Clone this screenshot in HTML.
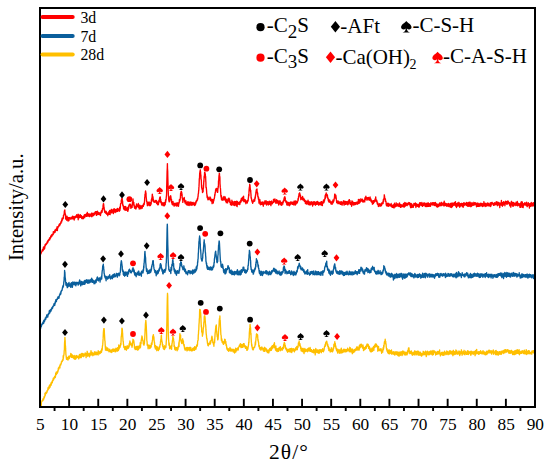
<!DOCTYPE html>
<html><head><meta charset="utf-8"><style>
html,body{margin:0;padding:0;background:#fff;}
body{width:550px;height:466px;overflow:hidden;}
svg{display:block;}
text{font-family:"Liberation Serif",serif;fill:#000;}
</style></head><body>
<svg width="550" height="466" viewBox="0 0 550 466">
<rect width="550" height="466" fill="#fff"/>
<path d="M40.0,406.8L40.1,402.9L40.3,404.9L40.4,404.0L40.6,403.8L40.7,403.7L40.8,402.2L41.0,403.3L41.1,402.7L41.3,405.4L41.4,402.7L41.5,402.0L41.7,401.7L41.8,401.2L42.0,400.7L42.1,400.8L42.2,401.1L42.4,400.3L42.5,400.9L42.7,399.8L42.8,399.7L42.9,400.5L43.1,399.5L43.2,398.4L43.4,398.7L43.5,398.9L43.6,399.7L43.8,397.7L43.9,397.5L44.1,398.1L44.2,396.4L44.3,396.8L44.5,397.3L44.6,396.6L44.8,395.8L44.9,396.0L45.0,393.1L45.2,395.7L45.3,393.8L45.5,392.8L45.6,393.9L45.7,394.0L45.9,392.9L46.0,392.3L46.2,392.8L46.3,392.4L46.4,393.4L46.6,392.7L46.7,392.1L46.9,392.7L47.0,391.3L47.1,390.5L47.3,391.3L47.4,391.0L47.6,390.3L47.7,389.7L47.8,390.3L48.0,387.8L48.1,389.8L48.3,389.4L48.4,387.5L48.5,388.6L48.7,387.6L48.8,388.7L49.0,386.2L49.1,386.8L49.2,387.8L49.4,388.0L49.5,385.3L49.7,386.3L49.8,386.7L49.9,385.7L50.1,387.1L50.2,384.6L50.4,385.6L50.5,384.2L50.6,385.7L50.8,384.5L50.9,383.9L51.1,382.8L51.2,385.2L51.3,384.1L51.5,383.7L51.6,383.7L51.8,382.9L51.9,381.9L52.0,381.6L52.2,381.3L52.3,382.7L52.5,380.2L52.6,380.6L52.7,380.5L52.9,380.7L53.0,380.7L53.2,378.8L53.3,378.1L53.4,379.2L53.6,379.9L53.7,379.4L53.9,378.6L54.0,377.8L54.1,378.0L54.3,377.4L54.4,378.1L54.6,376.4L54.7,376.9L54.8,376.3L55.0,376.5L55.1,375.9L55.3,377.5L55.4,376.5L55.5,376.4L55.7,373.3L55.8,374.1L56.0,373.8L56.1,374.4L56.2,372.1L56.4,374.5L56.5,374.1L56.7,372.1L56.8,372.0L56.9,372.0L57.1,372.4L57.2,372.5L57.4,373.1L57.5,371.1L57.6,371.5L57.8,370.8L57.9,371.8L58.1,370.4L58.2,370.6L58.3,368.3L58.5,368.8L58.6,367.8L58.8,369.2L58.9,368.3L59.0,367.3L59.2,367.0L59.3,367.4L59.5,366.4L59.6,366.0L59.7,366.6L59.9,367.9L60.0,365.6L60.2,365.1L60.3,364.3L60.4,364.1L60.6,365.0L60.7,365.0L60.9,364.1L61.0,364.3L61.1,363.7L61.3,363.4L61.4,361.7L61.6,362.2L61.7,362.2L61.8,361.4L62.0,361.3L62.1,360.6L62.3,360.7L62.4,361.3L62.5,359.9L62.7,359.6L62.8,360.0L63.0,359.6L63.1,360.2L63.2,355.8L63.4,358.1L63.5,356.1L63.7,355.9L63.8,355.3L63.9,354.7L64.1,353.3L64.2,350.6L64.4,349.9L64.5,345.1L64.6,342.3L64.8,340.6L64.9,337.4L65.1,340.0L65.2,340.7L65.3,345.0L65.5,346.1L65.6,348.9L65.8,352.0L65.9,354.6L66.0,354.7L66.2,356.8L66.3,357.2L66.5,359.3L66.6,357.6L66.7,359.4L66.9,357.7L67.0,357.5L67.2,357.8L67.3,357.4L67.4,358.6L67.6,359.5L67.7,358.7L67.9,359.1L68.0,360.0L68.1,358.6L68.3,358.6L68.4,358.0L68.6,356.6L68.7,358.9L68.8,356.1L69.0,358.4L69.1,357.5L69.3,358.5L69.4,357.1L69.5,356.1L69.7,357.2L69.8,356.1L70.0,356.3L70.1,356.5L70.2,356.3L70.4,355.9L70.5,355.3L70.7,355.6L70.8,353.4L70.9,355.5L71.1,354.5L71.2,357.0L71.4,357.3L71.5,354.1L71.6,356.5L71.8,356.2L71.9,355.4L72.1,357.3L72.2,356.3L72.3,355.0L72.5,356.7L72.6,356.9L72.8,357.3L72.9,356.0L73.0,357.7L73.2,357.8L73.3,356.0L73.5,356.6L73.6,356.9L73.7,356.3L73.9,358.6L74.0,356.8L74.2,355.5L74.3,355.8L74.4,356.6L74.6,359.1L74.7,356.6L74.9,357.0L75.0,357.4L75.1,357.0L75.3,359.3L75.4,356.3L75.6,357.6L75.7,357.1L75.8,357.3L76.0,355.6L76.1,358.7L76.3,356.7L76.4,356.8L76.5,355.6L76.7,355.5L76.8,356.8L77.0,357.2L77.1,357.0L77.2,357.3L77.4,357.1L77.5,356.4L77.7,357.1L77.8,356.9L77.9,356.3L78.1,357.2L78.2,357.8L78.4,356.8L78.5,356.2L78.6,357.4L78.8,358.8L78.9,356.7L79.1,356.6L79.2,356.4L79.3,357.6L79.5,354.4L79.6,356.5L79.8,357.4L79.9,355.2L80.0,357.6L80.2,356.4L80.3,355.2L80.5,356.0L80.6,354.1L80.7,355.1L80.9,357.5L81.0,354.6L81.2,357.6L81.3,355.9L81.4,357.0L81.6,355.9L81.7,353.4L81.9,354.8L82.0,355.7L82.1,354.3L82.3,354.2L82.4,356.0L82.6,354.8L82.7,353.5L82.8,354.7L83.0,356.2L83.1,354.9L83.3,356.2L83.4,356.6L83.5,355.0L83.7,353.8L83.8,353.8L84.0,355.2L84.1,356.2L84.2,355.6L84.4,355.5L84.5,354.4L84.7,355.2L84.8,354.6L84.9,354.7L85.1,353.5L85.2,353.0L85.4,354.1L85.5,353.2L85.6,353.6L85.8,355.3L85.9,354.5L86.1,357.6L86.2,355.6L86.3,353.9L86.5,355.7L86.6,355.2L86.8,354.0L86.9,355.6L87.0,353.6L87.2,351.3L87.3,355.4L87.5,354.1L87.6,356.2L87.7,353.9L87.9,353.2L88.0,355.9L88.2,353.3L88.3,354.5L88.4,355.9L88.6,354.7L88.7,354.6L88.9,354.9L89.0,355.7L89.1,354.0L89.3,355.4L89.4,355.2L89.6,356.8L89.7,354.1L89.8,353.2L90.0,355.2L90.1,354.1L90.3,354.5L90.4,354.2L90.5,355.1L90.7,352.7L90.8,353.1L91.0,350.7L91.1,352.4L91.2,355.1L91.4,352.7L91.5,352.7L91.7,352.3L91.8,354.3L91.9,354.1L92.1,352.4L92.2,354.3L92.4,354.0L92.5,354.2L92.6,353.0L92.8,355.7L92.9,354.5L93.1,353.9L93.2,353.4L93.3,353.5L93.5,354.7L93.6,353.5L93.8,354.8L93.9,354.2L94.0,355.0L94.2,354.5L94.3,353.6L94.5,351.8L94.6,354.1L94.7,354.5L94.9,353.9L95.0,353.9L95.2,352.8L95.3,352.9L95.4,352.3L95.6,354.6L95.7,353.3L95.9,352.8L96.0,352.0L96.1,353.1L96.3,354.7L96.4,353.6L96.6,352.4L96.7,354.5L96.8,354.2L97.0,353.8L97.1,353.8L97.3,354.2L97.4,353.6L97.5,353.9L97.7,352.2L97.8,354.5L98.0,353.3L98.1,355.0L98.2,350.7L98.4,353.3L98.5,353.6L98.7,352.3L98.8,353.0L98.9,353.3L99.1,353.0L99.2,351.8L99.4,352.2L99.5,353.5L99.6,353.9L99.8,352.8L99.9,352.8L100.1,352.5L100.2,353.4L100.3,351.4L100.5,351.2L100.6,352.4L100.8,351.1L100.9,351.6L101.0,352.2L101.2,352.5L101.3,350.7L101.5,352.3L101.6,349.3L101.7,351.2L101.9,348.5L102.0,348.5L102.2,349.9L102.3,348.1L102.4,346.4L102.6,345.5L102.7,344.9L102.9,342.3L103.0,340.2L103.1,338.9L103.3,334.5L103.4,332.2L103.6,330.0L103.7,329.7L103.8,328.6L104.0,328.9L104.1,328.6L104.3,330.3L104.4,333.5L104.5,334.9L104.7,338.3L104.8,340.5L105.0,341.0L105.1,343.3L105.2,345.0L105.4,348.1L105.5,350.1L105.7,347.9L105.8,348.7L105.9,346.7L106.1,349.5L106.2,349.3L106.4,348.2L106.5,350.2L106.6,347.8L106.8,349.2L106.9,349.7L107.1,348.2L107.2,350.4L107.3,350.6L107.5,348.0L107.6,348.0L107.8,350.1L107.9,349.6L108.0,348.3L108.2,349.2L108.3,349.5L108.5,349.7L108.6,350.7L108.7,350.2L108.9,351.7L109.0,351.3L109.2,350.9L109.3,351.4L109.4,351.6L109.6,351.1L109.7,349.1L109.9,351.2L110.0,350.4L110.1,351.7L110.3,350.4L110.4,351.0L110.6,350.7L110.7,352.0L110.8,350.5L111.0,350.4L111.1,351.1L111.3,350.0L111.4,350.6L111.5,350.5L111.7,350.7L111.8,352.5L112.0,350.2L112.1,350.3L112.2,350.4L112.4,351.1L112.5,349.2L112.7,349.6L112.8,350.3L112.9,350.7L113.1,349.9L113.2,349.1L113.4,349.0L113.5,350.4L113.6,351.4L113.8,350.3L113.9,350.1L114.1,350.4L114.2,349.4L114.3,350.0L114.5,350.0L114.6,350.5L114.8,350.2L114.9,349.1L115.0,351.5L115.2,351.9L115.3,350.0L115.5,350.2L115.6,350.1L115.7,350.7L115.9,348.3L116.0,351.5L116.2,349.2L116.3,350.7L116.4,349.5L116.6,349.0L116.7,349.1L116.9,350.2L117.0,348.3L117.1,348.8L117.3,348.8L117.4,347.7L117.6,351.1L117.7,350.4L117.8,349.5L118.0,350.4L118.1,347.9L118.3,348.7L118.4,350.4L118.5,349.6L118.7,346.1L118.8,344.9L119.0,347.0L119.1,349.0L119.2,347.3L119.4,347.4L119.5,348.0L119.7,346.2L119.8,347.0L119.9,347.4L120.1,346.9L120.2,346.6L120.4,345.0L120.5,345.5L120.6,343.5L120.8,344.3L120.9,344.6L121.1,339.9L121.2,336.7L121.3,336.6L121.5,335.3L121.6,334.0L121.8,332.3L121.9,328.8L122.0,328.2L122.2,330.3L122.3,328.9L122.5,332.6L122.6,333.1L122.7,336.1L122.9,338.4L123.0,340.3L123.2,341.9L123.3,341.4L123.4,344.1L123.6,344.7L123.7,345.8L123.9,347.4L124.0,346.6L124.1,346.5L124.3,346.9L124.4,347.3L124.6,348.6L124.7,347.1L124.8,349.5L125.0,348.3L125.1,347.7L125.3,346.7L125.4,348.4L125.5,348.8L125.7,346.4L125.8,349.3L126.0,349.7L126.1,348.3L126.2,348.1L126.4,350.2L126.5,349.0L126.7,347.0L126.8,348.1L126.9,347.9L127.1,347.9L127.2,345.6L127.4,348.7L127.5,347.2L127.6,348.0L127.8,347.6L127.9,348.5L128.1,347.2L128.2,346.5L128.3,347.6L128.5,348.1L128.6,346.1L128.8,347.5L128.9,346.0L129.0,344.7L129.2,346.4L129.3,343.5L129.5,344.9L129.6,342.8L129.7,343.1L129.9,341.0L130.0,341.2L130.2,343.0L130.3,342.6L130.4,342.8L130.6,342.9L130.7,344.4L130.9,343.1L131.0,343.6L131.1,345.2L131.3,344.5L131.4,345.0L131.6,345.6L131.7,345.6L131.8,345.4L132.0,347.3L132.1,346.1L132.3,345.9L132.4,344.0L132.5,343.2L132.7,341.5L132.8,341.9L133.0,339.3L133.1,340.4L133.2,341.5L133.4,342.4L133.5,341.6L133.7,340.2L133.8,342.2L133.9,341.4L134.1,344.0L134.2,343.9L134.4,345.6L134.5,348.0L134.6,346.9L134.8,348.8L134.9,347.1L135.1,347.1L135.2,349.0L135.3,349.5L135.5,347.4L135.6,348.2L135.8,346.8L135.9,348.0L136.0,349.3L136.2,348.1L136.3,347.5L136.5,346.5L136.6,348.4L136.7,348.8L136.9,348.8L137.0,348.4L137.2,346.8L137.3,350.1L137.4,348.1L137.6,348.0L137.7,348.9L137.9,346.1L138.0,348.2L138.1,348.2L138.3,348.7L138.4,349.7L138.6,349.0L138.7,346.4L138.8,348.0L139.0,348.5L139.1,348.1L139.3,346.5L139.4,345.8L139.5,347.8L139.7,347.4L139.8,346.7L140.0,344.7L140.1,347.9L140.2,342.8L140.4,345.3L140.5,347.3L140.7,344.4L140.8,344.3L140.9,341.9L141.1,343.6L141.2,340.0L141.4,340.7L141.5,339.7L141.6,337.7L141.8,338.8L141.9,336.0L142.1,336.5L142.2,337.4L142.3,337.5L142.5,338.7L142.6,340.1L142.8,339.9L142.9,340.3L143.0,341.0L143.2,341.9L143.3,343.9L143.5,343.5L143.6,344.4L143.7,344.2L143.9,343.5L144.0,345.2L144.2,342.7L144.3,343.1L144.4,343.7L144.6,339.8L144.7,339.0L144.9,335.1L145.0,333.5L145.1,329.7L145.3,327.6L145.4,324.3L145.6,322.3L145.7,322.3L145.8,320.4L146.0,322.1L146.1,323.7L146.3,326.6L146.4,329.2L146.5,331.3L146.7,336.3L146.8,340.3L147.0,341.3L147.1,341.8L147.2,345.3L147.4,344.2L147.5,344.7L147.7,344.6L147.8,345.2L147.9,346.4L148.1,348.8L148.2,346.7L148.4,345.7L148.5,346.3L148.6,346.9L148.8,345.2L148.9,347.2L149.1,347.7L149.2,347.5L149.3,347.7L149.5,345.9L149.6,345.5L149.8,348.6L149.9,348.3L150.0,345.4L150.2,347.2L150.3,346.9L150.5,347.8L150.6,347.4L150.7,346.6L150.9,347.3L151.0,347.1L151.2,346.7L151.3,344.5L151.4,343.1L151.6,344.8L151.7,343.4L151.9,344.5L152.0,344.0L152.1,342.8L152.3,340.9L152.4,340.2L152.6,340.0L152.7,336.6L152.8,336.9L153.0,335.9L153.1,335.1L153.3,336.4L153.4,334.6L153.5,337.1L153.7,336.4L153.8,337.5L154.0,338.5L154.1,341.3L154.2,340.7L154.4,342.8L154.5,342.4L154.7,345.1L154.8,346.9L154.9,345.7L155.1,347.6L155.2,346.8L155.4,349.0L155.5,347.1L155.6,345.7L155.8,348.8L155.9,347.4L156.1,346.5L156.2,347.1L156.3,346.5L156.5,348.3L156.6,347.8L156.8,350.7L156.9,349.6L157.0,347.3L157.2,347.5L157.3,348.5L157.5,346.9L157.6,348.8L157.7,348.6L157.9,348.0L158.0,348.2L158.2,349.5L158.3,350.4L158.4,350.5L158.6,348.9L158.7,349.7L158.9,348.1L159.0,349.2L159.1,347.6L159.3,349.1L159.4,346.7L159.6,346.4L159.7,347.2L159.8,347.4L160.0,344.8L160.1,345.0L160.3,344.8L160.4,343.9L160.5,341.6L160.7,341.4L160.8,339.5L161.0,340.0L161.1,338.2L161.2,336.1L161.4,335.2L161.5,338.0L161.7,340.1L161.8,340.0L161.9,342.0L162.1,341.8L162.2,341.8L162.4,344.6L162.5,345.1L162.6,346.3L162.8,344.4L162.9,346.6L163.1,346.2L163.2,348.2L163.3,346.8L163.5,346.9L163.6,347.2L163.8,349.2L163.9,348.0L164.0,347.1L164.2,346.8L164.3,346.9L164.5,349.5L164.6,345.8L164.7,346.8L164.9,348.2L165.0,348.5L165.2,347.0L165.3,347.5L165.4,347.5L165.6,347.5L165.7,346.2L165.9,347.3L166.0,345.0L166.1,345.2L166.3,340.8L166.4,340.4L166.6,334.8L166.7,329.4L166.8,325.0L167.0,316.0L167.1,308.7L167.3,299.1L167.4,296.3L167.5,293.3L167.7,295.9L167.8,304.6L168.0,313.9L168.1,320.5L168.2,328.9L168.4,336.0L168.5,338.9L168.7,340.8L168.8,342.5L168.9,345.1L169.1,343.8L169.2,342.9L169.4,345.5L169.5,345.4L169.6,348.7L169.8,347.2L169.9,346.1L170.1,346.2L170.2,347.8L170.3,346.7L170.5,347.1L170.6,347.8L170.8,348.0L170.9,348.0L171.0,347.7L171.2,348.9L171.3,349.0L171.5,345.3L171.6,349.3L171.7,345.9L171.9,346.3L172.0,343.4L172.2,343.3L172.3,341.9L172.4,340.6L172.6,340.1L172.7,338.9L172.9,336.3L173.0,336.8L173.1,337.9L173.3,338.4L173.4,338.3L173.6,339.7L173.7,340.9L173.8,341.2L174.0,342.4L174.1,346.4L174.3,345.3L174.4,346.5L174.5,346.3L174.7,348.8L174.8,349.4L175.0,347.8L175.1,348.7L175.2,347.5L175.4,350.1L175.5,349.2L175.7,347.4L175.8,349.6L175.9,348.8L176.1,348.8L176.2,349.0L176.4,347.8L176.5,348.0L176.6,349.1L176.8,348.4L176.9,347.6L177.1,350.8L177.2,348.3L177.3,348.1L177.5,348.2L177.6,349.7L177.8,349.8L177.9,348.9L178.0,349.3L178.2,346.3L178.3,346.9L178.5,346.4L178.6,346.3L178.7,345.9L178.9,342.6L179.0,346.7L179.2,341.5L179.3,341.4L179.4,340.6L179.6,339.3L179.7,337.6L179.9,333.6L180.0,335.0L180.1,336.7L180.3,335.3L180.4,335.7L180.6,335.1L180.7,339.7L180.8,340.1L181.0,339.7L181.1,341.4L181.3,342.0L181.4,341.7L181.5,342.7L181.7,343.3L181.8,343.4L182.0,343.6L182.1,341.8L182.2,340.6L182.4,340.9L182.5,339.4L182.7,338.8L182.8,341.4L182.9,340.0L183.1,340.8L183.2,342.0L183.4,340.9L183.5,343.6L183.6,344.3L183.8,344.5L183.9,345.8L184.1,345.4L184.2,344.6L184.3,347.3L184.5,346.9L184.6,349.0L184.8,348.4L184.9,347.5L185.0,348.4L185.2,350.2L185.3,350.0L185.5,349.4L185.6,349.5L185.7,348.8L185.9,349.1L186.0,349.6L186.2,348.9L186.3,349.2L186.4,347.8L186.6,347.5L186.7,347.6L186.9,348.9L187.0,350.9L187.1,350.7L187.3,348.1L187.4,347.6L187.6,349.8L187.7,349.3L187.8,347.5L188.0,350.1L188.1,349.1L188.3,350.1L188.4,349.4L188.5,350.0L188.7,349.2L188.8,347.8L189.0,348.4L189.1,348.0L189.2,349.6L189.4,347.9L189.5,347.4L189.7,349.9L189.8,350.4L189.9,350.7L190.1,350.2L190.2,347.7L190.4,348.8L190.5,348.9L190.6,349.3L190.8,347.3L190.9,349.6L191.1,350.1L191.2,348.8L191.3,349.7L191.5,350.8L191.6,349.8L191.8,350.8L191.9,350.8L192.0,350.0L192.2,350.0L192.3,349.2L192.5,350.6L192.6,348.8L192.7,348.4L192.9,349.9L193.0,348.3L193.2,349.5L193.3,350.0L193.4,349.0L193.6,349.2L193.7,349.9L193.9,349.7L194.0,347.4L194.1,347.6L194.3,350.4L194.4,349.4L194.6,346.7L194.7,347.5L194.8,348.9L195.0,347.7L195.1,348.9L195.3,348.4L195.4,348.9L195.5,347.2L195.7,348.3L195.8,349.5L196.0,346.6L196.1,348.4L196.2,347.9L196.4,347.3L196.5,346.3L196.7,345.0L196.8,344.9L196.9,346.3L197.1,346.2L197.2,346.1L197.4,345.1L197.5,344.4L197.6,342.0L197.8,340.6L197.9,340.9L198.1,339.9L198.2,338.1L198.3,334.8L198.5,333.8L198.6,330.6L198.8,330.0L198.9,326.2L199.0,324.3L199.2,322.1L199.3,319.0L199.5,317.6L199.6,312.3L199.7,309.4L199.9,310.9L200.0,310.6L200.2,310.4L200.3,309.8L200.4,311.4L200.6,312.9L200.7,313.8L200.9,317.0L201.0,320.5L201.1,322.2L201.3,326.9L201.4,325.3L201.6,328.5L201.7,332.0L201.8,331.8L202.0,332.1L202.1,332.5L202.3,333.8L202.4,336.2L202.5,335.1L202.7,334.7L202.8,333.0L203.0,333.3L203.1,331.6L203.2,329.0L203.4,328.0L203.5,327.2L203.7,326.6L203.8,323.4L203.9,322.1L204.1,321.9L204.2,317.6L204.4,315.9L204.5,317.4L204.6,316.2L204.8,315.9L204.9,316.8L205.1,317.8L205.2,320.2L205.3,321.3L205.5,324.3L205.6,324.5L205.8,326.5L205.9,329.4L206.0,330.6L206.2,333.6L206.3,334.7L206.5,335.6L206.6,337.9L206.7,338.5L206.9,338.3L207.0,339.8L207.2,340.5L207.3,341.5L207.4,342.6L207.6,343.8L207.7,343.7L207.9,345.5L208.0,345.2L208.1,343.8L208.3,345.8L208.4,345.2L208.6,343.5L208.7,344.2L208.8,344.9L209.0,343.9L209.1,344.5L209.3,343.9L209.4,343.9L209.5,342.9L209.7,343.9L209.8,342.8L210.0,343.8L210.1,341.3L210.2,343.3L210.4,344.0L210.5,343.2L210.7,342.2L210.8,342.4L210.9,340.8L211.1,340.3L211.2,340.4L211.4,339.9L211.5,340.5L211.6,337.5L211.8,338.7L211.9,336.1L212.1,336.9L212.2,338.0L212.3,340.2L212.5,339.4L212.6,339.0L212.8,342.6L212.9,342.9L213.0,342.5L213.2,343.2L213.3,343.6L213.5,344.4L213.6,345.0L213.7,342.8L213.9,346.3L214.0,343.6L214.2,342.6L214.3,342.9L214.4,341.3L214.6,342.8L214.7,340.1L214.9,337.2L215.0,335.6L215.1,333.7L215.3,332.2L215.4,331.6L215.6,328.6L215.7,329.2L215.8,326.4L216.0,325.8L216.1,327.0L216.3,324.9L216.4,327.3L216.5,330.4L216.7,331.2L216.8,332.8L217.0,334.6L217.1,335.1L217.2,336.7L217.4,336.2L217.5,336.3L217.7,339.9L217.8,337.7L217.9,337.3L218.1,339.1L218.2,337.5L218.4,334.4L218.5,332.5L218.6,330.9L218.8,327.6L218.9,327.0L219.1,324.2L219.2,321.4L219.3,320.2L219.5,318.4L219.6,318.6L219.8,318.3L219.9,315.9L220.0,320.4L220.2,320.3L220.3,322.5L220.5,327.3L220.6,328.6L220.7,331.2L220.9,335.0L221.0,334.9L221.2,336.0L221.3,338.5L221.4,340.4L221.6,340.7L221.7,338.7L221.9,339.6L222.0,340.3L222.1,342.2L222.3,341.4L222.4,341.6L222.6,342.3L222.7,341.5L222.8,343.0L223.0,343.4L223.1,342.4L223.3,343.7L223.4,344.4L223.5,342.4L223.7,343.9L223.8,343.7L224.0,343.7L224.1,341.1L224.2,341.5L224.4,342.2L224.5,341.3L224.7,339.2L224.8,339.9L224.9,341.0L225.1,339.4L225.2,340.2L225.4,343.1L225.5,341.2L225.6,341.7L225.8,341.5L225.9,342.8L226.1,345.5L226.2,344.7L226.3,344.4L226.5,345.3L226.6,346.8L226.8,348.4L226.9,347.2L227.0,349.2L227.2,348.5L227.3,349.4L227.5,349.9L227.6,350.1L227.7,349.5L227.9,349.8L228.0,350.4L228.2,348.6L228.3,350.1L228.4,350.5L228.6,351.2L228.7,350.1L228.9,349.7L229.0,350.2L229.1,349.2L229.3,349.7L229.4,350.5L229.6,350.1L229.7,348.7L229.8,349.3L230.0,347.5L230.1,350.7L230.3,349.3L230.4,350.1L230.5,348.9L230.7,349.8L230.8,350.3L231.0,351.2L231.1,348.8L231.2,351.0L231.4,350.0L231.5,349.4L231.7,350.8L231.8,350.2L231.9,350.1L232.1,349.6L232.2,350.6L232.4,350.5L232.5,350.2L232.6,349.3L232.8,350.0L232.9,350.9L233.1,351.6L233.2,350.5L233.3,352.0L233.5,350.6L233.6,349.5L233.8,351.2L233.9,349.3L234.0,350.8L234.2,351.5L234.3,349.9L234.5,350.3L234.6,353.0L234.7,350.9L234.9,350.9L235.0,351.5L235.2,350.6L235.3,350.4L235.4,351.1L235.6,348.2L235.7,352.1L235.9,349.4L236.0,349.5L236.1,351.0L236.3,350.7L236.4,349.4L236.6,350.9L236.7,349.3L236.8,349.5L237.0,348.5L237.1,348.9L237.3,349.8L237.4,349.2L237.5,349.0L237.7,349.6L237.8,348.5L238.0,347.8L238.1,348.3L238.2,350.0L238.4,347.9L238.5,347.9L238.7,347.1L238.8,347.1L238.9,346.9L239.1,346.2L239.2,345.9L239.4,345.1L239.5,345.1L239.6,346.2L239.8,346.1L239.9,346.2L240.1,345.1L240.2,344.0L240.3,345.4L240.5,345.6L240.6,343.6L240.8,346.1L240.9,346.3L241.0,347.6L241.2,345.0L241.3,345.1L241.5,347.3L241.6,344.6L241.7,345.9L241.9,345.5L242.0,345.5L242.2,344.6L242.3,346.1L242.4,347.4L242.6,346.6L242.7,346.6L242.9,345.4L243.0,347.2L243.1,346.1L243.3,346.3L243.4,343.6L243.6,345.2L243.7,343.7L243.8,345.2L244.0,345.1L244.1,343.7L244.3,345.3L244.4,346.4L244.5,346.2L244.7,346.7L244.8,345.4L245.0,346.0L245.1,345.6L245.2,347.1L245.4,348.2L245.5,347.7L245.7,347.7L245.8,346.6L245.9,348.4L246.1,348.0L246.2,346.5L246.4,346.9L246.5,348.5L246.6,347.7L246.8,350.3L246.9,348.5L247.1,347.4L247.2,348.1L247.3,350.2L247.5,347.7L247.6,349.0L247.8,348.5L247.9,349.1L248.0,347.8L248.2,346.2L248.3,346.3L248.5,344.8L248.6,344.6L248.7,342.2L248.9,342.8L249.0,338.9L249.2,337.5L249.3,334.1L249.4,332.3L249.6,330.1L249.7,328.4L249.9,327.4L250.0,324.8L250.1,324.4L250.3,327.0L250.4,326.8L250.6,328.4L250.7,332.5L250.8,334.6L251.0,333.4L251.1,337.8L251.3,340.6L251.4,342.4L251.5,342.7L251.7,345.9L251.8,344.4L252.0,345.9L252.1,347.1L252.2,347.2L252.4,348.4L252.5,349.2L252.7,348.1L252.8,349.6L252.9,347.6L253.1,348.0L253.2,349.9L253.4,348.2L253.5,349.2L253.6,347.6L253.8,347.8L253.9,347.6L254.1,347.7L254.2,346.9L254.3,347.1L254.5,347.3L254.6,347.5L254.8,346.0L254.9,346.2L255.0,345.8L255.2,343.3L255.3,342.0L255.5,344.8L255.6,343.4L255.7,341.1L255.9,340.2L256.0,338.1L256.2,336.5L256.3,337.2L256.4,334.3L256.6,336.1L256.7,333.8L256.9,334.4L257.0,336.0L257.1,336.3L257.3,334.4L257.4,336.6L257.6,335.0L257.7,336.6L257.8,338.7L258.0,340.7L258.1,339.5L258.3,341.5L258.4,342.2L258.5,341.7L258.7,343.6L258.8,346.1L259.0,345.1L259.1,346.3L259.2,347.0L259.4,345.6L259.5,348.1L259.7,348.9L259.8,349.0L259.9,349.0L260.1,347.5L260.2,347.5L260.4,347.7L260.5,347.7L260.6,347.9L260.8,349.7L260.9,350.2L261.1,348.1L261.2,349.6L261.3,347.5L261.5,348.5L261.6,347.6L261.8,347.0L261.9,348.8L262.0,348.8L262.2,348.5L262.3,348.6L262.5,348.2L262.6,348.9L262.7,348.7L262.9,349.8L263.0,348.3L263.2,349.9L263.3,350.2L263.4,351.0L263.6,350.8L263.7,350.1L263.9,349.1L264.0,347.9L264.1,349.7L264.3,351.3L264.4,351.4L264.6,347.3L264.7,348.9L264.8,349.2L265.0,348.7L265.1,349.9L265.3,349.8L265.4,349.2L265.5,349.5L265.7,348.1L265.8,348.8L266.0,349.1L266.1,351.2L266.2,348.6L266.4,349.9L266.5,350.8L266.7,349.7L266.8,350.9L266.9,349.5L267.1,350.6L267.2,351.3L267.4,352.6L267.5,351.1L267.6,352.1L267.8,350.6L267.9,350.6L268.1,352.1L268.2,350.8L268.3,351.5L268.5,350.6L268.6,352.6L268.8,353.0L268.9,349.6L269.0,352.2L269.2,350.6L269.3,350.5L269.5,349.9L269.6,350.5L269.7,348.5L269.9,348.8L270.0,348.8L270.2,349.8L270.3,350.6L270.4,350.5L270.6,350.2L270.7,348.8L270.9,347.5L271.0,349.6L271.1,349.4L271.3,349.3L271.4,350.3L271.6,348.5L271.7,348.7L271.8,346.3L272.0,348.9L272.1,347.9L272.3,347.0L272.4,347.7L272.5,345.7L272.7,345.8L272.8,348.1L273.0,346.5L273.1,346.5L273.2,345.9L273.4,345.8L273.5,345.0L273.7,347.1L273.8,344.3L273.9,345.4L274.1,344.6L274.2,344.8L274.4,342.7L274.5,343.5L274.6,347.7L274.8,348.0L274.9,346.4L275.1,347.2L275.2,348.1L275.3,346.8L275.5,349.9L275.6,347.5L275.8,347.9L275.9,346.0L276.0,350.5L276.2,349.2L276.3,350.8L276.5,348.3L276.6,349.6L276.7,349.3L276.9,349.5L277.0,351.5L277.2,351.6L277.3,350.8L277.4,348.8L277.6,350.0L277.7,350.4L277.9,349.5L278.0,349.8L278.1,349.7L278.3,348.5L278.4,349.7L278.6,351.3L278.7,348.5L278.8,349.6L279.0,350.4L279.1,348.1L279.3,349.1L279.4,347.4L279.5,348.7L279.7,347.8L279.8,348.3L280.0,348.8L280.1,349.0L280.2,349.2L280.4,346.7L280.5,350.7L280.7,348.8L280.8,348.2L280.9,348.9L281.1,349.7L281.2,348.5L281.4,349.0L281.5,349.0L281.6,349.8L281.8,348.5L281.9,349.6L282.1,349.5L282.2,349.0L282.3,350.1L282.5,348.8L282.6,347.5L282.8,348.5L282.9,347.9L283.0,347.2L283.2,347.2L283.3,348.7L283.5,345.9L283.6,345.6L283.7,344.5L283.9,345.7L284.0,344.1L284.2,342.9L284.3,342.5L284.4,344.5L284.6,345.2L284.7,343.2L284.9,344.9L285.0,346.8L285.1,347.7L285.3,345.5L285.4,346.9L285.6,348.8L285.7,347.9L285.8,348.3L286.0,348.4L286.1,348.0L286.3,349.7L286.4,350.0L286.5,348.3L286.7,349.8L286.8,350.9L287.0,350.1L287.1,351.0L287.2,349.6L287.4,351.8L287.5,349.7L287.7,352.3L287.8,349.8L287.9,349.4L288.1,349.3L288.2,349.8L288.4,349.9L288.5,349.8L288.6,350.0L288.8,351.2L288.9,351.4L289.1,350.0L289.2,351.5L289.3,349.2L289.5,349.0L289.6,348.9L289.8,350.9L289.9,348.8L290.0,349.1L290.2,351.7L290.3,352.1L290.5,351.5L290.6,348.6L290.7,350.2L290.9,351.0L291.0,350.2L291.2,348.4L291.3,349.9L291.4,348.5L291.6,349.1L291.7,352.6L291.9,351.0L292.0,348.9L292.1,348.8L292.3,350.8L292.4,349.5L292.6,350.9L292.7,349.8L292.8,350.4L293.0,351.0L293.1,349.5L293.3,348.7L293.4,349.3L293.5,349.8L293.7,350.1L293.8,350.2L294.0,350.3L294.1,350.7L294.2,349.1L294.4,351.4L294.5,351.8L294.7,350.0L294.8,349.6L294.9,350.5L295.1,349.7L295.2,349.5L295.4,349.2L295.5,348.4L295.6,347.9L295.8,349.6L295.9,350.0L296.1,347.4L296.2,348.5L296.3,348.8L296.5,348.0L296.6,348.0L296.8,348.1L296.9,346.4L297.0,348.1L297.2,347.5L297.3,349.7L297.5,348.0L297.6,346.4L297.7,346.3L297.9,347.7L298.0,347.3L298.2,345.6L298.3,344.7L298.4,342.9L298.6,343.5L298.7,343.2L298.9,342.2L299.0,344.6L299.1,340.9L299.3,342.8L299.4,343.6L299.6,344.0L299.7,345.8L299.8,343.3L300.0,344.4L300.1,345.5L300.3,346.2L300.4,346.1L300.5,346.2L300.7,348.6L300.8,346.9L301.0,348.0L301.1,350.4L301.2,350.9L301.4,350.2L301.5,348.7L301.7,348.9L301.8,348.6L301.9,348.5L302.1,349.6L302.2,351.4L302.4,350.3L302.5,349.5L302.6,349.5L302.8,349.4L302.9,351.8L303.1,348.3L303.2,350.6L303.3,349.0L303.5,349.6L303.6,349.0L303.8,351.7L303.9,350.8L304.0,353.6L304.2,349.5L304.3,349.6L304.5,351.6L304.6,351.6L304.7,350.7L304.9,348.4L305.0,351.9L305.2,351.2L305.3,351.1L305.4,350.0L305.6,351.0L305.7,349.8L305.9,350.1L306.0,349.8L306.1,351.2L306.3,349.8L306.4,349.9L306.6,351.1L306.7,350.0L306.8,349.7L307.0,349.7L307.1,351.0L307.3,349.0L307.4,350.2L307.5,351.7L307.7,350.3L307.8,349.1L308.0,348.8L308.1,350.2L308.2,348.9L308.4,348.2L308.5,349.0L308.7,348.6L308.8,350.5L308.9,348.2L309.1,351.3L309.2,348.8L309.4,349.8L309.5,350.2L309.6,349.8L309.8,350.3L309.9,348.7L310.1,347.5L310.2,349.8L310.3,348.4L310.5,349.8L310.6,351.4L310.8,350.4L310.9,350.1L311.0,349.7L311.2,350.6L311.3,350.9L311.5,349.6L311.6,351.7L311.7,350.2L311.9,351.5L312.0,350.8L312.2,352.1L312.3,351.8L312.4,350.8L312.6,350.8L312.7,351.3L312.9,352.3L313.0,352.1L313.1,351.2L313.3,351.5L313.4,352.8L313.6,349.5L313.7,351.5L313.8,350.3L314.0,352.5L314.1,350.7L314.3,351.1L314.4,350.4L314.5,351.4L314.7,352.1L314.8,352.8L315.0,349.8L315.1,350.6L315.2,354.9L315.4,351.7L315.5,350.8L315.7,351.4L315.8,348.4L315.9,352.6L316.1,351.2L316.2,349.6L316.4,352.3L316.5,350.4L316.6,350.0L316.8,351.8L316.9,351.8L317.1,350.9L317.2,351.3L317.3,350.0L317.5,349.9L317.6,352.2L317.8,352.7L317.9,351.7L318.0,351.8L318.2,351.0L318.3,351.2L318.5,350.4L318.6,353.2L318.7,350.6L318.9,351.4L319.0,351.0L319.2,349.7L319.3,353.1L319.4,350.8L319.6,350.5L319.7,351.5L319.9,350.3L320.0,351.3L320.1,350.3L320.3,351.7L320.4,351.2L320.6,349.6L320.7,351.9L320.8,351.2L321.0,350.0L321.1,351.4L321.3,351.4L321.4,352.7L321.5,349.8L321.7,351.5L321.8,350.6L322.0,351.4L322.1,350.5L322.2,350.7L322.4,351.4L322.5,349.5L322.7,348.7L322.8,350.7L322.9,350.4L323.1,350.8L323.2,351.2L323.4,350.2L323.5,351.8L323.6,350.4L323.8,350.3L323.9,350.5L324.1,349.9L324.2,348.7L324.3,348.0L324.5,346.7L324.6,346.4L324.8,346.5L324.9,346.7L325.0,344.7L325.2,345.3L325.3,346.2L325.5,345.8L325.6,342.9L325.7,343.2L325.9,342.4L326.0,342.2L326.2,341.7L326.3,341.4L326.4,342.1L326.6,341.5L326.7,341.1L326.9,342.1L327.0,342.9L327.1,344.1L327.3,343.8L327.4,344.7L327.6,346.0L327.7,344.1L327.8,345.3L328.0,346.6L328.1,346.5L328.3,346.2L328.4,348.5L328.5,347.9L328.7,347.2L328.8,350.6L329.0,347.6L329.1,349.2L329.2,348.7L329.4,349.8L329.5,350.3L329.7,349.2L329.8,350.0L329.9,350.3L330.1,349.6L330.2,352.0L330.4,350.8L330.5,350.4L330.6,349.9L330.8,350.5L330.9,350.8L331.1,350.1L331.2,351.5L331.3,347.7L331.5,348.2L331.6,350.4L331.8,348.7L331.9,350.5L332.0,349.7L332.2,351.0L332.3,350.9L332.5,351.8L332.6,351.3L332.7,351.3L332.9,350.2L333.0,350.8L333.2,349.9L333.3,348.6L333.4,347.6L333.6,347.0L333.7,348.1L333.9,344.3L334.0,346.4L334.1,344.8L334.3,345.6L334.4,344.5L334.6,343.2L334.7,343.8L334.8,341.7L335.0,344.7L335.1,345.3L335.3,343.5L335.4,346.8L335.5,346.2L335.7,347.0L335.8,345.8L336.0,348.5L336.1,348.9L336.2,348.9L336.4,348.1L336.5,350.1L336.7,350.9L336.8,350.2L336.9,350.7L337.1,349.0L337.2,349.9L337.4,350.0L337.5,350.0L337.6,353.1L337.8,350.9L337.9,350.0L338.1,351.4L338.2,349.5L338.3,351.0L338.5,351.7L338.6,350.6L338.8,350.8L338.9,350.3L339.0,351.7L339.2,350.9L339.3,353.1L339.5,352.2L339.6,351.1L339.7,349.8L339.9,353.3L340.0,352.6L340.2,351.7L340.3,351.3L340.4,351.4L340.6,350.4L340.7,352.6L340.9,350.6L341.0,349.0L341.1,349.9L341.3,348.2L341.4,351.5L341.6,351.7L341.7,352.8L341.8,353.1L342.0,350.2L342.1,351.3L342.3,351.9L342.4,351.6L342.5,350.1L342.7,351.7L342.8,351.3L343.0,352.4L343.1,350.7L343.2,350.2L343.4,349.6L343.5,349.7L343.7,349.1L343.8,349.5L343.9,350.5L344.1,350.3L344.2,351.5L344.4,351.4L344.5,351.0L344.6,349.4L344.8,351.1L344.9,351.9L345.1,349.3L345.2,349.6L345.3,350.0L345.5,350.1L345.6,350.9L345.8,350.4L345.9,351.7L346.0,349.9L346.2,350.9L346.3,350.4L346.5,349.6L346.6,351.6L346.7,350.2L346.9,350.7L347.0,349.7L347.2,350.9L347.3,350.6L347.4,349.7L347.6,348.2L347.7,350.8L347.9,350.6L348.0,350.3L348.1,350.4L348.3,350.3L348.4,350.5L348.6,349.4L348.7,350.3L348.8,350.7L349.0,349.4L349.1,349.1L349.3,351.8L349.4,350.7L349.5,349.8L349.7,349.5L349.8,347.3L350.0,348.4L350.1,349.6L350.2,351.2L350.4,347.8L350.5,349.1L350.7,351.9L350.8,350.5L350.9,350.3L351.1,351.4L351.2,350.2L351.4,350.3L351.5,351.2L351.6,351.2L351.8,349.4L351.9,352.1L352.1,348.8L352.2,349.8L352.3,353.7L352.5,350.1L352.6,351.3L352.8,349.5L352.9,350.5L353.0,350.0L353.2,350.6L353.3,351.5L353.5,352.5L353.6,351.8L353.7,352.4L353.9,350.1L354.0,351.9L354.2,350.9L354.3,351.7L354.4,349.7L354.6,349.9L354.7,351.6L354.9,350.7L355.0,350.0L355.1,349.3L355.3,349.5L355.4,350.2L355.6,350.4L355.7,349.0L355.8,349.2L356.0,349.9L356.1,348.1L356.3,350.2L356.4,349.3L356.5,349.4L356.7,347.0L356.8,347.8L357.0,348.2L357.1,348.5L357.2,347.8L357.4,349.3L357.5,349.0L357.7,348.6L357.8,347.0L357.9,350.2L358.1,348.5L358.2,349.8L358.4,348.5L358.5,348.9L358.6,349.2L358.8,348.8L358.9,349.2L359.1,348.1L359.2,350.0L359.3,345.8L359.5,346.8L359.6,348.2L359.8,346.7L359.9,346.1L360.0,344.7L360.2,347.7L360.3,344.3L360.5,346.4L360.6,345.8L360.7,346.3L360.9,346.7L361.0,344.6L361.2,344.6L361.3,345.4L361.4,344.1L361.6,346.8L361.7,345.6L361.9,346.3L362.0,345.1L362.1,346.2L362.3,345.9L362.4,346.5L362.6,345.7L362.7,348.3L362.8,346.9L363.0,345.0L363.1,348.4L363.3,347.4L363.4,346.8L363.5,350.6L363.7,348.3L363.8,347.2L364.0,347.8L364.1,349.1L364.2,348.6L364.4,349.8L364.5,349.6L364.7,347.6L364.8,348.3L364.9,348.9L365.1,348.0L365.2,347.8L365.4,349.1L365.5,348.7L365.6,346.5L365.8,347.1L365.9,347.1L366.1,347.3L366.2,346.2L366.3,348.3L366.5,345.8L366.6,345.4L366.8,346.5L366.9,344.1L367.0,345.0L367.2,346.2L367.3,344.0L367.5,344.3L367.6,346.1L367.7,345.4L367.9,344.9L368.0,345.1L368.2,344.5L368.3,345.8L368.4,345.2L368.6,348.4L368.7,346.9L368.9,346.5L369.0,346.8L369.1,347.3L369.3,346.4L369.4,347.4L369.6,349.9L369.7,347.2L369.8,348.2L370.0,350.2L370.1,350.9L370.3,348.6L370.4,351.4L370.5,349.7L370.7,351.8L370.8,350.6L371.0,349.6L371.1,350.5L371.2,350.2L371.4,348.9L371.5,351.8L371.7,349.5L371.8,351.1L371.9,349.3L372.1,348.0L372.2,348.7L372.4,349.7L372.5,350.3L372.6,351.2L372.8,349.2L372.9,348.9L373.1,348.0L373.2,349.2L373.3,349.4L373.5,346.5L373.6,349.8L373.8,349.4L373.9,350.3L374.0,347.0L374.2,348.0L374.3,347.6L374.5,345.7L374.6,345.8L374.7,345.3L374.9,346.7L375.0,346.4L375.2,347.0L375.3,345.0L375.4,343.9L375.6,345.3L375.7,345.2L375.9,345.4L376.0,346.0L376.1,344.3L376.3,345.7L376.4,344.2L376.6,345.6L376.7,346.4L376.8,346.2L377.0,346.8L377.1,345.4L377.3,346.6L377.4,347.6L377.5,346.6L377.7,347.6L377.8,351.2L378.0,349.2L378.1,348.2L378.2,348.1L378.4,350.6L378.5,346.4L378.7,349.3L378.8,350.3L378.9,349.2L379.1,350.4L379.2,348.9L379.4,350.0L379.5,350.2L379.6,350.1L379.8,349.8L379.9,349.7L380.1,350.9L380.2,349.4L380.3,349.1L380.5,349.7L380.6,349.5L380.8,348.7L380.9,348.6L381.0,348.9L381.2,350.7L381.3,349.7L381.5,350.1L381.6,353.3L381.7,351.7L381.9,350.4L382.0,350.1L382.2,352.2L382.3,350.1L382.4,352.2L382.6,351.3L382.7,352.1L382.9,349.2L383.0,350.6L383.1,347.6L383.3,348.7L383.4,349.5L383.6,348.3L383.7,345.5L383.8,347.3L384.0,346.4L384.1,344.9L384.3,343.2L384.4,342.7L384.5,341.5L384.7,342.3L384.8,341.1L385.0,341.5L385.1,340.8L385.2,339.2L385.4,341.1L385.5,343.7L385.7,341.3L385.8,343.4L385.9,343.4L386.1,344.3L386.2,346.3L386.4,347.8L386.5,348.5L386.6,348.9L386.8,350.2L386.9,348.3L387.1,351.2L387.2,351.2L387.3,350.6L387.5,351.2L387.6,350.7L387.8,352.9L387.9,350.9L388.0,350.1L388.2,351.6L388.3,351.0L388.5,351.7L388.6,353.4L388.7,351.6L388.9,351.6L389.0,353.7L389.2,349.8L389.3,352.0L389.4,352.9L389.6,353.0L389.7,353.8L389.9,351.1L390.0,352.5L390.1,351.7L390.3,351.4L390.4,351.2L390.6,350.6L390.7,352.2L390.8,352.9L391.0,351.4L391.1,353.4L391.3,352.2L391.4,351.6L391.5,350.0L391.7,354.1L391.8,353.9L392.0,352.7L392.1,352.7L392.2,351.8L392.4,353.6L392.5,353.3L392.7,353.8L392.8,353.7L392.9,352.2L393.1,351.9L393.2,353.7L393.4,351.6L393.5,353.7L393.6,354.2L393.8,351.9L393.9,353.9L394.1,353.1L394.2,353.7L394.3,352.7L394.5,353.5L394.6,353.8L394.8,355.1L394.9,353.8L395.0,353.4L395.2,351.7L395.3,353.6L395.5,352.3L395.6,352.8L395.7,353.3L395.9,354.1L396.0,353.4L396.2,353.1L396.3,352.9L396.4,354.2L396.6,351.8L396.7,352.9L396.9,354.2L397.0,352.7L397.1,353.8L397.3,354.1L397.4,355.1L397.6,354.5L397.7,351.9L397.8,353.7L398.0,354.1L398.1,355.1L398.3,354.4L398.4,355.9L398.5,355.1L398.7,352.9L398.8,353.4L399.0,352.1L399.1,356.1L399.2,354.0L399.4,353.7L399.5,352.1L399.7,353.1L399.8,353.8L399.9,353.0L400.1,352.9L400.2,352.4L400.4,355.3L400.5,352.9L400.6,351.9L400.8,352.8L400.9,352.9L401.1,353.1L401.2,352.9L401.3,352.0L401.5,353.0L401.6,353.9L401.8,352.1L401.9,355.5L402.0,355.1L402.2,351.4L402.3,353.2L402.5,354.3L402.6,354.5L402.7,354.9L402.9,350.9L403.0,351.7L403.2,352.5L403.3,353.7L403.4,352.1L403.6,353.4L403.7,353.4L403.9,353.5L404.0,351.5L404.1,353.0L404.3,353.0L404.4,352.4L404.6,354.5L404.7,352.6L404.8,354.6L405.0,352.9L405.1,355.2L405.3,354.9L405.4,352.3L405.5,353.6L405.7,353.8L405.8,352.4L406.0,354.3L406.1,354.2L406.2,352.5L406.4,353.7L406.5,354.4L406.7,353.1L406.8,352.6L406.9,355.0L407.1,352.1L407.2,353.3L407.4,354.2L407.5,353.5L407.6,350.6L407.8,351.5L407.9,351.0L408.1,350.4L408.2,350.2L408.3,349.4L408.5,348.0L408.6,347.9L408.8,349.1L408.9,350.2L409.0,347.9L409.2,353.0L409.3,350.9L409.5,352.7L409.6,350.7L409.7,351.8L409.9,351.2L410.0,353.7L410.2,353.2L410.3,352.5L410.4,352.3L410.6,352.8L410.7,351.7L410.9,352.3L411.0,352.0L411.1,353.4L411.3,352.4L411.4,351.0L411.6,352.9L411.7,353.1L411.8,354.2L412.0,352.1L412.1,353.4L412.3,355.3L412.4,352.8L412.5,353.0L412.7,354.1L412.8,352.9L413.0,353.2L413.1,352.7L413.2,352.7L413.4,354.5L413.5,353.1L413.7,352.3L413.8,353.1L413.9,353.0L414.1,353.4L414.2,354.1L414.4,354.9L414.5,351.6L414.6,352.6L414.8,350.8L414.9,352.9L415.1,353.1L415.2,352.0L415.3,351.6L415.5,351.6L415.6,351.5L415.8,353.8L415.9,354.9L416.0,351.9L416.2,354.6L416.3,352.7L416.5,351.4L416.6,353.5L416.7,353.8L416.9,353.5L417.0,352.7L417.2,354.8L417.3,352.8L417.4,353.7L417.6,353.5L417.7,351.9L417.9,350.9L418.0,351.4L418.1,352.7L418.3,353.6L418.4,351.4L418.6,352.6L418.7,355.2L418.8,351.9L419.0,354.0L419.1,353.9L419.3,354.4L419.4,352.2L419.5,354.2L419.7,352.6L419.8,355.1L420.0,352.6L420.1,353.9L420.2,352.8L420.4,353.8L420.5,352.2L420.7,354.3L420.8,354.5L420.9,353.8L421.1,355.6L421.2,354.6L421.4,355.0L421.5,354.7L421.6,356.1L421.8,353.4L421.9,353.9L422.1,354.1L422.2,354.7L422.3,354.4L422.5,355.0L422.6,354.3L422.8,353.3L422.9,353.9L423.0,354.2L423.2,351.3L423.3,354.8L423.5,352.7L423.6,353.0L423.7,353.5L423.9,353.0L424.0,351.8L424.2,353.0L424.3,354.6L424.4,354.3L424.6,354.5L424.7,352.8L424.9,353.3L425.0,354.4L425.1,354.7L425.3,353.1L425.4,352.2L425.6,351.1L425.7,354.4L425.8,351.3L426.0,353.4L426.1,354.0L426.3,356.6L426.4,353.2L426.5,352.7L426.7,353.4L426.8,353.2L427.0,353.9L427.1,353.5L427.2,352.2L427.4,351.1L427.5,353.5L427.7,352.6L427.8,354.8L427.9,352.0L428.1,353.2L428.2,352.1L428.4,351.9L428.5,354.7L428.6,353.2L428.8,352.6L428.9,353.6L429.1,351.9L429.2,352.3L429.3,352.0L429.5,354.6L429.6,352.8L429.8,353.2L429.9,353.7L430.0,352.4L430.2,352.5L430.3,351.1L430.5,353.3L430.6,352.9L430.7,352.1L430.9,354.1L431.0,350.9L431.2,353.2L431.3,351.4L431.4,351.5L431.6,352.5L431.7,354.1L431.9,351.3L432.0,351.6L432.1,351.3L432.3,355.0L432.4,353.2L432.6,353.1L432.7,354.8L432.8,353.1L433.0,350.4L433.1,352.1L433.3,351.4L433.4,354.5L433.5,351.0L433.7,352.8L433.8,352.1L434.0,352.1L434.1,352.6L434.2,352.4L434.4,351.7L434.5,351.0L434.7,351.9L434.8,351.6L434.9,351.8L435.1,353.0L435.2,352.6L435.4,353.4L435.5,352.7L435.6,355.0L435.8,352.2L435.9,351.9L436.1,354.1L436.2,352.3L436.3,353.3L436.5,354.2L436.6,353.2L436.8,353.0L436.9,354.3L437.0,353.6L437.2,352.6L437.3,352.1L437.5,352.9L437.6,351.4L437.7,352.3L437.9,352.1L438.0,353.5L438.2,354.0L438.3,352.3L438.4,352.5L438.6,351.9L438.7,351.5L438.9,352.3L439.0,353.3L439.1,353.2L439.3,353.4L439.4,352.6L439.6,349.9L439.7,353.8L439.8,354.2L440.0,353.7L440.1,353.8L440.3,354.1L440.4,355.9L440.5,353.5L440.7,354.7L440.8,354.2L441.0,354.3L441.1,353.6L441.2,353.3L441.4,352.5L441.5,354.3L441.7,353.5L441.8,352.7L441.9,352.9L442.1,352.4L442.2,355.3L442.4,353.4L442.5,353.8L442.6,352.3L442.8,352.4L442.9,354.5L443.1,352.9L443.2,353.2L443.3,355.0L443.5,355.2L443.6,353.6L443.8,353.2L443.9,353.0L444.0,352.5L444.2,355.1L444.3,351.8L444.5,352.8L444.6,351.1L444.7,351.9L444.9,353.8L445.0,353.9L445.2,353.6L445.3,352.9L445.4,352.5L445.6,352.6L445.7,353.0L445.9,354.4L446.0,354.7L446.1,353.7L446.3,352.8L446.4,352.3L446.6,353.5L446.7,352.7L446.8,350.9L447.0,354.1L447.1,352.6L447.3,352.6L447.4,352.3L447.5,352.2L447.7,353.8L447.8,351.7L448.0,352.9L448.1,353.6L448.2,354.7L448.4,353.2L448.5,352.5L448.7,352.2L448.8,353.7L448.9,353.8L449.1,352.2L449.2,353.3L449.4,352.4L449.5,350.8L449.6,351.5L449.8,353.3L449.9,354.2L450.1,353.2L450.2,352.2L450.3,351.9L450.5,353.0L450.6,352.8L450.8,350.8L450.9,353.4L451.0,352.0L451.2,353.6L451.3,353.2L451.5,353.6L451.6,353.8L451.7,353.6L451.9,351.8L452.0,351.9L452.2,354.4L452.3,353.9L452.4,351.7L452.6,351.3L452.7,354.3L452.9,355.7L453.0,354.1L453.1,353.1L453.3,353.5L453.4,350.3L453.6,352.0L453.7,354.3L453.8,354.2L454.0,351.3L454.1,354.6L454.3,353.5L454.4,353.8L454.5,352.7L454.7,353.1L454.8,352.0L455.0,353.5L455.1,354.0L455.2,352.0L455.4,353.5L455.5,352.6L455.7,354.2L455.8,353.9L455.9,350.0L456.1,352.8L456.2,353.6L456.4,352.0L456.5,352.3L456.6,352.3L456.8,351.0L456.9,352.3L457.1,353.9L457.2,352.9L457.3,353.8L457.5,353.2L457.6,353.5L457.8,352.2L457.9,352.9L458.0,354.4L458.2,353.7L458.3,352.6L458.5,351.9L458.6,351.7L458.7,353.0L458.9,353.3L459.0,350.9L459.2,353.1L459.3,353.0L459.4,353.4L459.6,352.7L459.7,355.6L459.9,354.2L460.0,351.6L460.1,352.2L460.3,354.0L460.4,353.5L460.6,352.9L460.7,352.8L460.8,352.6L461.0,352.3L461.1,351.6L461.3,353.3L461.4,349.8L461.5,351.6L461.7,353.8L461.8,351.7L462.0,351.4L462.1,355.2L462.2,354.4L462.4,353.0L462.5,352.4L462.7,352.8L462.8,352.6L462.9,352.8L463.1,352.3L463.2,353.8L463.4,352.8L463.5,351.5L463.6,352.0L463.8,353.1L463.9,351.8L464.1,350.3L464.2,354.3L464.3,353.4L464.5,352.6L464.6,352.8L464.8,353.8L464.9,354.8L465.0,352.7L465.2,353.5L465.3,352.3L465.5,353.4L465.6,351.9L465.7,351.2L465.9,353.4L466.0,353.2L466.2,353.7L466.3,352.2L466.4,354.2L466.6,352.7L466.7,354.2L466.9,352.4L467.0,354.2L467.1,352.4L467.3,352.9L467.4,353.9L467.6,350.8L467.7,351.1L467.8,354.4L468.0,350.9L468.1,352.1L468.3,353.4L468.4,354.5L468.5,352.3L468.7,352.9L468.8,351.4L469.0,351.9L469.1,353.5L469.2,352.7L469.4,352.1L469.5,352.5L469.7,352.4L469.8,352.7L469.9,352.4L470.1,351.6L470.2,353.3L470.4,351.3L470.5,353.5L470.6,354.9L470.8,354.3L470.9,355.2L471.1,352.0L471.2,353.4L471.3,352.4L471.5,352.6L471.6,351.2L471.8,351.8L471.9,353.7L472.0,353.2L472.2,353.8L472.3,353.8L472.5,353.4L472.6,351.9L472.7,352.5L472.9,353.3L473.0,353.9L473.2,352.1L473.3,351.9L473.4,352.0L473.6,354.2L473.7,353.3L473.9,352.5L474.0,352.0L474.1,353.5L474.3,351.3L474.4,352.8L474.6,352.6L474.7,352.4L474.8,353.0L475.0,353.0L475.1,355.7L475.3,352.4L475.4,353.1L475.5,351.3L475.7,350.4L475.8,353.3L476.0,354.0L476.1,351.0L476.2,352.1L476.4,353.3L476.5,352.1L476.7,349.4L476.8,353.1L476.9,352.1L477.1,353.1L477.2,351.7L477.4,353.5L477.5,353.6L477.6,352.0L477.8,353.3L477.9,352.3L478.1,352.3L478.2,351.9L478.3,352.3L478.5,352.2L478.6,354.2L478.8,352.8L478.9,351.7L479.0,354.3L479.2,353.5L479.3,353.8L479.5,353.0L479.6,353.7L479.7,352.8L479.9,351.8L480.0,352.8L480.2,352.8L480.3,352.6L480.4,353.4L480.6,350.6L480.7,352.9L480.9,351.8L481.0,352.6L481.1,353.3L481.3,352.9L481.4,352.0L481.6,353.4L481.7,352.7L481.8,353.6L482.0,354.0L482.1,352.4L482.3,351.9L482.4,353.2L482.5,353.8L482.7,352.9L482.8,351.2L483.0,350.7L483.1,351.4L483.2,351.2L483.4,353.1L483.5,352.3L483.7,353.2L483.8,352.1L483.9,354.1L484.1,352.5L484.2,353.1L484.4,352.0L484.5,352.8L484.6,353.7L484.8,353.6L484.9,354.3L485.1,352.4L485.2,353.5L485.3,354.9L485.5,353.2L485.6,352.9L485.8,352.7L485.9,352.3L486.0,353.1L486.2,354.2L486.3,353.2L486.5,352.7L486.6,351.7L486.7,351.3L486.9,354.6L487.0,351.5L487.2,352.0L487.3,351.4L487.4,352.0L487.6,351.4L487.7,352.0L487.9,353.4L488.0,351.2L488.1,352.4L488.3,351.7L488.4,352.4L488.6,351.0L488.7,352.2L488.8,350.6L489.0,350.1L489.1,350.6L489.3,350.7L489.4,350.6L489.5,351.4L489.7,352.9L489.8,350.5L490.0,352.2L490.1,352.0L490.2,351.3L490.4,351.0L490.5,352.8L490.7,352.7L490.8,351.8L490.9,352.2L491.1,352.0L491.2,350.7L491.4,352.2L491.5,352.4L491.6,354.1L491.8,351.1L491.9,351.6L492.1,352.5L492.2,351.6L492.3,351.8L492.5,352.4L492.6,351.9L492.8,352.1L492.9,352.7L493.0,350.5L493.2,352.8L493.3,350.0L493.5,354.2L493.6,353.3L493.7,351.6L493.9,353.3L494.0,352.2L494.2,352.9L494.3,353.1L494.4,352.6L494.6,352.1L494.7,352.9L494.9,352.1L495.0,352.0L495.1,351.5L495.3,350.8L495.4,354.5L495.6,353.5L495.7,351.4L495.8,353.1L496.0,352.9L496.1,350.4L496.3,351.7L496.4,352.7L496.5,354.7L496.7,354.3L496.8,354.3L497.0,353.3L497.1,354.1L497.2,351.8L497.4,353.8L497.5,353.7L497.7,351.7L497.8,353.3L497.9,354.8L498.1,355.3L498.2,354.6L498.4,352.4L498.5,353.1L498.6,352.6L498.8,354.1L498.9,352.1L499.1,352.1L499.2,351.6L499.3,353.3L499.5,353.5L499.6,352.5L499.8,352.5L499.9,353.0L500.0,354.2L500.2,351.4L500.3,352.9L500.5,353.1L500.6,353.1L500.7,354.0L500.9,353.9L501.0,353.2L501.2,354.4L501.3,353.8L501.4,353.0L501.6,352.9L501.7,351.1L501.9,352.3L502.0,351.4L502.1,351.3L502.3,352.3L502.4,350.9L502.6,351.8L502.7,352.2L502.8,352.8L503.0,351.8L503.1,352.6L503.3,353.5L503.4,352.8L503.5,351.1L503.7,350.5L503.8,351.4L504.0,351.4L504.1,350.1L504.2,350.1L504.4,349.9L504.5,350.7L504.7,352.8L504.8,353.0L504.9,350.3L505.1,351.1L505.2,349.9L505.4,349.6L505.5,351.3L505.6,351.2L505.8,350.3L505.9,351.9L506.1,350.6L506.2,352.2L506.3,350.5L506.5,352.0L506.6,350.8L506.8,351.1L506.9,351.6L507.0,349.7L507.2,349.9L507.3,350.7L507.5,350.5L507.6,351.0L507.7,350.0L507.9,349.8L508.0,350.7L508.2,351.4L508.3,350.3L508.4,352.5L508.6,351.8L508.7,352.2L508.9,352.1L509.0,350.5L509.1,353.4L509.3,351.1L509.4,352.1L509.6,352.5L509.7,352.0L509.8,351.7L510.0,350.6L510.1,351.2L510.3,351.9L510.4,353.3L510.5,351.5L510.7,353.0L510.8,352.7L511.0,352.7L511.1,351.9L511.2,352.2L511.4,350.3L511.5,352.4L511.7,352.9L511.8,352.1L511.9,353.1L512.1,352.9L512.2,351.9L512.4,353.1L512.5,351.8L512.6,354.6L512.8,351.1L512.9,351.5L513.1,351.6L513.2,352.8L513.3,353.8L513.5,352.7L513.6,352.2L513.8,354.5L513.9,353.6L514.0,352.4L514.2,352.6L514.3,351.2L514.5,352.9L514.6,354.6L514.7,351.6L514.9,351.4L515.0,352.9L515.2,350.4L515.3,354.1L515.4,351.2L515.6,352.1L515.7,352.7L515.9,354.0L516.0,353.1L516.1,350.7L516.3,350.9L516.4,352.6L516.6,350.2L516.7,352.1L516.8,351.5L517.0,353.0L517.1,353.4L517.3,349.6L517.4,352.5L517.5,352.6L517.7,351.0L517.8,351.3L518.0,350.5L518.1,351.7L518.2,352.5L518.4,353.4L518.5,353.6L518.7,351.9L518.8,351.4L518.9,353.3L519.1,349.6L519.2,350.9L519.4,353.1L519.5,354.7L519.6,352.0L519.8,353.0L519.9,351.8L520.1,353.0L520.2,352.9L520.3,352.0L520.5,353.3L520.6,352.7L520.8,353.2L520.9,352.4L521.0,351.3L521.2,352.7L521.3,353.3L521.5,351.4L521.6,353.4L521.7,352.3L521.9,351.5L522.0,351.9L522.2,351.2L522.3,350.7L522.4,352.6L522.6,352.6L522.7,351.2L522.9,351.6L523.0,351.6L523.1,352.7L523.3,353.3L523.4,351.1L523.6,352.3L523.7,351.9L523.8,352.7L524.0,353.7L524.1,351.4L524.3,350.2L524.4,352.1L524.5,350.6L524.7,353.8L524.8,351.4L525.0,351.6L525.1,352.3L525.2,352.2L525.4,351.9L525.5,352.3L525.7,353.2L525.8,351.9L525.9,354.0L526.1,352.4L526.2,349.6L526.4,352.9L526.5,350.3L526.6,352.5L526.8,354.5L526.9,353.2L527.1,351.2L527.2,351.4L527.3,352.3L527.5,353.3L527.6,351.3L527.8,353.2L527.9,352.3L528.0,352.0L528.2,351.8L528.3,353.7L528.5,350.7L528.6,351.0L528.7,352.8L528.9,353.1L529.0,350.8L529.2,351.3L529.3,351.0L529.4,352.7L529.6,351.7L529.7,353.8L529.9,353.2L530.0,352.8L530.1,352.7L530.3,353.1L530.4,353.5L530.6,352.6L530.7,352.8L530.8,353.7L531.0,352.6L531.1,353.8L531.3,352.7L531.4,352.0L531.5,352.8L531.7,354.1L531.8,354.1L532.0,350.9L532.1,352.8L532.2,352.0L532.4,352.0L532.5,351.8L532.7,351.9L532.8,351.5L532.9,351.7L533.1,352.3L533.2,350.8L533.4,350.6L533.5,350.9L533.6,351.0L533.8,353.0L533.9,351.1" fill="none" stroke="#ffbf00" stroke-width="1.35" stroke-linejoin="round"/>
<path d="M40.0,328.3L40.1,327.6L40.3,327.4L40.4,325.5L40.6,328.5L40.7,327.8L40.8,326.4L41.0,327.1L41.1,326.5L41.3,325.3L41.4,326.4L41.5,325.0L41.7,324.7L41.8,324.2L42.0,324.8L42.1,324.0L42.2,324.3L42.4,323.1L42.5,323.6L42.7,322.7L42.8,323.9L42.9,323.0L43.1,322.7L43.2,322.5L43.4,321.5L43.5,322.6L43.6,323.4L43.8,320.4L43.9,320.2L44.1,320.3L44.2,321.9L44.3,321.0L44.5,321.6L44.6,321.0L44.8,320.2L44.9,319.7L45.0,319.2L45.2,319.8L45.3,318.0L45.5,318.1L45.6,318.3L45.7,319.4L45.9,317.3L46.0,316.8L46.2,316.8L46.3,317.7L46.4,316.7L46.6,317.6L46.7,315.0L46.9,316.9L47.0,316.8L47.1,314.8L47.3,315.9L47.4,316.5L47.6,315.4L47.7,316.1L47.8,317.0L48.0,315.0L48.1,314.4L48.3,313.8L48.4,314.6L48.5,313.6L48.7,313.4L48.8,313.4L49.0,313.9L49.1,312.3L49.2,311.6L49.4,310.5L49.5,313.1L49.7,312.1L49.8,312.9L49.9,311.4L50.1,310.7L50.2,311.4L50.4,310.8L50.5,309.8L50.6,309.9L50.8,311.5L50.9,310.2L51.1,310.1L51.2,309.4L51.3,308.9L51.5,310.0L51.6,309.0L51.8,308.1L51.9,308.2L52.0,307.4L52.2,308.0L52.3,308.5L52.5,306.9L52.6,308.2L52.7,306.6L52.9,307.2L53.0,306.1L53.2,306.2L53.3,306.3L53.4,305.6L53.6,305.2L53.7,304.9L53.9,304.6L54.0,303.8L54.1,304.6L54.3,304.8L54.4,305.0L54.6,304.4L54.7,305.5L54.8,303.4L55.0,302.6L55.1,304.0L55.3,301.6L55.4,302.8L55.5,301.1L55.7,301.8L55.8,299.8L56.0,301.7L56.1,300.7L56.2,299.8L56.4,301.6L56.5,300.5L56.7,299.9L56.8,299.1L56.9,299.5L57.1,299.0L57.2,299.4L57.4,299.3L57.5,298.1L57.6,297.9L57.8,297.8L57.9,297.0L58.1,297.3L58.2,297.6L58.3,297.9L58.5,298.3L58.6,296.6L58.8,297.4L58.9,296.4L59.0,298.1L59.2,296.2L59.3,296.4L59.5,295.0L59.6,294.7L59.7,295.3L59.9,294.3L60.0,294.8L60.2,293.1L60.3,294.4L60.4,292.9L60.6,294.4L60.7,292.6L60.9,293.4L61.0,291.1L61.1,292.2L61.3,290.8L61.4,290.8L61.6,290.8L61.7,290.2L61.8,290.2L62.0,290.4L62.1,289.8L62.3,289.1L62.4,287.7L62.5,287.8L62.7,287.9L62.8,285.9L63.0,287.5L63.1,286.3L63.2,285.9L63.4,286.4L63.5,285.2L63.7,283.8L63.8,281.8L63.9,281.9L64.1,280.2L64.2,277.0L64.4,276.7L64.5,274.3L64.6,270.5L64.8,272.6L64.9,272.3L65.1,276.5L65.2,278.1L65.3,277.8L65.5,279.7L65.6,282.1L65.8,282.9L65.9,285.1L66.0,284.8L66.2,283.8L66.3,285.1L66.5,282.7L66.6,285.0L66.7,285.9L66.9,285.0L67.0,284.5L67.2,286.0L67.3,287.6L67.4,285.8L67.6,284.4L67.7,287.1L67.9,283.7L68.0,285.9L68.1,284.7L68.3,286.3L68.4,284.3L68.6,286.2L68.7,285.1L68.8,283.0L69.0,282.5L69.1,284.4L69.3,286.0L69.4,284.6L69.5,284.8L69.7,284.8L69.8,285.4L70.0,285.0L70.1,285.1L70.2,283.9L70.4,286.1L70.5,286.5L70.7,283.7L70.8,287.4L70.9,285.7L71.1,284.7L71.2,283.0L71.4,285.4L71.5,285.3L71.6,284.1L71.8,282.6L71.9,285.8L72.1,284.0L72.2,283.9L72.3,287.3L72.5,286.5L72.6,285.0L72.8,283.5L72.9,284.7L73.0,281.8L73.2,284.0L73.3,283.2L73.5,282.7L73.6,282.5L73.7,284.5L73.9,284.1L74.0,284.0L74.2,284.5L74.3,283.0L74.4,282.4L74.6,282.1L74.7,283.6L74.9,284.8L75.0,283.6L75.1,284.4L75.3,282.6L75.4,283.2L75.6,283.0L75.7,282.5L75.8,285.8L76.0,284.6L76.1,282.8L76.3,283.2L76.4,283.8L76.5,282.5L76.7,284.2L76.8,282.4L77.0,283.4L77.1,282.7L77.2,283.1L77.4,282.3L77.5,282.3L77.7,282.7L77.8,283.0L77.9,283.1L78.1,283.5L78.2,285.1L78.4,284.1L78.5,282.9L78.6,283.7L78.8,282.4L78.9,284.4L79.1,283.2L79.2,281.2L79.3,283.4L79.5,283.5L79.6,279.9L79.8,281.9L79.9,282.0L80.0,280.7L80.2,281.7L80.3,281.9L80.5,283.6L80.6,283.4L80.7,285.9L80.9,282.8L81.0,284.4L81.2,283.5L81.3,283.7L81.4,282.2L81.6,281.4L81.7,282.5L81.9,283.8L82.0,284.8L82.1,283.8L82.3,283.7L82.4,282.1L82.6,284.5L82.7,284.4L82.8,282.5L83.0,282.9L83.1,282.0L83.3,284.4L83.4,283.4L83.5,282.8L83.7,283.1L83.8,283.1L84.0,282.3L84.1,281.4L84.2,281.3L84.4,280.6L84.5,283.0L84.7,284.4L84.8,280.4L84.9,282.1L85.1,282.4L85.2,280.8L85.4,281.9L85.5,280.8L85.6,283.0L85.8,281.1L85.9,282.0L86.1,282.5L86.2,281.3L86.3,279.7L86.5,281.1L86.6,282.3L86.8,281.6L86.9,281.9L87.0,280.6L87.2,281.6L87.3,282.1L87.5,281.5L87.6,283.2L87.7,281.4L87.9,280.5L88.0,279.7L88.2,282.5L88.3,281.2L88.4,282.5L88.6,282.0L88.7,283.1L88.9,282.5L89.0,280.8L89.1,281.3L89.3,282.4L89.4,280.1L89.6,282.8L89.7,282.4L89.8,282.0L90.0,281.1L90.1,281.5L90.3,279.8L90.4,281.0L90.5,280.1L90.7,281.0L90.8,280.2L91.0,281.4L91.1,282.2L91.2,279.5L91.4,281.4L91.5,278.4L91.7,278.2L91.8,280.4L91.9,280.4L92.1,280.9L92.2,279.1L92.4,280.8L92.5,280.9L92.6,282.4L92.8,280.8L92.9,281.7L93.1,280.1L93.2,280.8L93.3,280.8L93.5,282.1L93.6,280.6L93.8,281.0L93.9,282.4L94.0,283.8L94.2,281.9L94.3,282.0L94.5,281.5L94.6,283.1L94.7,282.4L94.9,283.6L95.0,282.0L95.2,280.6L95.3,281.0L95.4,280.4L95.6,280.2L95.7,282.5L95.9,281.8L96.0,279.6L96.1,282.5L96.3,280.9L96.4,279.4L96.6,280.6L96.7,280.0L96.8,278.9L97.0,277.7L97.1,279.7L97.3,279.7L97.4,277.0L97.5,280.1L97.7,280.0L97.8,279.0L98.0,279.5L98.1,279.2L98.2,278.7L98.4,279.3L98.5,280.9L98.7,278.1L98.8,279.7L98.9,279.8L99.1,278.7L99.2,279.0L99.4,278.0L99.5,278.3L99.6,279.3L99.8,279.5L99.9,278.3L100.1,282.1L100.2,278.1L100.3,278.8L100.5,278.3L100.6,278.2L100.8,279.8L100.9,277.8L101.0,279.4L101.2,279.1L101.3,276.5L101.5,278.2L101.6,276.0L101.7,278.9L101.9,274.9L102.0,273.2L102.2,271.1L102.3,270.6L102.4,269.9L102.6,268.1L102.7,266.4L102.9,265.6L103.0,265.3L103.1,266.8L103.3,264.1L103.4,266.0L103.6,266.7L103.7,267.7L103.8,268.9L104.0,270.7L104.1,273.5L104.3,273.6L104.4,274.0L104.5,276.0L104.7,276.3L104.8,276.3L105.0,277.4L105.1,276.3L105.2,277.9L105.4,277.7L105.5,277.1L105.7,276.1L105.8,278.9L105.9,277.8L106.1,280.8L106.2,277.1L106.4,278.6L106.5,277.2L106.6,277.8L106.8,278.3L106.9,276.8L107.1,277.6L107.2,278.1L107.3,278.1L107.5,278.5L107.6,279.0L107.8,278.8L107.9,278.1L108.0,277.4L108.2,276.3L108.3,276.7L108.5,276.9L108.6,278.2L108.7,277.1L108.9,276.2L109.0,277.8L109.2,276.2L109.3,276.4L109.4,276.8L109.6,277.9L109.7,274.7L109.9,276.1L110.0,277.5L110.1,276.9L110.3,276.7L110.4,277.1L110.6,279.0L110.7,277.0L110.8,278.1L111.0,278.3L111.1,277.1L111.3,278.1L111.4,276.8L111.5,276.6L111.7,275.9L111.8,278.0L112.0,276.7L112.1,276.5L112.2,275.8L112.4,278.7L112.5,277.5L112.7,276.5L112.8,275.7L112.9,274.8L113.1,276.7L113.2,276.6L113.4,274.5L113.5,277.2L113.6,276.7L113.8,275.0L113.9,275.5L114.1,275.7L114.2,276.0L114.3,275.5L114.5,273.8L114.6,276.9L114.8,275.9L114.9,276.9L115.0,276.9L115.2,275.3L115.3,275.9L115.5,276.4L115.6,276.3L115.7,275.3L115.9,275.0L116.0,275.4L116.2,274.5L116.3,274.9L116.4,273.3L116.6,275.5L116.7,274.4L116.9,275.0L117.0,275.3L117.1,275.7L117.3,277.2L117.4,275.2L117.6,273.6L117.7,275.2L117.8,274.4L118.0,275.0L118.1,274.1L118.3,274.1L118.4,274.2L118.5,274.4L118.7,273.2L118.8,274.1L119.0,274.6L119.1,275.9L119.2,274.2L119.4,273.7L119.5,274.6L119.7,274.3L119.8,275.0L119.9,273.3L120.1,272.3L120.2,272.7L120.4,271.9L120.5,268.7L120.6,267.6L120.8,264.0L120.9,264.0L121.1,262.1L121.2,261.7L121.3,260.7L121.5,261.4L121.6,261.9L121.8,263.5L121.9,264.4L122.0,265.2L122.2,265.6L122.3,269.5L122.5,270.7L122.6,269.5L122.7,271.4L122.9,270.1L123.0,270.6L123.2,272.2L123.3,274.5L123.4,272.2L123.6,272.6L123.7,275.3L123.9,271.6L124.0,274.1L124.1,273.9L124.3,273.1L124.4,273.6L124.6,276.2L124.7,272.7L124.8,273.7L125.0,273.7L125.1,273.4L125.3,272.7L125.4,275.4L125.5,274.2L125.7,272.0L125.8,273.2L126.0,274.5L126.1,274.6L126.2,272.7L126.4,274.2L126.5,274.5L126.7,274.5L126.8,274.5L126.9,272.1L127.1,275.8L127.2,273.8L127.4,275.4L127.5,276.4L127.6,273.2L127.8,272.3L127.9,274.1L128.1,272.8L128.2,272.3L128.3,271.4L128.5,273.9L128.6,271.4L128.8,270.2L128.9,270.6L129.0,269.6L129.2,270.8L129.3,270.1L129.5,269.2L129.6,270.9L129.7,269.5L129.9,270.8L130.0,271.7L130.2,270.3L130.3,270.3L130.4,271.6L130.6,272.6L130.7,272.0L130.9,272.1L131.0,272.1L131.1,272.5L131.3,272.9L131.4,271.5L131.6,271.7L131.7,271.9L131.8,270.9L132.0,271.3L132.1,271.1L132.3,270.3L132.4,269.3L132.5,268.6L132.7,271.0L132.8,269.7L133.0,267.7L133.1,268.1L133.2,271.1L133.4,270.9L133.5,269.7L133.7,271.4L133.8,269.2L133.9,271.3L134.1,272.6L134.2,270.3L134.4,271.8L134.5,273.7L134.6,274.3L134.8,272.7L134.9,273.9L135.1,275.3L135.2,273.5L135.3,272.6L135.5,274.1L135.6,273.9L135.8,275.6L135.9,274.3L136.0,273.3L136.2,276.7L136.3,273.8L136.5,274.7L136.6,274.8L136.7,275.0L136.9,274.2L137.0,274.4L137.2,273.5L137.3,272.3L137.4,273.4L137.6,273.4L137.7,273.3L137.9,273.5L138.0,273.0L138.1,274.8L138.3,275.0L138.4,271.2L138.6,273.5L138.7,272.9L138.8,271.1L139.0,274.3L139.1,273.3L139.3,273.6L139.4,273.2L139.5,275.0L139.7,275.2L139.8,274.4L140.0,274.8L140.1,273.8L140.2,274.2L140.4,273.2L140.5,274.0L140.7,273.1L140.8,274.1L140.9,274.4L141.1,273.8L141.2,274.6L141.4,276.2L141.5,271.2L141.6,273.3L141.8,272.6L141.9,272.5L142.1,271.6L142.2,273.0L142.3,272.6L142.5,272.1L142.6,272.6L142.8,272.2L142.9,270.0L143.0,272.9L143.2,271.1L143.3,269.9L143.5,270.4L143.6,268.6L143.7,265.9L143.9,267.7L144.0,263.5L144.2,263.0L144.3,261.2L144.4,259.9L144.6,257.6L144.7,254.1L144.9,251.6L145.0,251.5L145.1,253.8L145.3,256.2L145.4,257.0L145.6,258.0L145.7,262.0L145.8,263.1L146.0,264.8L146.1,266.6L146.3,268.8L146.4,269.5L146.5,271.0L146.7,271.6L146.8,271.3L147.0,268.8L147.1,269.6L147.2,271.7L147.4,271.5L147.5,273.7L147.7,271.7L147.8,271.6L147.9,272.7L148.1,273.0L148.2,272.0L148.4,272.7L148.5,270.9L148.6,271.2L148.8,273.4L148.9,270.5L149.1,272.9L149.2,272.7L149.3,272.7L149.5,273.0L149.6,272.7L149.8,269.9L149.9,271.0L150.0,271.4L150.2,272.6L150.3,270.0L150.5,270.3L150.6,270.7L150.7,272.2L150.9,269.4L151.0,269.3L151.2,270.9L151.3,267.9L151.4,269.7L151.6,268.2L151.7,266.3L151.9,266.7L152.0,265.0L152.1,265.0L152.3,264.4L152.4,264.7L152.6,262.5L152.7,261.7L152.8,260.8L153.0,261.1L153.1,262.9L153.3,260.7L153.4,264.0L153.5,264.2L153.7,265.7L153.8,266.9L154.0,268.4L154.1,268.8L154.2,268.8L154.4,270.2L154.5,270.6L154.7,270.7L154.8,271.7L154.9,272.5L155.1,272.2L155.2,272.4L155.4,270.9L155.5,272.3L155.6,270.5L155.8,273.1L155.9,271.7L156.1,274.1L156.2,275.8L156.3,272.3L156.5,274.0L156.6,273.0L156.8,271.9L156.9,271.6L157.0,273.2L157.2,274.0L157.3,272.6L157.5,270.6L157.6,271.1L157.7,271.9L157.9,273.5L158.0,272.3L158.2,272.3L158.3,272.9L158.4,271.5L158.6,271.4L158.7,270.9L158.9,269.3L159.0,271.2L159.1,270.5L159.3,270.4L159.4,268.1L159.6,268.1L159.7,269.2L159.8,267.5L160.0,267.9L160.1,264.7L160.3,265.1L160.4,263.6L160.5,264.4L160.7,263.8L160.8,265.2L161.0,266.1L161.1,266.5L161.2,264.9L161.4,268.6L161.5,268.7L161.7,267.9L161.8,268.5L161.9,270.0L162.1,271.1L162.2,270.2L162.4,269.3L162.5,271.5L162.6,271.5L162.8,273.8L162.9,270.2L163.1,273.9L163.2,273.1L163.3,271.5L163.5,272.9L163.6,271.3L163.8,272.0L163.9,270.5L164.0,271.4L164.2,270.1L164.3,269.7L164.5,270.8L164.6,270.6L164.7,271.7L164.9,272.3L165.0,270.7L165.2,271.1L165.3,271.0L165.4,268.9L165.6,270.3L165.7,269.4L165.9,268.7L166.0,266.2L166.1,263.6L166.3,262.9L166.4,259.8L166.6,256.0L166.7,249.6L166.8,242.8L167.0,234.5L167.1,228.8L167.3,224.1L167.4,226.0L167.5,231.2L167.7,240.0L167.8,245.0L168.0,250.1L168.1,258.3L168.2,260.2L168.4,264.2L168.5,266.0L168.7,266.7L168.8,270.1L168.9,270.1L169.1,269.2L169.2,270.3L169.4,270.0L169.5,271.3L169.6,270.3L169.8,270.1L169.9,270.4L170.1,270.4L170.2,271.4L170.3,270.2L170.5,271.1L170.6,271.7L170.8,273.5L170.9,271.5L171.0,267.5L171.2,269.7L171.3,269.5L171.5,269.7L171.6,270.2L171.7,268.5L171.9,264.4L172.0,266.0L172.2,264.7L172.3,263.9L172.4,263.7L172.6,260.3L172.7,262.0L172.9,259.3L173.0,261.7L173.1,262.5L173.3,265.7L173.4,263.5L173.6,263.6L173.7,267.1L173.8,266.8L174.0,270.0L174.1,268.1L174.3,268.7L174.4,271.4L174.5,270.6L174.7,272.0L174.8,269.7L175.0,273.1L175.1,270.8L175.2,272.6L175.4,270.7L175.5,270.3L175.7,271.9L175.8,272.4L175.9,274.0L176.1,272.6L176.2,273.1L176.4,272.8L176.5,275.2L176.6,271.3L176.8,273.1L176.9,271.7L177.1,272.3L177.2,271.4L177.3,273.2L177.5,270.6L177.6,270.7L177.8,271.9L177.9,270.9L178.0,272.8L178.2,273.0L178.3,271.2L178.5,272.9L178.6,271.3L178.7,271.7L178.9,271.6L179.0,273.2L179.2,270.7L179.3,269.5L179.4,269.0L179.6,270.7L179.7,267.0L179.9,267.2L180.0,266.5L180.1,263.4L180.3,264.6L180.4,265.5L180.6,263.7L180.7,261.8L180.8,263.0L181.0,262.6L181.1,264.4L181.3,262.2L181.4,262.9L181.5,264.2L181.7,265.0L181.8,266.2L182.0,266.8L182.1,266.7L182.2,266.3L182.4,267.9L182.5,267.2L182.7,267.8L182.8,268.5L182.9,269.6L183.1,269.7L183.2,267.7L183.4,268.9L183.5,269.6L183.6,268.5L183.8,266.7L183.9,265.8L184.1,268.9L184.2,269.5L184.3,269.2L184.5,268.2L184.6,271.2L184.8,271.2L184.9,270.3L185.0,270.6L185.2,269.1L185.3,272.1L185.5,269.7L185.6,272.2L185.7,272.4L185.9,271.8L186.0,273.6L186.2,271.8L186.3,272.7L186.4,273.1L186.6,272.5L186.7,271.9L186.9,273.7L187.0,273.0L187.1,272.2L187.3,272.2L187.4,272.5L187.6,274.8L187.7,272.5L187.8,272.2L188.0,271.3L188.1,271.3L188.3,270.6L188.4,272.8L188.5,272.4L188.7,271.3L188.8,270.7L189.0,271.7L189.1,271.3L189.2,270.6L189.4,272.6L189.5,272.2L189.7,272.1L189.8,273.0L189.9,271.5L190.1,273.8L190.2,271.5L190.4,273.0L190.5,273.1L190.6,272.3L190.8,272.7L190.9,270.9L191.1,270.9L191.2,272.5L191.3,272.0L191.5,273.2L191.6,272.6L191.8,273.0L191.9,272.6L192.0,272.5L192.2,272.2L192.3,271.6L192.5,271.4L192.6,274.1L192.7,269.9L192.9,271.8L193.0,273.2L193.2,272.2L193.3,273.0L193.4,272.1L193.6,270.3L193.7,271.4L193.9,270.4L194.0,272.8L194.1,273.0L194.3,271.0L194.4,272.1L194.6,271.0L194.7,269.8L194.8,270.9L195.0,269.3L195.1,270.4L195.3,271.4L195.4,271.7L195.5,272.0L195.7,270.1L195.8,270.7L196.0,270.7L196.1,270.6L196.2,266.9L196.4,268.7L196.5,269.9L196.7,267.7L196.8,268.7L196.9,268.8L197.1,265.5L197.2,266.2L197.4,265.7L197.5,264.6L197.6,261.7L197.8,262.3L197.9,259.5L198.1,259.0L198.2,256.6L198.3,253.5L198.5,251.9L198.6,248.5L198.8,245.8L198.9,242.5L199.0,241.4L199.2,240.6L199.3,238.5L199.5,237.3L199.6,236.0L199.7,236.6L199.9,238.6L200.0,238.0L200.2,243.6L200.3,243.7L200.4,248.3L200.6,249.6L200.7,250.3L200.9,253.9L201.0,255.2L201.1,257.4L201.3,259.1L201.4,258.8L201.6,259.5L201.7,260.4L201.8,259.8L202.0,261.1L202.1,261.0L202.3,260.3L202.4,259.5L202.5,258.0L202.7,258.1L202.8,253.7L203.0,253.8L203.1,252.3L203.2,251.8L203.4,249.7L203.5,248.1L203.7,245.7L203.8,245.0L203.9,241.9L204.1,242.2L204.2,239.8L204.4,243.8L204.5,244.4L204.6,243.3L204.8,244.6L204.9,244.9L205.1,247.2L205.2,250.6L205.3,252.3L205.5,252.8L205.6,255.5L205.8,257.2L205.9,260.0L206.0,261.8L206.2,261.9L206.3,263.4L206.5,264.5L206.6,263.1L206.7,265.7L206.9,266.1L207.0,267.6L207.2,265.5L207.3,268.7L207.4,267.3L207.6,268.4L207.7,269.4L207.9,266.7L208.0,267.0L208.1,269.4L208.3,267.2L208.4,267.3L208.6,268.7L208.7,267.9L208.8,269.1L209.0,268.4L209.1,268.0L209.3,268.8L209.4,269.8L209.5,267.6L209.7,269.1L209.8,268.9L210.0,267.9L210.1,268.4L210.2,266.9L210.4,267.3L210.5,268.3L210.7,268.5L210.8,269.9L210.9,267.2L211.1,268.4L211.2,268.2L211.4,268.7L211.5,270.0L211.6,267.5L211.8,269.7L211.9,268.3L212.1,268.6L212.2,269.6L212.3,268.6L212.5,269.7L212.6,269.0L212.8,268.4L212.9,268.0L213.0,266.3L213.2,267.0L213.3,267.4L213.5,267.2L213.6,265.1L213.7,267.0L213.9,265.8L214.0,263.0L214.2,262.3L214.3,262.7L214.4,258.7L214.6,258.3L214.7,257.5L214.9,256.0L215.0,254.7L215.1,254.3L215.3,252.5L215.4,252.0L215.6,254.4L215.7,251.1L215.8,252.8L216.0,254.4L216.1,254.5L216.3,257.3L216.4,257.5L216.5,259.5L216.7,257.0L216.8,262.0L217.0,262.3L217.1,260.7L217.2,262.7L217.4,261.3L217.5,261.4L217.7,261.6L217.8,258.2L217.9,255.5L218.1,254.5L218.2,251.1L218.4,249.5L218.5,247.3L218.6,245.1L218.8,245.1L218.9,243.1L219.1,241.0L219.2,243.3L219.3,241.3L219.5,243.8L219.6,246.3L219.8,249.8L219.9,252.0L220.0,254.1L220.2,257.4L220.3,259.1L220.5,261.6L220.6,261.1L220.7,261.5L220.9,263.9L221.0,266.2L221.2,266.0L221.3,267.0L221.4,267.1L221.6,266.9L221.7,267.2L221.9,265.7L222.0,267.4L222.1,265.0L222.3,265.7L222.4,264.2L222.6,266.4L222.7,264.7L222.8,268.3L223.0,266.2L223.1,268.5L223.3,268.7L223.4,268.5L223.5,271.2L223.7,270.0L223.8,272.5L224.0,270.1L224.1,270.6L224.2,269.6L224.4,272.3L224.5,272.9L224.7,272.1L224.8,271.8L224.9,270.8L225.1,274.0L225.2,272.2L225.4,269.7L225.5,271.2L225.6,268.7L225.8,272.9L225.9,273.2L226.1,272.6L226.2,271.0L226.3,270.3L226.5,269.3L226.6,270.8L226.8,269.2L226.9,269.2L227.0,268.6L227.2,268.4L227.3,269.0L227.5,269.4L227.6,267.9L227.7,267.5L227.9,266.0L228.0,265.6L228.2,265.9L228.3,267.9L228.4,267.4L228.6,268.5L228.7,268.4L228.9,268.0L229.0,267.5L229.1,268.8L229.3,268.2L229.4,272.5L229.6,270.8L229.7,270.3L229.8,272.9L230.0,270.9L230.1,272.0L230.3,271.3L230.4,272.0L230.5,271.4L230.7,272.2L230.8,273.5L231.0,271.0L231.1,269.9L231.2,273.5L231.4,272.4L231.5,272.8L231.7,272.1L231.8,274.0L231.9,274.6L232.1,271.3L232.2,273.4L232.4,272.2L232.5,271.2L232.6,272.7L232.8,273.7L232.9,271.7L233.1,271.7L233.2,274.4L233.3,273.2L233.5,273.6L233.6,272.1L233.8,272.5L233.9,273.0L234.0,273.1L234.2,273.3L234.3,275.0L234.5,273.2L234.6,271.5L234.7,272.1L234.9,272.9L235.0,274.2L235.2,272.1L235.3,272.3L235.4,272.7L235.6,271.9L235.7,271.8L235.9,272.3L236.0,273.7L236.1,273.0L236.3,272.2L236.4,272.8L236.6,271.1L236.7,273.9L236.8,273.3L237.0,272.9L237.1,271.0L237.3,274.7L237.4,269.6L237.5,271.7L237.7,272.0L237.8,273.8L238.0,271.6L238.1,273.4L238.2,273.1L238.4,272.9L238.5,274.1L238.7,274.8L238.8,273.6L238.9,273.1L239.1,271.0L239.2,274.7L239.4,272.9L239.5,271.5L239.6,273.4L239.8,274.5L239.9,272.6L240.1,271.5L240.2,275.0L240.3,273.3L240.5,273.0L240.6,273.7L240.8,270.3L240.9,272.3L241.0,272.0L241.2,274.2L241.3,271.1L241.5,270.9L241.6,269.7L241.7,270.2L241.9,270.6L242.0,271.0L242.2,270.2L242.3,272.1L242.4,270.2L242.6,270.1L242.7,270.4L242.9,269.5L243.0,268.1L243.1,267.1L243.3,269.3L243.4,268.0L243.6,270.4L243.7,268.5L243.8,267.1L244.0,269.7L244.1,270.9L244.3,270.0L244.4,270.7L244.5,270.7L244.7,272.3L244.8,271.3L245.0,271.1L245.1,270.7L245.2,269.7L245.4,273.0L245.5,273.0L245.7,271.0L245.8,272.5L245.9,272.3L246.1,271.7L246.2,271.8L246.4,272.7L246.5,270.5L246.6,271.4L246.8,271.6L246.9,271.4L247.1,271.0L247.2,271.0L247.3,271.1L247.5,269.1L247.6,269.5L247.8,268.2L247.9,269.6L248.0,265.7L248.2,265.8L248.3,265.4L248.5,262.9L248.6,261.3L248.7,259.2L248.9,258.2L249.0,254.8L249.2,254.2L249.3,252.9L249.4,250.3L249.6,251.8L249.7,251.4L249.9,253.3L250.0,255.3L250.1,256.5L250.3,256.9L250.4,260.5L250.6,260.5L250.7,263.1L250.8,267.2L251.0,266.8L251.1,269.6L251.3,268.9L251.4,269.8L251.5,269.3L251.7,271.9L251.8,271.2L252.0,272.0L252.1,272.1L252.2,272.4L252.4,272.3L252.5,272.2L252.7,272.2L252.8,271.4L252.9,270.0L253.1,272.6L253.2,274.1L253.4,272.8L253.5,273.9L253.6,272.0L253.8,270.4L253.9,270.2L254.1,271.8L254.2,271.2L254.3,270.3L254.5,270.9L254.6,269.0L254.8,269.9L254.9,268.5L255.0,268.4L255.2,269.1L255.3,267.1L255.5,268.1L255.6,267.4L255.7,264.3L255.9,266.5L256.0,262.0L256.2,262.4L256.3,262.7L256.4,258.7L256.6,261.6L256.7,261.2L256.9,259.9L257.0,260.4L257.1,260.7L257.3,260.7L257.4,262.8L257.6,262.0L257.7,263.2L257.8,264.5L258.0,265.8L258.1,267.0L258.3,265.1L258.4,265.0L258.5,267.9L258.7,268.7L258.8,268.2L259.0,270.3L259.1,271.3L259.2,271.6L259.4,273.2L259.5,270.5L259.7,271.7L259.8,273.7L259.9,272.7L260.1,271.2L260.2,272.6L260.4,273.9L260.5,275.3L260.6,273.7L260.8,274.4L260.9,272.1L261.1,272.9L261.2,274.2L261.3,271.8L261.5,273.0L261.6,271.3L261.8,275.1L261.9,273.4L262.0,274.3L262.2,272.1L262.3,272.4L262.5,275.5L262.6,273.0L262.7,272.9L262.9,273.9L263.0,274.0L263.2,271.5L263.3,272.6L263.4,273.6L263.6,273.4L263.7,273.6L263.9,272.6L264.0,272.7L264.1,272.8L264.3,272.0L264.4,271.9L264.6,272.3L264.7,272.7L264.8,272.5L265.0,272.1L265.1,272.4L265.3,272.4L265.4,272.8L265.5,272.7L265.7,270.9L265.8,273.5L266.0,271.0L266.1,273.5L266.2,272.4L266.4,273.8L266.5,274.0L266.7,270.8L266.8,273.4L266.9,272.9L267.1,272.1L267.2,273.0L267.4,272.4L267.5,273.1L267.6,272.0L267.8,273.9L267.9,273.7L268.1,273.7L268.2,272.1L268.3,274.9L268.5,274.7L268.6,272.6L268.8,272.7L268.9,272.7L269.0,274.3L269.2,274.5L269.3,272.6L269.5,271.3L269.6,273.7L269.7,273.2L269.9,273.4L270.0,273.8L270.2,272.4L270.3,273.6L270.4,272.9L270.6,273.8L270.7,274.6L270.9,273.1L271.0,272.0L271.1,274.0L271.3,273.6L271.4,272.7L271.6,270.8L271.7,271.7L271.8,272.4L272.0,272.7L272.1,271.1L272.3,271.6L272.4,270.6L272.5,270.6L272.7,271.3L272.8,270.3L273.0,270.4L273.1,271.2L273.2,271.1L273.4,269.2L273.5,269.4L273.7,268.4L273.8,268.2L273.9,270.2L274.1,269.5L274.2,268.5L274.4,271.2L274.5,269.7L274.6,270.4L274.8,271.4L274.9,271.5L275.1,271.1L275.2,269.3L275.3,272.2L275.5,271.1L275.6,270.3L275.8,269.4L275.9,273.2L276.0,272.0L276.2,272.0L276.3,272.3L276.5,271.7L276.6,270.4L276.7,272.8L276.9,273.1L277.0,272.6L277.2,273.8L277.3,273.9L277.4,271.4L277.6,271.8L277.7,273.3L277.9,272.7L278.0,272.8L278.1,273.6L278.3,273.2L278.4,272.2L278.6,272.7L278.7,271.9L278.8,272.4L279.0,271.6L279.1,271.0L279.3,272.6L279.4,272.8L279.5,274.2L279.7,274.8L279.8,273.4L280.0,274.0L280.1,272.9L280.2,272.6L280.4,273.4L280.5,273.5L280.7,274.1L280.8,274.0L280.9,275.4L281.1,273.5L281.2,271.8L281.4,273.4L281.5,272.5L281.6,273.2L281.8,274.4L281.9,272.6L282.1,272.7L282.2,273.2L282.3,271.6L282.5,272.7L282.6,272.8L282.8,272.5L282.9,272.6L283.0,271.6L283.2,271.1L283.3,269.0L283.5,267.2L283.6,268.7L283.7,270.7L283.9,269.0L284.0,266.0L284.2,267.7L284.3,268.6L284.4,266.5L284.6,269.4L284.7,267.9L284.9,270.7L285.0,269.9L285.1,273.5L285.3,269.3L285.4,271.3L285.6,269.8L285.7,272.6L285.8,272.0L286.0,272.6L286.1,272.1L286.3,271.1L286.4,271.6L286.5,271.2L286.7,271.3L286.8,272.8L287.0,273.8L287.1,273.6L287.2,273.3L287.4,272.2L287.5,273.4L287.7,271.9L287.8,272.8L287.9,273.3L288.1,272.3L288.2,272.1L288.4,272.0L288.5,273.1L288.6,272.0L288.8,270.9L288.9,271.6L289.1,270.8L289.2,273.4L289.3,272.2L289.5,270.6L289.6,272.3L289.8,272.9L289.9,272.6L290.0,272.1L290.2,272.5L290.3,272.4L290.5,273.2L290.6,272.6L290.7,274.7L290.9,272.2L291.0,274.0L291.2,272.8L291.3,271.2L291.4,271.7L291.6,271.0L291.7,271.2L291.9,274.1L292.0,272.4L292.1,273.7L292.3,272.4L292.4,273.5L292.6,272.2L292.7,274.1L292.8,272.8L293.0,272.6L293.1,273.1L293.3,275.5L293.4,273.6L293.5,273.9L293.7,271.8L293.8,272.3L294.0,273.5L294.1,271.3L294.2,274.5L294.4,273.3L294.5,273.1L294.7,273.2L294.8,273.3L294.9,273.0L295.1,274.9L295.2,274.2L295.4,274.6L295.5,273.1L295.6,272.4L295.8,274.9L295.9,272.1L296.1,272.6L296.2,273.7L296.3,273.8L296.5,271.0L296.6,271.8L296.8,271.9L296.9,271.4L297.0,270.7L297.2,271.9L297.3,270.1L297.5,270.0L297.6,267.3L297.7,269.0L297.9,266.5L298.0,268.5L298.2,267.8L298.3,266.4L298.4,266.6L298.6,266.2L298.7,265.5L298.9,265.4L299.0,264.5L299.1,263.8L299.3,263.3L299.4,266.0L299.6,264.7L299.7,265.0L299.8,266.2L300.0,265.7L300.1,266.4L300.3,267.6L300.4,268.4L300.5,268.5L300.7,266.4L300.8,268.4L301.0,268.7L301.1,269.7L301.2,268.4L301.4,268.4L301.5,269.4L301.7,268.6L301.8,268.2L301.9,269.1L302.1,269.8L302.2,269.0L302.4,270.2L302.5,268.0L302.6,269.9L302.8,269.4L302.9,268.8L303.1,269.5L303.2,269.2L303.3,270.1L303.5,269.8L303.6,271.9L303.8,270.5L303.9,269.6L304.0,271.1L304.2,271.9L304.3,271.3L304.5,272.8L304.6,271.2L304.7,271.3L304.9,274.0L305.0,272.0L305.2,272.6L305.3,272.8L305.4,272.9L305.6,272.4L305.7,272.3L305.9,273.6L306.0,272.3L306.1,272.9L306.3,273.7L306.4,272.6L306.6,271.0L306.7,272.7L306.8,273.4L307.0,272.4L307.1,270.9L307.3,273.1L307.4,274.4L307.5,270.7L307.7,269.7L307.8,272.2L308.0,272.8L308.1,273.4L308.2,273.5L308.4,272.7L308.5,273.3L308.7,273.4L308.8,273.5L308.9,273.3L309.1,273.5L309.2,274.4L309.4,274.2L309.5,273.4L309.6,275.1L309.8,273.2L309.9,273.7L310.1,273.8L310.2,271.7L310.3,273.2L310.5,274.4L310.6,274.2L310.8,272.2L310.9,272.5L311.0,272.2L311.2,273.0L311.3,273.1L311.5,271.4L311.6,273.3L311.7,273.1L311.9,272.9L312.0,272.1L312.2,272.7L312.3,271.5L312.4,273.5L312.6,273.6L312.7,273.3L312.9,272.1L313.0,274.7L313.1,274.5L313.3,271.4L313.4,273.8L313.6,273.6L313.7,270.9L313.8,274.1L314.0,274.3L314.1,274.4L314.3,274.0L314.4,273.2L314.5,273.4L314.7,274.1L314.8,274.8L315.0,273.3L315.1,273.2L315.2,274.0L315.4,271.2L315.5,273.6L315.7,273.2L315.8,271.1L315.9,274.1L316.1,272.5L316.2,274.3L316.4,274.7L316.5,271.9L316.6,272.0L316.8,273.5L316.9,271.9L317.1,274.4L317.2,273.9L317.3,274.7L317.5,271.9L317.6,273.9L317.8,274.0L317.9,271.7L318.0,274.0L318.2,271.7L318.3,273.1L318.5,271.6L318.6,273.8L318.7,274.6L318.9,272.9L319.0,272.8L319.2,274.1L319.3,272.4L319.4,272.9L319.6,273.9L319.7,273.5L319.9,274.5L320.0,274.3L320.1,275.0L320.3,273.0L320.4,274.3L320.6,272.3L320.7,273.9L320.8,274.6L321.0,275.2L321.1,271.7L321.3,272.5L321.4,273.6L321.5,272.2L321.7,273.5L321.8,273.4L322.0,272.3L322.1,272.1L322.2,271.7L322.4,273.0L322.5,273.8L322.7,272.9L322.8,275.2L322.9,270.8L323.1,271.6L323.2,272.7L323.4,271.0L323.5,272.3L323.6,272.4L323.8,271.4L323.9,270.6L324.1,271.5L324.2,270.6L324.3,270.6L324.5,270.0L324.6,268.3L324.8,267.0L324.9,267.1L325.0,267.2L325.2,266.2L325.3,266.5L325.5,265.2L325.6,265.3L325.7,264.1L325.9,262.9L326.0,264.3L326.2,264.0L326.3,262.8L326.4,263.4L326.6,266.8L326.7,261.1L326.9,266.2L327.0,265.6L327.1,266.1L327.3,266.3L327.4,266.7L327.6,270.1L327.7,267.8L327.8,268.2L328.0,270.1L328.1,270.0L328.3,269.8L328.4,270.0L328.5,269.3L328.7,272.1L328.8,270.3L329.0,269.4L329.1,273.4L329.2,273.1L329.4,272.8L329.5,272.2L329.7,274.0L329.8,271.7L329.9,270.8L330.1,273.1L330.2,273.9L330.4,273.6L330.5,275.3L330.6,273.9L330.8,272.9L330.9,272.7L331.1,273.7L331.2,272.6L331.3,272.6L331.5,271.1L331.6,272.7L331.8,271.6L331.9,273.0L332.0,272.8L332.2,273.2L332.3,274.3L332.5,272.3L332.6,273.7L332.7,270.9L332.9,271.9L333.0,272.5L333.2,273.2L333.3,269.6L333.4,270.0L333.6,269.7L333.7,268.8L333.9,267.1L334.0,266.1L334.1,265.8L334.3,266.5L334.4,264.8L334.6,267.6L334.7,267.0L334.8,263.8L335.0,265.7L335.1,268.1L335.3,268.8L335.4,269.1L335.5,267.1L335.7,268.9L335.8,271.0L336.0,270.5L336.1,270.1L336.2,271.5L336.4,272.4L336.5,271.8L336.7,272.2L336.8,273.2L336.9,271.9L337.1,271.5L337.2,273.2L337.4,271.2L337.5,273.2L337.6,272.2L337.8,273.6L337.9,271.6L338.1,273.9L338.2,273.1L338.3,272.5L338.5,272.0L338.6,272.8L338.8,272.0L338.9,271.7L339.0,273.9L339.2,273.5L339.3,274.3L339.5,271.6L339.6,270.8L339.7,270.9L339.9,273.4L340.0,273.5L340.2,271.0L340.3,274.0L340.4,272.5L340.6,271.7L340.7,272.6L340.9,273.2L341.0,272.2L341.1,272.2L341.3,271.6L341.4,271.0L341.6,272.2L341.7,271.1L341.8,273.5L342.0,271.9L342.1,274.2L342.3,271.3L342.4,274.2L342.5,272.0L342.7,272.0L342.8,273.3L343.0,274.1L343.1,273.2L343.2,273.0L343.4,275.5L343.5,274.0L343.7,272.3L343.8,273.1L343.9,275.0L344.1,273.8L344.2,274.2L344.4,275.4L344.5,272.6L344.6,273.7L344.8,272.6L344.9,273.1L345.1,273.7L345.2,272.2L345.3,273.7L345.5,273.5L345.6,274.5L345.8,272.9L345.9,272.3L346.0,274.1L346.2,272.4L346.3,274.0L346.5,274.5L346.6,273.3L346.7,274.0L346.9,273.1L347.0,271.2L347.2,272.7L347.3,272.0L347.4,274.0L347.6,273.1L347.7,273.7L347.9,273.4L348.0,274.5L348.1,273.1L348.3,273.2L348.4,273.8L348.6,274.8L348.7,273.1L348.8,273.2L349.0,272.8L349.1,272.3L349.3,271.2L349.4,272.5L349.5,272.5L349.7,272.1L349.8,274.5L350.0,272.2L350.1,272.9L350.2,272.1L350.4,273.6L350.5,272.2L350.7,274.6L350.8,272.3L350.9,273.5L351.1,273.6L351.2,272.4L351.4,273.5L351.5,272.9L351.6,272.0L351.8,272.0L351.9,273.3L352.1,275.0L352.2,272.8L352.3,273.9L352.5,272.6L352.6,273.8L352.8,272.0L352.9,272.5L353.0,273.4L353.2,272.7L353.3,273.1L353.5,274.5L353.6,273.2L353.7,272.4L353.9,272.1L354.0,272.6L354.2,274.1L354.3,272.7L354.4,272.6L354.6,273.5L354.7,273.4L354.9,273.6L355.0,272.0L355.1,271.4L355.3,270.7L355.4,271.6L355.6,271.8L355.7,273.1L355.8,272.8L356.0,271.9L356.1,273.6L356.3,271.6L356.4,272.1L356.5,271.9L356.7,271.8L356.8,272.7L357.0,272.2L357.1,272.4L357.2,274.6L357.4,271.7L357.5,271.9L357.7,272.8L357.8,273.3L357.9,273.3L358.1,272.5L358.2,272.0L358.4,272.1L358.5,272.9L358.6,271.1L358.8,269.6L358.9,272.2L359.1,270.8L359.2,271.9L359.3,273.1L359.5,271.6L359.6,273.4L359.8,269.6L359.9,271.4L360.0,271.2L360.2,271.4L360.3,269.6L360.5,270.0L360.6,269.6L360.7,269.3L360.9,267.7L361.0,267.1L361.2,269.2L361.3,268.9L361.4,268.5L361.6,269.7L361.7,270.2L361.9,268.0L362.0,270.2L362.1,271.1L362.3,271.0L362.4,270.8L362.6,271.2L362.7,269.2L362.8,270.5L363.0,272.2L363.1,272.8L363.3,271.9L363.4,271.3L363.5,271.7L363.7,272.4L363.8,273.7L364.0,272.5L364.1,271.1L364.2,272.4L364.4,272.0L364.5,274.1L364.7,272.0L364.8,271.4L364.9,271.0L365.1,269.6L365.2,269.5L365.4,270.2L365.5,269.7L365.6,270.7L365.8,270.2L365.9,270.9L366.1,271.3L366.2,269.7L366.3,269.4L366.5,267.6L366.6,269.8L366.8,270.2L366.9,268.7L367.0,269.2L367.2,268.8L367.3,270.7L367.5,270.1L367.6,270.8L367.7,268.4L367.9,272.6L368.0,269.2L368.2,269.0L368.3,270.4L368.4,269.8L368.6,272.2L368.7,269.8L368.9,269.7L369.0,271.5L369.1,272.0L369.3,270.2L369.4,270.6L369.6,270.9L369.7,271.1L369.8,273.0L370.0,272.6L370.1,272.2L370.3,272.5L370.4,271.2L370.5,271.7L370.7,270.7L370.8,270.1L371.0,272.4L371.1,268.7L371.2,270.1L371.4,269.3L371.5,268.0L371.7,269.1L371.8,269.5L371.9,269.7L372.1,268.2L372.2,269.7L372.4,269.0L372.5,269.2L372.6,266.3L372.8,267.6L372.9,267.4L373.1,268.7L373.2,267.4L373.3,267.8L373.5,267.7L373.6,267.7L373.8,268.2L373.9,270.3L374.0,268.5L374.2,267.5L374.3,270.5L374.5,269.9L374.6,271.5L374.7,271.8L374.9,271.3L375.0,271.1L375.2,271.3L375.3,272.2L375.4,271.6L375.6,272.3L375.7,273.7L375.9,271.7L376.0,271.7L376.1,271.8L376.3,273.0L376.4,273.1L376.6,274.0L376.7,273.2L376.8,272.4L377.0,272.7L377.1,271.1L377.3,272.8L377.4,272.2L377.5,273.8L377.7,273.5L377.8,271.3L378.0,271.7L378.1,273.4L378.2,270.3L378.4,271.6L378.5,273.1L378.7,273.4L378.8,272.9L378.9,273.9L379.1,272.7L379.2,273.1L379.4,272.9L379.5,272.0L379.6,273.4L379.8,272.7L379.9,273.2L380.1,270.6L380.2,273.1L380.3,272.5L380.5,272.4L380.6,273.0L380.8,272.6L380.9,274.1L381.0,274.6L381.2,274.2L381.3,274.5L381.5,273.9L381.6,273.5L381.7,272.1L381.9,272.9L382.0,274.4L382.2,273.8L382.3,272.4L382.4,272.6L382.6,273.3L382.7,271.7L382.9,273.1L383.0,270.2L383.1,271.2L383.3,270.7L383.4,269.5L383.6,269.2L383.7,268.9L383.8,265.7L384.0,268.2L384.1,268.7L384.3,268.0L384.4,268.7L384.5,266.7L384.7,268.0L384.8,268.8L385.0,268.6L385.1,270.6L385.2,270.6L385.4,270.0L385.5,272.2L385.7,272.5L385.8,271.7L385.9,273.1L386.1,273.3L386.2,273.7L386.4,271.9L386.5,274.8L386.6,274.5L386.8,274.1L386.9,274.9L387.1,274.8L387.2,274.0L387.3,273.5L387.5,274.3L387.6,273.7L387.8,273.8L387.9,273.2L388.0,274.2L388.2,275.6L388.3,274.9L388.5,275.0L388.6,274.6L388.7,274.3L388.9,273.2L389.0,276.2L389.2,274.2L389.3,273.6L389.4,275.6L389.6,275.4L389.7,274.6L389.9,273.7L390.0,274.0L390.1,277.0L390.3,274.9L390.4,274.4L390.6,277.1L390.7,274.9L390.8,274.6L391.0,276.0L391.1,275.6L391.3,276.7L391.4,273.6L391.5,275.5L391.7,273.3L391.8,275.4L392.0,274.5L392.1,274.4L392.2,274.0L392.4,276.0L392.5,276.9L392.7,275.3L392.8,275.1L392.9,275.0L393.1,276.2L393.2,275.1L393.4,280.0L393.5,276.1L393.6,278.2L393.8,276.8L393.9,275.1L394.1,274.9L394.2,276.3L394.3,276.1L394.5,276.3L394.6,275.4L394.8,278.7L394.9,278.3L395.0,274.1L395.2,276.4L395.3,276.9L395.5,275.4L395.6,275.5L395.7,277.0L395.9,276.3L396.0,274.5L396.2,277.2L396.3,275.3L396.4,277.7L396.6,275.0L396.7,273.5L396.9,276.3L397.0,277.5L397.1,277.0L397.3,276.8L397.4,275.8L397.6,277.7L397.7,274.6L397.8,277.0L398.0,274.8L398.1,275.4L398.3,274.4L398.4,274.9L398.5,277.2L398.7,274.5L398.8,276.0L399.0,274.8L399.1,276.5L399.2,273.9L399.4,275.2L399.5,276.1L399.7,277.3L399.8,274.0L399.9,274.3L400.1,275.1L400.2,276.8L400.4,274.2L400.5,276.0L400.6,274.5L400.8,274.1L400.9,273.5L401.1,275.4L401.2,276.5L401.3,275.4L401.5,273.4L401.6,275.1L401.8,276.9L401.9,276.7L402.0,276.3L402.2,278.0L402.3,275.2L402.5,275.2L402.6,279.2L402.7,277.5L402.9,276.6L403.0,276.2L403.2,273.8L403.3,277.2L403.4,274.3L403.6,274.3L403.7,276.1L403.9,277.7L404.0,275.8L404.1,276.6L404.3,275.6L404.4,276.5L404.6,274.4L404.7,278.3L404.8,275.0L405.0,276.4L405.1,273.8L405.3,277.8L405.4,276.2L405.5,277.8L405.7,274.9L405.8,276.6L406.0,275.0L406.1,275.2L406.2,276.5L406.4,274.5L406.5,276.2L406.7,277.2L406.8,276.9L406.9,276.0L407.1,275.3L407.2,273.9L407.4,276.3L407.5,274.2L407.6,275.7L407.8,274.1L407.9,274.4L408.1,274.2L408.2,274.7L408.3,273.4L408.5,273.9L408.6,272.9L408.8,274.1L408.9,274.0L409.0,274.4L409.2,273.0L409.3,274.3L409.5,274.2L409.6,274.9L409.7,274.6L409.9,273.6L410.0,275.3L410.2,274.0L410.3,275.1L410.4,272.9L410.6,275.5L410.7,276.0L410.9,274.2L411.0,275.6L411.1,274.9L411.3,276.6L411.4,275.8L411.6,273.9L411.7,275.1L411.8,273.5L412.0,275.2L412.1,276.0L412.3,276.5L412.4,275.3L412.5,274.9L412.7,275.3L412.8,274.4L413.0,275.8L413.1,276.8L413.2,275.6L413.4,276.7L413.5,275.0L413.7,275.2L413.8,276.0L413.9,277.9L414.1,276.6L414.2,277.3L414.4,275.4L414.5,276.6L414.6,273.9L414.8,276.0L414.9,273.4L415.1,276.5L415.2,275.8L415.3,276.7L415.5,275.8L415.6,274.9L415.8,274.8L415.9,275.6L416.0,277.1L416.2,276.3L416.3,275.4L416.5,275.5L416.6,275.6L416.7,275.9L416.9,276.2L417.0,275.6L417.2,276.4L417.3,274.5L417.4,277.6L417.6,276.3L417.7,277.5L417.9,276.3L418.0,275.8L418.1,276.0L418.3,275.7L418.4,274.8L418.6,275.1L418.7,277.4L418.8,276.4L419.0,274.8L419.1,275.7L419.3,273.9L419.4,276.4L419.5,273.9L419.7,276.1L419.8,275.1L420.0,275.1L420.1,274.4L420.2,275.1L420.4,274.9L420.5,274.8L420.7,276.0L420.8,278.2L420.9,275.4L421.1,276.7L421.2,275.8L421.4,275.2L421.5,277.4L421.6,276.7L421.8,277.1L421.9,276.0L422.1,275.9L422.2,274.7L422.3,275.1L422.5,277.2L422.6,273.2L422.8,276.1L422.9,277.1L423.0,276.4L423.2,276.7L423.3,275.7L423.5,277.2L423.6,277.2L423.7,275.8L423.9,277.5L424.0,275.4L424.2,273.4L424.3,276.1L424.4,275.9L424.6,275.0L424.7,275.5L424.9,275.1L425.0,273.7L425.1,276.6L425.3,275.1L425.4,277.8L425.6,274.8L425.7,275.1L425.8,273.1L426.0,275.7L426.1,273.4L426.3,275.2L426.4,275.6L426.5,275.5L426.7,273.9L426.8,274.1L427.0,275.7L427.1,276.1L427.2,276.5L427.4,275.2L427.5,275.1L427.7,277.2L427.8,274.7L427.9,276.1L428.1,275.1L428.2,274.1L428.4,274.3L428.5,275.9L428.6,275.6L428.8,275.7L428.9,274.6L429.1,274.6L429.2,275.6L429.3,275.3L429.5,273.8L429.6,275.1L429.8,277.3L429.9,275.0L430.0,276.2L430.2,275.6L430.3,276.4L430.5,274.8L430.6,274.3L430.7,276.1L430.9,275.1L431.0,275.8L431.2,275.6L431.3,276.9L431.4,276.2L431.6,275.9L431.7,274.8L431.9,274.1L432.0,274.9L432.1,276.7L432.3,276.6L432.4,276.5L432.6,275.3L432.7,274.6L432.8,277.0L433.0,276.1L433.1,276.4L433.3,275.0L433.4,275.1L433.5,276.4L433.7,276.8L433.8,275.0L434.0,276.3L434.1,274.7L434.2,277.1L434.4,276.6L434.5,278.2L434.7,277.5L434.8,275.3L434.9,276.2L435.1,275.4L435.2,275.8L435.4,276.3L435.5,275.3L435.6,275.3L435.8,273.7L435.9,275.5L436.1,274.9L436.2,275.4L436.3,275.6L436.5,274.4L436.6,275.0L436.8,273.8L436.9,275.4L437.0,274.5L437.2,273.8L437.3,274.4L437.5,273.3L437.6,274.3L437.7,274.6L437.9,275.2L438.0,275.3L438.2,274.9L438.3,275.6L438.4,273.6L438.6,276.1L438.7,276.8L438.9,276.9L439.0,277.4L439.1,276.0L439.3,276.1L439.4,275.8L439.6,275.6L439.7,276.0L439.8,277.1L440.0,273.7L440.1,274.9L440.3,275.5L440.4,274.3L440.5,275.8L440.7,273.9L440.8,274.8L441.0,273.5L441.1,275.4L441.2,274.3L441.4,275.6L441.5,274.6L441.7,274.2L441.8,274.9L441.9,275.4L442.1,275.4L442.2,275.1L442.4,275.3L442.5,275.5L442.6,276.2L442.8,274.9L442.9,275.6L443.1,273.8L443.2,275.9L443.3,275.5L443.5,274.9L443.6,274.8L443.8,273.6L443.9,275.4L444.0,275.2L444.2,274.0L444.3,274.8L444.5,275.4L444.6,275.1L444.7,275.2L444.9,274.4L445.0,276.2L445.2,275.4L445.3,276.3L445.4,277.5L445.6,273.2L445.7,274.8L445.9,275.0L446.0,273.9L446.1,275.7L446.3,274.3L446.4,276.7L446.6,275.9L446.7,275.4L446.8,275.0L447.0,275.8L447.1,275.5L447.3,276.3L447.4,275.3L447.5,275.9L447.7,275.3L447.8,275.2L448.0,273.4L448.1,275.3L448.2,275.7L448.4,274.3L448.5,274.0L448.7,275.0L448.8,275.7L448.9,273.8L449.1,275.8L449.2,276.3L449.4,275.2L449.5,275.6L449.6,275.8L449.8,274.8L449.9,276.1L450.1,275.7L450.2,273.9L450.3,275.6L450.5,275.9L450.6,273.9L450.8,275.8L450.9,274.8L451.0,273.8L451.2,274.0L451.3,274.2L451.5,275.6L451.6,274.7L451.7,274.8L451.9,273.8L452.0,275.4L452.2,274.3L452.3,275.0L452.4,276.3L452.6,276.5L452.7,275.1L452.9,275.7L453.0,276.2L453.1,275.4L453.3,276.9L453.4,276.9L453.6,275.4L453.7,274.2L453.8,275.1L454.0,276.8L454.1,276.2L454.3,276.2L454.4,276.1L454.5,274.5L454.7,275.3L454.8,276.0L455.0,275.3L455.1,276.0L455.2,274.2L455.4,273.8L455.5,277.0L455.7,275.7L455.8,275.5L455.9,276.4L456.1,277.0L456.2,277.8L456.4,272.5L456.5,275.4L456.6,275.9L456.8,273.0L456.9,273.1L457.1,274.6L457.2,276.7L457.3,275.6L457.5,276.8L457.6,275.2L457.8,276.1L457.9,276.6L458.0,275.6L458.2,275.3L458.3,275.6L458.5,271.6L458.6,275.6L458.7,273.4L458.9,274.3L459.0,275.7L459.2,275.4L459.3,272.9L459.4,275.4L459.6,275.9L459.7,275.3L459.9,275.9L460.0,275.8L460.1,273.6L460.3,274.9L460.4,274.6L460.6,273.8L460.7,275.0L460.8,274.3L461.0,275.0L461.1,274.3L461.3,276.3L461.4,277.6L461.5,274.7L461.7,275.2L461.8,275.2L462.0,275.6L462.1,275.0L462.2,272.6L462.4,275.4L462.5,274.8L462.7,273.8L462.8,274.8L462.9,274.5L463.1,275.3L463.2,274.8L463.4,274.8L463.5,275.1L463.6,275.5L463.8,275.2L463.9,276.4L464.1,275.3L464.2,274.4L464.3,276.9L464.5,275.4L464.6,276.9L464.8,273.9L464.9,275.6L465.0,276.7L465.2,276.1L465.3,274.7L465.5,274.2L465.6,274.2L465.7,274.4L465.9,273.8L466.0,274.0L466.2,273.7L466.3,273.4L466.4,274.8L466.6,272.6L466.7,274.7L466.9,275.5L467.0,273.8L467.1,273.9L467.3,274.7L467.4,274.8L467.6,276.0L467.7,273.1L467.8,275.1L468.0,276.5L468.1,275.4L468.3,277.1L468.4,277.8L468.5,275.1L468.7,277.1L468.8,276.2L469.0,275.5L469.1,275.5L469.2,275.5L469.4,275.0L469.5,276.0L469.7,277.1L469.8,277.5L469.9,275.9L470.1,276.8L470.2,276.4L470.4,273.5L470.5,276.7L470.6,274.6L470.8,274.9L470.9,277.0L471.1,277.9L471.2,274.9L471.3,275.2L471.5,275.3L471.6,275.5L471.8,275.2L471.9,274.7L472.0,274.1L472.2,277.4L472.3,275.4L472.5,275.1L472.6,276.7L472.7,275.6L472.9,277.1L473.0,276.5L473.2,276.7L473.3,275.2L473.4,276.2L473.6,273.8L473.7,273.9L473.9,275.4L474.0,275.0L474.1,276.4L474.3,274.8L474.4,273.2L474.6,275.3L474.7,274.9L474.8,275.2L475.0,273.8L475.1,274.2L475.3,275.3L475.4,275.8L475.5,275.4L475.7,275.8L475.8,273.8L476.0,275.4L476.1,275.7L476.2,276.4L476.4,275.6L476.5,275.0L476.7,275.1L476.8,275.2L476.9,273.8L477.1,275.2L477.2,276.0L477.4,275.5L477.5,273.1L477.6,275.1L477.8,273.7L477.9,276.3L478.1,275.6L478.2,275.9L478.3,274.8L478.5,273.8L478.6,275.0L478.8,275.4L478.9,274.2L479.0,274.7L479.2,277.5L479.3,274.4L479.5,276.5L479.6,274.1L479.7,276.1L479.9,276.5L480.0,275.9L480.2,276.7L480.3,277.4L480.4,273.8L480.6,275.3L480.7,275.5L480.9,275.4L481.0,276.5L481.1,275.3L481.3,276.3L481.4,276.1L481.6,274.9L481.7,275.1L481.8,273.7L482.0,274.9L482.1,275.0L482.3,274.7L482.4,274.2L482.5,275.7L482.7,274.7L482.8,277.3L483.0,276.3L483.1,275.7L483.2,274.3L483.4,275.9L483.5,275.2L483.7,275.3L483.8,274.4L483.9,276.1L484.1,275.9L484.2,275.2L484.4,274.9L484.5,275.1L484.6,274.2L484.8,274.9L484.9,276.7L485.1,274.6L485.2,277.5L485.3,273.8L485.5,276.2L485.6,276.1L485.8,276.2L485.9,275.4L486.0,273.4L486.2,276.0L486.3,276.1L486.5,275.0L486.6,272.7L486.7,276.0L486.9,274.1L487.0,274.7L487.2,276.2L487.3,276.5L487.4,275.5L487.6,274.6L487.7,276.9L487.9,276.5L488.0,275.2L488.1,274.4L488.3,275.9L488.4,274.2L488.6,277.5L488.7,276.3L488.8,275.6L489.0,276.4L489.1,274.4L489.3,276.1L489.4,275.5L489.5,274.5L489.7,275.5L489.8,276.7L490.0,274.9L490.1,276.1L490.2,274.7L490.4,276.2L490.5,274.3L490.7,276.8L490.8,276.7L490.9,276.8L491.1,277.9L491.2,276.2L491.4,276.1L491.5,276.7L491.6,275.7L491.8,274.2L491.9,274.7L492.1,274.8L492.2,276.2L492.3,275.3L492.5,275.4L492.6,276.4L492.8,276.1L492.9,278.2L493.0,276.1L493.2,275.0L493.3,277.2L493.5,275.4L493.6,275.8L493.7,276.8L493.9,275.7L494.0,276.3L494.2,274.8L494.3,275.1L494.4,276.1L494.6,274.7L494.7,274.9L494.9,275.3L495.0,276.8L495.1,276.6L495.3,275.3L495.4,275.5L495.6,275.0L495.7,277.1L495.8,276.2L496.0,276.8L496.1,274.5L496.3,276.9L496.4,276.3L496.5,276.9L496.7,277.4L496.8,276.2L497.0,275.6L497.1,276.6L497.2,274.5L497.4,277.2L497.5,275.7L497.7,273.9L497.8,276.1L497.9,275.8L498.1,276.6L498.2,275.9L498.4,275.2L498.5,274.6L498.6,273.6L498.8,275.4L498.9,275.1L499.1,274.1L499.2,275.0L499.3,273.5L499.5,275.4L499.6,274.4L499.8,274.6L499.9,273.6L500.0,275.4L500.2,274.6L500.3,273.9L500.5,275.0L500.6,274.4L500.7,275.5L500.9,272.8L501.0,273.2L501.2,276.5L501.3,273.9L501.4,275.2L501.6,274.3L501.7,275.2L501.9,277.6L502.0,273.2L502.1,275.7L502.3,275.1L502.4,275.2L502.6,274.2L502.7,274.1L502.8,276.7L503.0,275.9L503.1,274.3L503.3,275.6L503.4,274.4L503.5,278.6L503.7,275.9L503.8,273.4L504.0,276.1L504.1,275.7L504.2,275.3L504.4,275.2L504.5,274.3L504.7,274.4L504.8,272.4L504.9,275.7L505.1,276.5L505.2,275.0L505.4,275.1L505.5,273.2L505.6,274.1L505.8,273.3L505.9,273.6L506.1,275.4L506.2,276.2L506.3,274.6L506.5,277.3L506.6,275.7L506.8,272.5L506.9,274.5L507.0,276.4L507.2,275.0L507.3,275.7L507.5,272.9L507.6,275.8L507.7,273.4L507.9,274.7L508.0,276.4L508.2,274.4L508.3,274.2L508.4,275.1L508.6,273.2L508.7,273.2L508.9,275.5L509.0,273.1L509.1,273.1L509.3,276.5L509.4,273.4L509.6,275.2L509.7,275.8L509.8,274.4L510.0,273.5L510.1,275.5L510.3,273.8L510.4,277.0L510.5,277.1L510.7,274.1L510.8,275.8L511.0,274.3L511.1,275.3L511.2,274.6L511.4,273.8L511.5,275.3L511.7,273.2L511.8,275.3L511.9,275.0L512.1,274.5L512.2,276.3L512.4,275.4L512.5,274.8L512.6,275.1L512.8,274.9L512.9,276.1L513.1,274.9L513.2,272.5L513.3,272.4L513.5,274.6L513.6,274.3L513.8,275.0L513.9,273.8L514.0,274.1L514.2,276.2L514.3,273.2L514.5,275.6L514.6,274.6L514.7,276.1L514.9,275.8L515.0,275.0L515.2,275.9L515.3,274.9L515.4,273.5L515.6,275.1L515.7,275.3L515.9,274.7L516.0,275.1L516.1,274.7L516.3,275.5L516.4,275.0L516.6,273.7L516.7,275.1L516.8,277.0L517.0,276.3L517.1,276.9L517.3,275.3L517.4,274.9L517.5,274.1L517.7,275.3L517.8,276.2L518.0,276.0L518.1,276.1L518.2,274.7L518.4,275.4L518.5,274.6L518.7,275.9L518.8,275.8L518.9,274.5L519.1,275.2L519.2,272.7L519.4,276.0L519.5,274.4L519.6,275.0L519.8,276.3L519.9,276.5L520.1,275.2L520.2,277.5L520.3,278.1L520.5,277.2L520.6,277.2L520.8,276.2L520.9,277.5L521.0,275.0L521.2,274.9L521.3,276.2L521.5,276.2L521.6,275.0L521.7,277.7L521.9,274.1L522.0,273.6L522.2,275.2L522.3,277.3L522.4,276.5L522.6,276.3L522.7,275.9L522.9,276.6L523.0,276.5L523.1,276.3L523.3,276.1L523.4,274.4L523.6,276.8L523.7,275.4L523.8,276.2L524.0,276.4L524.1,276.9L524.3,275.0L524.4,276.7L524.5,276.6L524.7,275.6L524.8,275.9L525.0,275.9L525.1,274.6L525.2,275.2L525.4,274.6L525.5,277.1L525.7,275.1L525.8,274.9L525.9,276.3L526.1,276.5L526.2,275.7L526.4,275.1L526.5,276.6L526.6,277.1L526.8,274.4L526.9,277.0L527.1,274.0L527.2,276.4L527.3,275.5L527.5,275.7L527.6,276.8L527.8,277.5L527.9,278.1L528.0,277.1L528.2,276.5L528.3,274.6L528.5,275.5L528.6,275.8L528.7,275.0L528.9,276.3L529.0,275.1L529.2,277.2L529.3,275.3L529.4,274.1L529.6,275.0L529.7,274.7L529.9,276.3L530.0,277.0L530.1,276.7L530.3,276.9L530.4,274.8L530.6,274.6L530.7,275.2L530.8,276.0L531.0,275.7L531.1,276.5L531.3,277.3L531.4,276.2L531.5,277.8L531.7,275.2L531.8,276.5L532.0,275.9L532.1,277.1L532.2,275.9L532.4,275.3L532.5,275.8L532.7,275.1L532.8,274.8L532.9,276.8L533.1,275.3L533.2,277.2L533.4,278.5L533.5,275.7L533.6,276.9L533.8,276.0L533.9,274.3" fill="none" stroke="#0a5f9c" stroke-width="1.35" stroke-linejoin="round"/>
<path d="M40.0,255.0L40.1,255.2L40.3,254.7L40.4,253.2L40.6,254.5L40.7,253.9L40.8,252.9L41.0,253.5L41.1,253.0L41.3,252.8L41.4,252.3L41.5,252.3L41.7,251.3L41.8,251.3L42.0,250.9L42.1,251.3L42.2,250.6L42.4,250.1L42.5,249.5L42.7,249.9L42.8,250.0L42.9,249.5L43.1,250.7L43.2,250.1L43.4,247.2L43.5,247.5L43.6,248.7L43.8,248.2L43.9,248.5L44.1,248.0L44.2,249.2L44.3,246.5L44.5,247.0L44.6,248.6L44.8,247.2L44.9,246.8L45.0,245.7L45.2,244.4L45.3,245.6L45.5,245.3L45.6,244.2L45.7,244.5L45.9,244.7L46.0,243.8L46.2,244.3L46.3,244.4L46.4,244.0L46.6,243.3L46.7,243.7L46.9,243.6L47.0,243.0L47.1,241.9L47.3,242.9L47.4,241.8L47.6,242.6L47.7,241.0L47.8,242.3L48.0,241.4L48.1,240.2L48.3,240.8L48.4,240.9L48.5,240.9L48.7,239.7L48.8,239.4L49.0,240.3L49.1,239.6L49.2,240.1L49.4,240.0L49.5,238.0L49.7,239.1L49.8,239.7L49.9,238.3L50.1,237.6L50.2,238.7L50.4,237.9L50.5,238.2L50.6,236.9L50.8,236.0L50.9,236.9L51.1,236.4L51.2,237.0L51.3,236.3L51.5,234.8L51.6,234.8L51.8,236.3L51.9,235.7L52.0,234.5L52.2,234.9L52.3,235.1L52.5,235.0L52.6,235.1L52.7,234.6L52.9,234.0L53.0,233.5L53.2,234.5L53.3,231.8L53.4,233.2L53.6,233.2L53.7,231.8L53.9,232.8L54.0,231.9L54.1,232.9L54.3,231.9L54.4,232.3L54.6,232.5L54.7,231.8L54.8,230.6L55.0,229.9L55.1,232.3L55.3,230.5L55.4,229.8L55.5,230.3L55.7,229.9L55.8,230.9L56.0,230.2L56.1,229.9L56.2,229.1L56.4,229.8L56.5,228.4L56.7,229.7L56.8,230.2L56.9,227.8L57.1,226.8L57.2,229.0L57.4,230.5L57.5,227.5L57.6,227.1L57.8,228.2L57.9,226.6L58.1,226.8L58.2,226.7L58.3,227.1L58.5,226.2L58.6,226.7L58.8,226.0L58.9,225.1L59.0,225.2L59.2,224.5L59.3,225.0L59.5,224.0L59.6,224.1L59.7,225.6L59.9,224.2L60.0,224.2L60.2,224.4L60.3,223.4L60.4,223.4L60.6,223.7L60.7,223.2L60.9,221.9L61.0,223.3L61.1,222.0L61.3,221.2L61.4,221.0L61.6,220.7L61.7,221.9L61.8,219.7L62.0,220.5L62.1,218.3L62.3,219.4L62.4,219.9L62.5,218.7L62.7,218.0L62.8,218.3L63.0,218.2L63.1,217.9L63.2,218.6L63.4,216.5L63.5,215.1L63.7,215.7L63.8,215.3L63.9,214.9L64.1,214.1L64.2,213.6L64.4,210.9L64.5,212.6L64.6,210.6L64.8,210.0L64.9,212.0L65.1,213.4L65.2,213.5L65.3,214.3L65.5,214.3L65.6,219.0L65.8,217.5L65.9,216.0L66.0,216.8L66.2,218.1L66.3,216.6L66.5,218.7L66.6,218.5L66.7,220.2L66.9,219.7L67.0,216.2L67.2,219.1L67.3,217.5L67.4,220.0L67.6,218.8L67.7,219.2L67.9,217.5L68.0,220.6L68.1,221.0L68.3,217.8L68.4,219.5L68.6,218.3L68.7,218.8L68.8,217.6L69.0,220.6L69.1,217.7L69.3,218.3L69.4,218.9L69.5,218.0L69.7,218.4L69.8,218.2L70.0,218.7L70.1,217.5L70.2,218.1L70.4,218.4L70.5,218.1L70.7,218.6L70.8,218.2L70.9,219.2L71.1,218.4L71.2,218.6L71.4,218.1L71.5,218.1L71.6,217.3L71.8,218.9L71.9,217.3L72.1,217.6L72.2,218.8L72.3,218.6L72.5,217.6L72.6,216.1L72.8,218.6L72.9,218.4L73.0,216.8L73.2,218.9L73.3,217.3L73.5,217.0L73.6,218.3L73.7,218.1L73.9,218.5L74.0,216.5L74.2,220.0L74.3,217.6L74.4,216.6L74.6,218.7L74.7,217.6L74.9,218.3L75.0,217.5L75.1,217.5L75.3,217.5L75.4,216.4L75.6,217.4L75.7,216.3L75.8,216.0L76.0,216.9L76.1,217.3L76.3,216.6L76.4,215.6L76.5,217.1L76.7,214.7L76.8,215.5L77.0,216.5L77.1,214.9L77.2,216.5L77.4,216.6L77.5,217.5L77.7,215.7L77.8,216.0L77.9,217.0L78.1,214.2L78.2,219.8L78.4,215.8L78.5,215.8L78.6,217.6L78.8,216.7L78.9,215.0L79.1,217.3L79.2,217.8L79.3,216.5L79.5,216.7L79.6,217.3L79.8,215.8L79.9,216.8L80.0,216.3L80.2,215.4L80.3,214.6L80.5,216.1L80.6,215.5L80.7,217.4L80.9,216.6L81.0,217.4L81.2,216.7L81.3,216.8L81.4,215.6L81.6,217.2L81.7,218.5L81.9,216.4L82.0,216.5L82.1,217.0L82.3,216.7L82.4,216.7L82.6,217.4L82.7,217.1L82.8,218.8L83.0,217.3L83.1,217.3L83.3,218.1L83.4,216.8L83.5,218.5L83.7,216.2L83.8,216.1L84.0,216.5L84.1,216.6L84.2,215.2L84.4,216.6L84.5,214.6L84.7,217.6L84.8,216.1L84.9,215.2L85.1,214.8L85.2,215.5L85.4,215.3L85.5,214.4L85.6,214.4L85.8,215.2L85.9,214.7L86.1,216.2L86.2,216.4L86.3,215.2L86.5,215.4L86.6,213.6L86.8,215.5L86.9,214.5L87.0,215.2L87.2,216.3L87.3,212.3L87.5,215.3L87.6,214.1L87.7,215.7L87.9,213.5L88.0,214.6L88.2,215.2L88.3,215.6L88.4,215.2L88.6,214.3L88.7,214.8L88.9,216.3L89.0,215.6L89.1,213.9L89.3,216.5L89.4,216.1L89.6,216.6L89.7,215.1L89.8,216.3L90.0,214.3L90.1,215.5L90.3,214.4L90.4,215.6L90.5,215.9L90.7,214.2L90.8,214.9L91.0,215.1L91.1,216.2L91.2,215.6L91.4,213.4L91.5,215.1L91.7,215.2L91.8,216.8L91.9,212.9L92.1,214.2L92.2,216.3L92.4,213.5L92.5,213.6L92.6,215.3L92.8,215.7L92.9,213.6L93.1,214.9L93.2,214.3L93.3,215.7L93.5,214.2L93.6,214.9L93.8,213.1L93.9,213.7L94.0,213.9L94.2,215.0L94.3,214.4L94.5,212.9L94.6,214.1L94.7,214.2L94.9,213.2L95.0,213.3L95.2,213.3L95.3,211.7L95.4,213.4L95.6,213.3L95.7,212.2L95.9,213.7L96.0,211.7L96.1,212.5L96.3,212.8L96.4,215.4L96.6,211.8L96.7,214.2L96.8,214.4L97.0,214.0L97.1,214.6L97.3,212.2L97.4,211.2L97.5,214.4L97.7,212.6L97.8,213.3L98.0,212.4L98.1,214.5L98.2,214.2L98.4,212.3L98.5,214.0L98.7,213.4L98.8,213.0L98.9,213.4L99.1,213.3L99.2,214.2L99.4,213.8L99.5,213.0L99.6,214.4L99.8,212.9L99.9,213.7L100.1,214.1L100.2,215.2L100.3,213.2L100.5,215.5L100.6,213.7L100.8,212.9L100.9,212.3L101.0,213.2L101.2,212.5L101.3,211.1L101.5,210.8L101.6,211.3L101.7,210.9L101.9,212.3L102.0,212.5L102.2,211.3L102.3,210.2L102.4,208.7L102.6,208.3L102.7,208.3L102.9,209.0L103.0,207.2L103.1,205.1L103.3,204.5L103.4,203.7L103.6,203.7L103.7,204.6L103.8,205.9L104.0,208.5L104.1,207.4L104.3,209.5L104.4,210.7L104.5,209.9L104.7,212.3L104.8,211.6L105.0,210.9L105.1,211.9L105.2,212.4L105.4,212.6L105.5,213.0L105.7,213.1L105.8,213.4L105.9,211.9L106.1,212.9L106.2,211.3L106.4,213.4L106.5,214.0L106.6,213.4L106.8,213.7L106.9,214.2L107.1,212.9L107.2,213.3L107.3,213.6L107.5,214.1L107.6,213.4L107.8,215.7L107.9,213.1L108.0,214.1L108.2,214.4L108.3,213.3L108.5,212.5L108.6,212.0L108.7,213.3L108.9,214.4L109.0,213.6L109.2,213.2L109.3,212.6L109.4,213.6L109.6,210.5L109.7,212.8L109.9,212.5L110.0,211.1L110.1,214.6L110.3,210.7L110.4,210.6L110.6,210.4L110.7,212.7L110.8,210.6L111.0,211.9L111.1,211.4L111.3,211.2L111.4,209.3L111.5,210.3L111.7,212.9L111.8,209.8L112.0,210.3L112.1,210.8L112.2,211.8L112.4,211.3L112.5,211.9L112.7,210.0L112.8,211.9L112.9,211.6L113.1,209.5L113.2,212.8L113.4,213.6L113.5,210.6L113.6,211.2L113.8,212.3L113.9,209.3L114.1,208.7L114.2,209.3L114.3,210.1L114.5,210.0L114.6,211.1L114.8,211.0L114.9,209.5L115.0,211.2L115.2,212.5L115.3,211.8L115.5,211.4L115.6,210.5L115.7,211.4L115.9,209.5L116.0,211.2L116.2,210.5L116.3,211.7L116.4,211.1L116.6,209.6L116.7,210.6L116.9,211.5L117.0,209.0L117.1,209.8L117.3,209.2L117.4,208.4L117.6,211.0L117.7,211.3L117.8,210.6L118.0,210.0L118.1,209.8L118.3,210.2L118.4,209.0L118.5,210.6L118.7,210.6L118.8,210.4L119.0,209.0L119.1,209.5L119.2,209.3L119.4,211.2L119.5,209.3L119.7,207.1L119.8,209.0L119.9,210.5L120.1,209.0L120.2,208.7L120.4,207.1L120.5,204.5L120.6,203.8L120.8,203.6L120.9,203.8L121.1,203.2L121.2,202.4L121.3,200.2L121.5,201.0L121.6,199.3L121.8,198.8L121.9,200.8L122.0,199.8L122.2,198.5L122.3,201.0L122.5,203.2L122.6,200.9L122.7,204.5L122.9,205.5L123.0,204.8L123.2,205.2L123.3,206.5L123.4,206.8L123.6,208.9L123.7,208.1L123.9,206.4L124.0,207.0L124.1,208.4L124.3,209.7L124.4,208.2L124.6,208.1L124.7,209.8L124.8,207.7L125.0,207.3L125.1,206.5L125.3,207.4L125.4,210.3L125.5,206.6L125.7,208.1L125.8,206.7L126.0,208.4L126.1,209.3L126.2,208.2L126.4,209.4L126.5,209.4L126.7,209.1L126.8,210.4L126.9,209.6L127.1,208.4L127.2,207.9L127.4,207.7L127.5,209.0L127.6,208.3L127.8,211.4L127.9,210.5L128.1,208.2L128.2,207.9L128.3,210.0L128.5,206.1L128.6,207.1L128.8,208.2L128.9,205.6L129.0,205.3L129.2,204.7L129.3,205.2L129.5,204.2L129.6,204.4L129.7,204.5L129.9,204.3L130.0,205.8L130.2,204.2L130.3,204.1L130.4,204.1L130.6,204.8L130.7,206.6L130.9,208.4L131.0,207.8L131.1,207.0L131.3,206.7L131.4,207.1L131.6,207.2L131.7,206.7L131.8,205.7L132.0,206.2L132.1,207.4L132.3,203.7L132.4,204.9L132.5,202.1L132.7,203.1L132.8,201.0L133.0,198.9L133.1,200.9L133.2,203.0L133.4,201.9L133.5,204.0L133.7,203.6L133.8,202.3L133.9,205.7L134.1,205.6L134.2,204.9L134.4,207.5L134.5,207.3L134.6,206.6L134.8,208.3L134.9,206.5L135.1,208.3L135.2,206.5L135.3,207.8L135.5,206.3L135.6,208.7L135.8,207.6L135.9,209.0L136.0,206.7L136.2,206.8L136.3,208.0L136.5,204.0L136.6,205.5L136.7,207.3L136.9,206.6L137.0,207.0L137.2,205.5L137.3,206.6L137.4,205.5L137.6,205.0L137.7,205.1L137.9,206.3L138.0,206.4L138.1,206.4L138.3,203.5L138.4,205.4L138.6,206.8L138.7,207.6L138.8,206.9L139.0,206.5L139.1,204.8L139.3,209.1L139.4,206.0L139.5,208.6L139.7,208.4L139.8,207.1L140.0,206.1L140.1,207.0L140.2,205.5L140.4,207.1L140.5,207.0L140.7,207.6L140.8,208.1L140.9,208.8L141.1,206.6L141.2,208.2L141.4,206.3L141.5,206.0L141.6,206.3L141.8,205.9L141.9,207.8L142.1,208.0L142.2,208.2L142.3,206.9L142.5,207.0L142.6,205.7L142.8,205.1L142.9,206.7L143.0,206.3L143.2,204.9L143.3,206.4L143.5,203.9L143.6,205.3L143.7,204.7L143.9,204.4L144.0,203.3L144.2,204.4L144.3,203.2L144.4,202.8L144.6,200.6L144.7,197.5L144.9,197.0L145.0,194.4L145.1,194.4L145.3,193.7L145.4,192.0L145.6,191.0L145.7,191.7L145.8,193.3L146.0,193.1L146.1,196.3L146.3,198.0L146.4,198.8L146.5,200.1L146.7,201.6L146.8,201.7L147.0,202.2L147.1,204.2L147.2,204.0L147.4,205.7L147.5,202.9L147.7,202.2L147.8,205.2L147.9,205.2L148.1,203.6L148.2,203.0L148.4,204.5L148.5,202.7L148.6,204.1L148.8,202.2L148.9,204.1L149.1,202.0L149.2,204.0L149.3,205.7L149.5,203.9L149.6,205.1L149.8,203.5L149.9,203.4L150.0,203.0L150.2,205.4L150.3,204.0L150.5,205.5L150.6,202.4L150.7,203.1L150.9,203.0L151.0,203.9L151.2,204.1L151.3,200.9L151.4,199.8L151.6,198.8L151.7,201.1L151.9,199.1L152.0,197.4L152.1,197.1L152.3,194.1L152.4,194.5L152.6,197.3L152.7,197.1L152.8,197.3L153.0,196.9L153.1,199.2L153.3,201.3L153.4,199.1L153.5,200.9L153.7,200.8L153.8,202.0L154.0,201.8L154.1,201.7L154.2,201.3L154.4,202.1L154.5,201.5L154.7,201.8L154.8,201.7L154.9,202.3L155.1,200.6L155.2,200.6L155.4,201.8L155.5,200.4L155.6,200.5L155.8,201.7L155.9,201.5L156.1,201.4L156.2,202.0L156.3,200.4L156.5,202.4L156.6,203.6L156.8,203.0L156.9,201.1L157.0,203.3L157.2,202.3L157.3,203.1L157.5,203.2L157.6,202.1L157.7,204.8L157.9,203.4L158.0,204.2L158.2,204.2L158.3,204.7L158.4,204.6L158.6,201.7L158.7,202.9L158.9,200.2L159.0,201.1L159.1,201.7L159.3,201.2L159.4,200.8L159.6,198.3L159.7,198.2L159.8,197.3L160.0,198.2L160.1,198.6L160.3,197.0L160.4,202.0L160.5,199.0L160.7,199.2L160.8,201.0L161.0,202.1L161.1,202.5L161.2,201.5L161.4,204.0L161.5,203.0L161.7,204.9L161.8,205.0L161.9,202.5L162.1,202.9L162.2,203.0L162.4,204.4L162.5,204.1L162.6,204.5L162.8,203.5L162.9,204.7L163.1,205.5L163.2,202.7L163.3,204.0L163.5,204.5L163.6,204.0L163.8,204.1L163.9,205.8L164.0,205.2L164.2,204.8L164.3,203.0L164.5,205.7L164.6,203.6L164.7,202.4L164.9,202.6L165.0,202.3L165.2,204.7L165.3,202.6L165.4,202.3L165.6,199.7L165.7,202.3L165.9,199.7L166.0,199.2L166.1,199.9L166.3,196.8L166.4,196.5L166.6,193.8L166.7,186.6L166.8,183.0L167.0,175.6L167.1,171.3L167.3,167.7L167.4,163.6L167.5,168.6L167.7,171.1L167.8,176.2L168.0,183.3L168.1,189.3L168.2,191.1L168.4,195.5L168.5,196.0L168.7,200.2L168.8,200.1L168.9,200.1L169.1,201.7L169.2,199.2L169.4,199.9L169.5,201.7L169.6,199.1L169.8,199.9L169.9,198.0L170.1,196.5L170.2,196.4L170.3,196.3L170.5,196.0L170.6,195.7L170.8,196.3L170.9,196.4L171.0,198.7L171.2,199.6L171.3,200.9L171.5,199.2L171.6,202.7L171.7,202.4L171.9,201.5L172.0,203.4L172.2,204.5L172.3,204.2L172.4,204.6L172.6,204.8L172.7,204.6L172.9,203.8L173.0,201.5L173.1,203.0L173.3,204.3L173.4,203.4L173.6,204.6L173.7,204.9L173.8,204.4L174.0,206.0L174.1,203.1L174.3,205.0L174.4,203.8L174.5,203.6L174.7,205.2L174.8,204.3L175.0,205.8L175.1,203.7L175.2,204.8L175.4,203.9L175.5,204.6L175.7,204.4L175.8,203.3L175.9,205.1L176.1,203.3L176.2,203.5L176.4,205.3L176.5,205.2L176.6,204.9L176.8,204.4L176.9,206.3L177.1,202.6L177.2,203.2L177.3,203.0L177.5,205.2L177.6,204.5L177.8,205.2L177.9,204.8L178.0,203.6L178.2,203.1L178.3,202.9L178.5,206.3L178.6,205.0L178.7,204.4L178.9,203.2L179.0,203.2L179.2,202.7L179.3,202.3L179.4,199.6L179.6,201.4L179.7,200.5L179.9,200.6L180.0,200.0L180.1,199.9L180.3,197.9L180.4,197.9L180.6,193.3L180.7,193.7L180.8,195.5L181.0,191.6L181.1,192.1L181.3,192.8L181.4,191.3L181.5,193.8L181.7,192.4L181.8,192.9L182.0,194.7L182.1,195.4L182.2,197.9L182.4,198.2L182.5,199.4L182.7,198.3L182.8,202.4L182.9,199.7L183.1,199.7L183.2,199.9L183.4,199.0L183.5,198.4L183.6,198.5L183.8,199.1L183.9,198.5L184.1,198.7L184.2,197.4L184.3,197.8L184.5,201.4L184.6,199.6L184.8,200.9L184.9,201.6L185.0,203.0L185.2,200.7L185.3,202.1L185.5,202.5L185.6,202.9L185.7,200.9L185.9,203.4L186.0,200.9L186.2,204.3L186.3,204.6L186.4,204.6L186.6,202.7L186.7,204.8L186.9,203.1L187.0,202.8L187.1,203.1L187.3,203.4L187.4,204.3L187.6,204.9L187.7,201.8L187.8,203.8L188.0,205.2L188.1,204.2L188.3,204.4L188.4,202.1L188.5,204.6L188.7,201.9L188.8,203.7L189.0,204.9L189.1,205.5L189.2,204.1L189.4,204.2L189.5,202.6L189.7,202.9L189.8,204.8L189.9,203.4L190.1,203.4L190.2,201.9L190.4,203.8L190.5,204.4L190.6,202.6L190.8,203.0L190.9,205.1L191.1,203.6L191.2,203.3L191.3,202.2L191.5,202.8L191.6,203.3L191.8,204.9L191.9,202.7L192.0,205.3L192.2,202.6L192.3,203.5L192.5,204.6L192.6,203.5L192.7,203.1L192.9,203.8L193.0,204.4L193.2,202.3L193.3,203.5L193.4,203.8L193.6,203.5L193.7,204.7L193.9,203.3L194.0,203.7L194.1,204.0L194.3,204.8L194.4,203.9L194.6,205.5L194.7,202.9L194.8,204.9L195.0,202.6L195.1,203.1L195.3,203.5L195.4,204.9L195.5,203.4L195.7,202.0L195.8,203.6L196.0,202.1L196.1,201.0L196.2,202.1L196.4,201.2L196.5,201.8L196.7,200.1L196.8,200.8L196.9,200.8L197.1,200.5L197.2,199.9L197.4,198.5L197.5,200.0L197.6,198.7L197.8,198.4L197.9,196.8L198.1,196.4L198.2,194.3L198.3,193.8L198.5,193.3L198.6,191.0L198.8,190.0L198.9,187.4L199.0,186.4L199.2,182.4L199.3,178.6L199.5,178.7L199.6,175.8L199.7,172.8L199.9,172.8L200.0,171.1L200.2,170.5L200.3,169.8L200.4,171.1L200.6,172.2L200.7,175.4L200.9,174.8L201.0,177.6L201.1,180.0L201.3,179.8L201.4,182.0L201.6,187.5L201.7,185.0L201.8,188.8L202.0,188.5L202.1,189.7L202.3,189.0L202.4,190.5L202.5,192.5L202.7,190.0L202.8,191.6L203.0,191.0L203.1,191.8L203.2,188.0L203.4,188.5L203.5,186.6L203.7,183.7L203.8,180.4L203.9,181.9L204.1,177.0L204.2,176.1L204.4,176.0L204.5,175.0L204.6,172.2L204.8,172.9L204.9,172.5L205.1,174.3L205.2,176.8L205.3,173.9L205.5,178.3L205.6,176.3L205.8,181.2L205.9,182.2L206.0,187.4L206.2,187.2L206.3,187.9L206.5,189.9L206.6,191.1L206.7,193.3L206.9,194.1L207.0,196.0L207.2,197.8L207.3,197.8L207.4,196.4L207.6,196.3L207.7,197.6L207.9,199.8L208.0,198.7L208.1,198.2L208.3,199.3L208.4,197.8L208.6,197.9L208.7,199.5L208.8,198.5L209.0,198.3L209.1,199.0L209.3,198.2L209.4,197.9L209.5,198.0L209.7,199.1L209.8,198.4L210.0,196.9L210.1,197.9L210.2,199.3L210.4,200.5L210.5,197.7L210.7,199.3L210.8,198.8L210.9,199.8L211.1,199.6L211.2,201.0L211.4,200.1L211.5,199.3L211.6,199.6L211.8,200.9L211.9,201.3L212.1,203.6L212.2,202.9L212.3,199.9L212.5,201.5L212.6,199.7L212.8,199.4L212.9,201.9L213.0,201.9L213.2,200.3L213.3,203.0L213.5,200.0L213.6,199.4L213.7,201.0L213.9,200.2L214.0,199.2L214.2,198.8L214.3,198.6L214.4,197.8L214.6,197.1L214.7,194.7L214.9,194.3L215.0,195.2L215.1,192.7L215.3,192.9L215.4,192.3L215.6,189.7L215.7,189.4L215.8,190.8L216.0,188.7L216.1,189.6L216.3,189.7L216.4,189.0L216.5,188.5L216.7,188.4L216.8,188.8L217.0,190.9L217.1,191.5L217.2,191.1L217.4,192.4L217.5,190.8L217.7,192.1L217.8,190.4L217.9,189.2L218.1,188.0L218.2,186.4L218.4,187.1L218.5,180.9L218.6,180.5L218.8,179.6L218.9,177.1L219.1,174.9L219.2,176.2L219.3,173.3L219.5,173.6L219.6,176.8L219.8,176.6L219.9,177.9L220.0,183.6L220.2,185.8L220.3,187.9L220.5,188.6L220.6,191.3L220.7,192.0L220.9,196.2L221.0,196.3L221.2,197.4L221.3,195.4L221.4,198.8L221.6,199.9L221.7,199.8L221.9,199.8L222.0,199.1L222.1,198.8L222.3,199.8L222.4,199.6L222.6,199.5L222.7,198.7L222.8,200.3L223.0,197.1L223.1,198.3L223.3,197.5L223.4,198.9L223.5,199.2L223.7,199.0L223.8,198.5L224.0,196.4L224.1,199.9L224.2,198.4L224.4,197.8L224.5,198.0L224.7,197.7L224.8,198.8L224.9,199.3L225.1,199.0L225.2,197.0L225.4,199.8L225.5,200.6L225.6,201.0L225.8,200.5L225.9,201.2L226.1,201.8L226.2,200.5L226.3,202.7L226.5,199.3L226.6,200.1L226.8,200.7L226.9,199.2L227.0,200.6L227.2,202.6L227.3,202.6L227.5,201.4L227.6,202.9L227.7,201.2L227.9,200.2L228.0,200.9L228.2,200.4L228.3,201.3L228.4,198.4L228.6,200.8L228.7,199.2L228.9,200.4L229.0,198.1L229.1,199.3L229.3,200.0L229.4,200.7L229.6,198.9L229.7,202.2L229.8,201.5L230.0,200.6L230.1,202.8L230.3,202.0L230.4,203.1L230.5,204.7L230.7,203.5L230.8,202.4L231.0,202.5L231.1,203.5L231.2,203.2L231.4,202.2L231.5,202.4L231.7,203.7L231.8,205.4L231.9,200.2L232.1,203.8L232.2,202.5L232.4,203.4L232.5,203.7L232.6,203.3L232.8,202.1L232.9,201.7L233.1,201.6L233.2,204.8L233.3,203.7L233.5,203.4L233.6,203.9L233.8,202.8L233.9,204.4L234.0,205.3L234.2,205.1L234.3,202.6L234.5,205.5L234.6,203.0L234.7,201.4L234.9,202.3L235.0,202.8L235.2,203.5L235.3,202.5L235.4,201.7L235.6,203.1L235.7,205.0L235.9,202.5L236.0,203.8L236.1,203.1L236.3,205.8L236.4,201.2L236.6,204.5L236.7,202.2L236.8,202.9L237.0,203.4L237.1,206.6L237.3,202.7L237.4,201.5L237.5,204.8L237.7,202.4L237.8,203.2L238.0,203.3L238.1,203.3L238.2,203.2L238.4,203.6L238.5,203.7L238.7,204.2L238.8,202.9L238.9,202.4L239.1,202.1L239.2,203.6L239.4,202.8L239.5,203.4L239.6,203.5L239.8,204.5L239.9,202.9L240.1,203.2L240.2,201.3L240.3,201.3L240.5,202.0L240.6,200.6L240.8,202.3L240.9,200.2L241.0,201.7L241.2,198.7L241.3,199.9L241.5,200.5L241.6,200.2L241.7,198.2L241.9,200.0L242.0,200.8L242.2,200.1L242.3,198.2L242.4,198.2L242.6,197.4L242.7,199.3L242.9,200.0L243.0,198.0L243.1,196.7L243.3,199.0L243.4,199.6L243.6,196.2L243.7,199.4L243.8,201.6L244.0,200.3L244.1,200.2L244.3,200.4L244.4,201.4L244.5,199.5L244.7,199.9L244.8,201.4L245.0,200.7L245.1,201.8L245.2,199.6L245.4,202.4L245.5,202.7L245.7,201.9L245.8,202.1L245.9,203.7L246.1,201.2L246.2,201.5L246.4,201.4L246.5,202.2L246.6,201.5L246.8,202.4L246.9,201.8L247.1,200.8L247.2,200.4L247.3,203.0L247.5,201.7L247.6,201.4L247.8,201.4L247.9,201.0L248.0,201.1L248.2,200.3L248.3,198.3L248.5,197.0L248.6,195.6L248.7,194.4L248.9,195.8L249.0,191.5L249.2,188.8L249.3,188.5L249.4,187.0L249.6,186.6L249.7,184.1L249.9,185.1L250.0,185.1L250.1,187.0L250.3,189.1L250.4,191.2L250.6,191.3L250.7,190.2L250.8,192.6L251.0,194.8L251.1,197.9L251.3,197.6L251.4,199.0L251.5,198.5L251.7,200.1L251.8,200.8L252.0,200.0L252.1,201.6L252.2,202.1L252.4,201.0L252.5,202.4L252.7,203.3L252.8,202.0L252.9,201.9L253.1,201.3L253.2,201.1L253.4,201.8L253.5,201.2L253.6,201.2L253.8,200.5L253.9,199.5L254.1,199.8L254.2,200.8L254.3,199.1L254.5,199.4L254.6,201.2L254.8,200.2L254.9,197.7L255.0,198.4L255.2,196.6L255.3,198.2L255.5,195.1L255.6,194.7L255.7,195.1L255.9,192.0L256.0,193.3L256.2,190.4L256.3,190.9L256.4,189.7L256.6,189.4L256.7,189.5L256.9,189.7L257.0,188.9L257.1,191.6L257.3,192.1L257.4,193.4L257.6,194.6L257.7,193.0L257.8,196.5L258.0,197.1L258.1,196.1L258.3,198.2L258.4,199.3L258.5,197.9L258.7,197.8L258.8,199.5L259.0,203.1L259.1,201.1L259.2,199.7L259.4,201.1L259.5,200.8L259.7,201.5L259.8,202.2L259.9,199.6L260.1,203.1L260.2,204.4L260.4,203.1L260.5,203.3L260.6,204.8L260.8,202.3L260.9,202.3L261.1,202.1L261.2,203.4L261.3,203.9L261.5,203.4L261.6,204.0L261.8,204.4L261.9,203.8L262.0,202.6L262.2,203.1L262.3,204.5L262.5,202.0L262.6,202.6L262.7,202.7L262.9,203.0L263.0,202.3L263.2,202.1L263.3,206.2L263.4,204.7L263.6,203.1L263.7,203.6L263.9,204.3L264.0,203.2L264.1,204.1L264.3,202.7L264.4,203.1L264.6,203.5L264.7,203.2L264.8,201.0L265.0,203.5L265.1,203.5L265.3,203.7L265.4,202.0L265.5,203.2L265.7,203.1L265.8,201.2L266.0,200.6L266.1,203.3L266.2,202.0L266.4,204.0L266.5,205.0L266.7,202.1L266.8,201.9L266.9,202.5L267.1,203.2L267.2,201.6L267.4,204.0L267.5,204.0L267.6,203.7L267.8,202.5L267.9,203.7L268.1,203.7L268.2,201.8L268.3,205.0L268.5,202.5L268.6,203.2L268.8,202.4L268.9,203.3L269.0,204.3L269.2,202.2L269.3,201.2L269.5,202.5L269.6,201.4L269.7,202.0L269.9,202.7L270.0,203.0L270.2,204.3L270.3,201.7L270.4,203.2L270.6,202.3L270.7,204.3L270.9,205.6L271.0,203.2L271.1,204.5L271.3,202.4L271.4,201.1L271.6,201.5L271.7,201.1L271.8,201.7L272.0,202.4L272.1,203.9L272.3,203.7L272.4,203.2L272.5,202.3L272.7,202.2L272.8,202.9L273.0,202.6L273.1,202.4L273.2,202.4L273.4,201.4L273.5,199.3L273.7,199.9L273.8,200.1L273.9,202.2L274.1,199.8L274.2,200.6L274.4,201.1L274.5,200.2L274.6,199.3L274.8,199.5L274.9,198.9L275.1,200.5L275.2,201.8L275.3,201.1L275.5,201.4L275.6,201.7L275.8,203.2L275.9,200.7L276.0,201.7L276.2,202.4L276.3,203.1L276.5,199.6L276.6,201.6L276.7,201.9L276.9,201.0L277.0,203.0L277.2,202.3L277.3,201.5L277.4,200.3L277.6,201.1L277.7,201.3L277.9,203.0L278.0,201.4L278.1,200.7L278.3,201.3L278.4,202.0L278.6,204.3L278.7,205.0L278.8,202.0L279.0,203.5L279.1,204.1L279.3,204.0L279.4,202.6L279.5,201.4L279.7,202.1L279.8,200.8L280.0,203.0L280.1,203.8L280.2,201.0L280.4,203.2L280.5,203.5L280.7,204.4L280.8,204.9L280.9,204.3L281.1,202.7L281.2,203.0L281.4,204.5L281.5,203.0L281.6,203.7L281.8,205.3L281.9,203.9L282.1,202.2L282.2,203.1L282.3,204.0L282.5,202.9L282.6,204.1L282.8,204.1L282.9,201.9L283.0,202.0L283.2,202.4L283.3,200.7L283.5,202.0L283.6,200.9L283.7,201.3L283.9,199.5L284.0,198.6L284.2,200.8L284.3,197.4L284.4,197.6L284.6,196.9L284.7,197.3L284.9,196.9L285.0,198.0L285.1,197.7L285.3,198.5L285.4,199.9L285.6,200.9L285.7,201.3L285.8,200.8L286.0,202.3L286.1,202.0L286.3,202.3L286.4,201.1L286.5,203.3L286.7,202.9L286.8,204.9L287.0,203.8L287.1,202.1L287.2,202.0L287.4,204.3L287.5,202.4L287.7,204.0L287.8,202.8L287.9,205.2L288.1,203.2L288.2,204.9L288.4,204.6L288.5,202.5L288.6,202.9L288.8,204.9L288.9,203.5L289.1,202.5L289.2,204.6L289.3,205.8L289.5,203.2L289.6,204.6L289.8,203.1L289.9,204.8L290.0,203.0L290.2,204.9L290.3,204.0L290.5,203.2L290.6,203.6L290.7,202.8L290.9,201.8L291.0,201.9L291.2,202.9L291.3,202.0L291.4,203.5L291.6,203.7L291.7,203.7L291.9,202.5L292.0,203.0L292.1,203.1L292.3,204.3L292.4,202.2L292.6,202.9L292.7,203.0L292.8,203.1L293.0,202.5L293.1,202.6L293.3,204.2L293.4,202.3L293.5,203.8L293.7,204.9L293.8,204.1L294.0,201.1L294.1,203.8L294.2,203.5L294.4,203.6L294.5,201.2L294.7,203.4L294.8,201.6L294.9,203.9L295.1,203.6L295.2,205.1L295.4,202.2L295.5,201.0L295.6,203.6L295.8,203.6L295.9,202.2L296.1,204.0L296.2,203.2L296.3,201.1L296.5,202.2L296.6,202.3L296.8,202.7L296.9,203.0L297.0,201.8L297.2,202.2L297.3,202.9L297.5,201.8L297.6,201.5L297.7,201.1L297.9,201.0L298.0,198.6L298.2,200.1L298.3,198.3L298.4,198.8L298.6,196.1L298.7,197.7L298.9,196.1L299.0,193.8L299.1,195.0L299.3,193.5L299.4,195.5L299.6,194.2L299.7,192.8L299.8,194.0L300.0,194.0L300.1,196.0L300.3,195.6L300.4,196.4L300.5,195.2L300.7,197.9L300.8,199.7L301.0,198.6L301.1,198.1L301.2,198.6L301.4,197.6L301.5,199.1L301.7,197.8L301.8,199.1L301.9,198.6L302.1,198.0L302.2,199.2L302.4,196.9L302.5,198.0L302.6,196.5L302.8,199.5L302.9,199.9L303.1,198.8L303.2,200.1L303.3,199.0L303.5,199.3L303.6,198.4L303.8,198.3L303.9,199.6L304.0,199.4L304.2,199.8L304.3,201.3L304.5,200.5L304.6,199.7L304.7,201.3L304.9,200.9L305.0,201.4L305.2,200.6L305.3,202.7L305.4,203.5L305.6,200.8L305.7,202.7L305.9,202.7L306.0,201.1L306.1,202.4L306.3,203.7L306.4,203.1L306.6,204.1L306.7,201.2L306.8,201.5L307.0,202.6L307.1,202.8L307.3,202.7L307.4,202.8L307.5,202.8L307.7,202.5L307.8,203.5L308.0,200.2L308.1,204.6L308.2,202.4L308.4,201.3L308.5,203.4L308.7,201.5L308.8,203.3L308.9,202.7L309.1,204.1L309.2,204.2L309.4,204.9L309.5,202.9L309.6,203.1L309.8,203.5L309.9,202.0L310.1,204.1L310.2,203.7L310.3,202.1L310.5,204.7L310.6,204.8L310.8,202.1L310.9,204.1L311.0,204.5L311.2,204.0L311.3,202.3L311.5,201.8L311.6,202.9L311.7,202.5L311.9,202.8L312.0,202.9L312.2,203.6L312.3,202.3L312.4,202.8L312.6,206.1L312.7,203.0L312.9,203.7L313.0,203.1L313.1,203.1L313.3,201.8L313.4,203.2L313.6,202.5L313.7,203.6L313.8,204.6L314.0,202.9L314.1,203.3L314.3,201.6L314.4,202.9L314.5,204.2L314.7,202.6L314.8,202.1L315.0,203.3L315.1,203.0L315.2,202.9L315.4,202.9L315.5,205.2L315.7,202.1L315.8,202.6L315.9,202.6L316.1,204.4L316.2,202.9L316.4,204.3L316.5,203.1L316.6,203.1L316.8,201.7L316.9,204.3L317.1,203.4L317.2,203.2L317.3,202.6L317.5,202.2L317.6,201.5L317.8,204.1L317.9,203.4L318.0,202.9L318.2,202.6L318.3,203.6L318.5,203.3L318.6,205.1L318.7,204.1L318.9,202.6L319.0,202.3L319.2,203.4L319.3,202.7L319.4,203.9L319.6,204.3L319.7,204.6L319.9,204.3L320.0,203.7L320.1,204.5L320.3,202.8L320.4,203.4L320.6,204.5L320.7,203.6L320.8,202.1L321.0,202.3L321.1,201.7L321.3,205.1L321.4,201.7L321.5,202.7L321.7,204.4L321.8,203.5L322.0,203.8L322.1,201.9L322.2,203.2L322.4,205.6L322.5,202.2L322.7,202.6L322.8,202.0L322.9,201.9L323.1,202.3L323.2,203.1L323.4,200.9L323.5,200.0L323.6,201.5L323.8,201.6L323.9,202.6L324.1,201.5L324.2,199.9L324.3,200.7L324.5,200.9L324.6,199.8L324.8,198.7L324.9,199.3L325.0,197.9L325.2,195.5L325.3,198.4L325.5,194.8L325.6,195.5L325.7,195.0L325.9,194.6L326.0,194.3L326.2,192.9L326.3,194.8L326.4,194.1L326.6,193.9L326.7,195.3L326.9,195.6L327.0,196.3L327.1,197.3L327.3,196.6L327.4,194.9L327.6,197.2L327.7,197.7L327.8,198.4L328.0,198.1L328.1,198.4L328.3,200.5L328.4,200.9L328.5,199.0L328.7,201.5L328.8,201.0L329.0,201.0L329.1,202.2L329.2,201.5L329.4,201.1L329.5,202.0L329.7,200.0L329.8,201.4L329.9,201.6L330.1,200.9L330.2,202.5L330.4,202.5L330.5,201.6L330.6,202.4L330.8,203.2L330.9,203.7L331.1,202.1L331.2,203.3L331.3,204.1L331.5,203.0L331.6,202.0L331.8,202.0L331.9,202.4L332.0,201.5L332.2,204.2L332.3,201.7L332.5,202.5L332.6,202.2L332.7,202.4L332.9,201.1L333.0,200.0L333.2,202.8L333.3,200.8L333.4,200.9L333.6,200.5L333.7,201.4L333.9,200.4L334.0,200.4L334.1,199.4L334.3,198.2L334.4,197.7L334.6,196.1L334.7,194.2L334.8,195.4L335.0,194.2L335.1,197.6L335.3,196.3L335.4,196.1L335.5,194.8L335.7,198.3L335.8,195.2L336.0,196.6L336.1,197.6L336.2,198.2L336.4,199.9L336.5,200.4L336.7,202.6L336.8,202.1L336.9,202.7L337.1,202.3L337.2,201.9L337.4,201.8L337.5,201.1L337.6,201.7L337.8,202.4L337.9,203.6L338.1,201.0L338.2,201.4L338.3,203.2L338.5,202.1L338.6,203.5L338.8,202.8L338.9,202.6L339.0,202.2L339.2,203.4L339.3,202.8L339.5,203.0L339.6,203.0L339.7,203.7L339.9,203.6L340.0,201.7L340.2,203.4L340.3,203.8L340.4,204.3L340.6,204.0L340.7,203.4L340.9,202.1L341.0,202.5L341.1,204.1L341.3,202.4L341.4,204.3L341.6,204.2L341.7,201.7L341.8,203.5L342.0,203.0L342.1,205.1L342.3,203.9L342.4,202.7L342.5,203.7L342.7,202.5L342.8,203.2L343.0,203.5L343.1,203.1L343.2,203.1L343.4,202.0L343.5,200.8L343.7,202.7L343.8,201.9L343.9,202.2L344.1,205.1L344.2,204.2L344.4,202.7L344.5,201.2L344.6,201.3L344.8,202.9L344.9,203.6L345.1,202.3L345.2,203.1L345.3,203.4L345.5,204.4L345.6,201.4L345.8,203.3L345.9,203.8L346.0,204.2L346.2,203.6L346.3,202.1L346.5,202.5L346.6,201.7L346.7,203.6L346.9,203.6L347.0,203.7L347.2,202.1L347.3,201.9L347.4,204.6L347.6,203.2L347.7,204.8L347.9,203.3L348.0,201.3L348.1,203.8L348.3,204.1L348.4,202.2L348.6,200.7L348.7,203.0L348.8,202.2L349.0,202.7L349.1,199.7L349.3,202.8L349.4,199.7L349.5,201.3L349.7,203.2L349.8,200.6L350.0,200.8L350.1,202.4L350.2,204.4L350.4,204.5L350.5,202.5L350.7,204.2L350.8,203.9L350.9,203.3L351.1,203.4L351.2,202.6L351.4,204.2L351.5,204.3L351.6,206.3L351.8,204.4L351.9,200.9L352.1,202.2L352.2,203.6L352.3,203.2L352.5,201.3L352.6,202.9L352.8,202.9L352.9,203.3L353.0,203.6L353.2,204.6L353.3,205.1L353.5,204.2L353.6,202.4L353.7,202.5L353.9,202.7L354.0,203.3L354.2,202.8L354.3,203.1L354.4,202.7L354.6,204.7L354.7,204.7L354.9,204.7L355.0,203.8L355.1,204.1L355.3,202.7L355.4,202.6L355.6,203.1L355.7,204.3L355.8,203.7L356.0,202.5L356.1,203.4L356.3,203.8L356.4,203.4L356.5,202.5L356.7,202.9L356.8,202.1L357.0,202.2L357.1,202.2L357.2,203.0L357.4,204.2L357.5,203.9L357.7,203.1L357.8,201.8L357.9,201.9L358.1,202.0L358.2,203.6L358.4,199.5L358.5,202.4L358.6,200.0L358.8,202.0L358.9,203.2L359.1,200.9L359.2,199.4L359.3,203.1L359.5,203.1L359.6,201.9L359.8,202.5L359.9,200.1L360.0,201.9L360.2,202.1L360.3,200.9L360.5,200.3L360.6,201.2L360.7,200.8L360.9,198.8L361.0,201.0L361.2,200.3L361.3,199.7L361.4,201.1L361.6,200.7L361.7,200.6L361.9,199.5L362.0,201.0L362.1,199.5L362.3,200.5L362.4,199.1L362.6,199.4L362.7,201.7L362.8,201.2L363.0,201.4L363.1,202.2L363.3,201.8L363.4,200.8L363.5,201.7L363.7,201.5L363.8,201.1L364.0,201.4L364.1,201.1L364.2,200.2L364.4,200.3L364.5,200.7L364.7,201.9L364.8,198.6L364.9,199.7L365.1,197.5L365.2,200.0L365.4,197.9L365.5,198.3L365.6,199.2L365.8,198.9L365.9,196.2L366.1,198.1L366.2,197.3L366.3,198.3L366.5,198.1L366.6,198.9L366.8,198.9L366.9,198.7L367.0,200.3L367.2,197.6L367.3,198.9L367.5,198.4L367.6,199.3L367.7,199.1L367.9,199.1L368.0,198.7L368.2,198.8L368.3,197.5L368.4,199.0L368.6,199.2L368.7,198.1L368.9,197.9L369.0,197.9L369.1,200.2L369.3,198.6L369.4,198.9L369.6,198.2L369.7,197.7L369.8,197.4L370.0,200.2L370.1,197.0L370.3,199.2L370.4,199.2L370.5,199.5L370.7,198.6L370.8,199.0L371.0,201.5L371.1,200.0L371.2,201.8L371.4,201.8L371.5,201.9L371.7,202.3L371.8,200.5L371.9,201.3L372.1,202.7L372.2,201.0L372.4,204.2L372.5,201.8L372.6,202.2L372.8,201.2L372.9,202.9L373.1,201.8L373.2,202.3L373.3,201.3L373.5,203.6L373.6,200.7L373.8,202.7L373.9,202.3L374.0,202.3L374.2,200.5L374.3,202.2L374.5,201.8L374.6,201.0L374.7,201.0L374.9,200.2L375.0,200.7L375.2,198.9L375.3,200.0L375.4,199.9L375.6,198.2L375.7,196.9L375.9,199.6L376.0,199.8L376.1,201.5L376.3,200.6L376.4,200.4L376.6,200.0L376.7,201.5L376.8,201.4L377.0,200.9L377.1,202.4L377.3,203.9L377.4,203.4L377.5,202.6L377.7,204.3L377.8,203.2L378.0,203.1L378.1,205.3L378.2,204.5L378.4,206.4L378.5,205.6L378.7,204.4L378.8,205.5L378.9,206.5L379.1,205.2L379.2,204.2L379.4,204.5L379.5,204.4L379.6,203.8L379.8,203.7L379.9,205.3L380.1,205.8L380.2,204.3L380.3,205.5L380.5,205.5L380.6,206.1L380.8,204.3L380.9,203.9L381.0,204.5L381.2,204.2L381.3,204.4L381.5,205.6L381.6,203.7L381.7,204.2L381.9,202.8L382.0,203.7L382.2,202.8L382.3,202.7L382.4,203.0L382.6,202.7L382.7,203.5L382.9,203.8L383.0,201.4L383.1,203.4L383.3,199.6L383.4,201.6L383.6,201.2L383.7,199.1L383.8,199.1L384.0,198.0L384.1,199.1L384.3,194.8L384.4,196.8L384.5,195.7L384.7,197.8L384.8,199.1L385.0,199.1L385.1,199.1L385.2,199.4L385.4,198.9L385.5,201.5L385.7,201.6L385.8,201.0L385.9,201.2L386.1,202.5L386.2,204.5L386.4,205.0L386.5,205.6L386.6,203.3L386.8,203.9L386.9,205.9L387.1,204.9L387.2,205.4L387.3,203.4L387.5,204.4L387.6,204.8L387.8,204.6L387.9,204.5L388.0,203.1L388.2,206.4L388.3,205.1L388.5,203.4L388.6,206.0L388.7,205.1L388.9,205.5L389.0,204.6L389.2,204.0L389.3,204.0L389.4,205.1L389.6,205.6L389.7,205.3L389.9,205.5L390.0,205.9L390.1,205.0L390.3,205.7L390.4,205.8L390.6,204.9L390.7,204.5L390.8,204.2L391.0,203.7L391.1,203.4L391.3,206.4L391.4,205.2L391.5,204.6L391.7,206.9L391.8,206.4L392.0,205.5L392.1,206.4L392.2,205.2L392.4,205.8L392.5,207.4L392.7,206.7L392.8,205.3L392.9,206.4L393.1,206.9L393.2,205.8L393.4,205.4L393.5,207.6L393.6,205.5L393.8,204.4L393.9,205.6L394.1,207.9L394.2,206.1L394.3,206.5L394.5,203.2L394.6,204.9L394.8,206.7L394.9,205.0L395.0,206.7L395.2,205.7L395.3,205.2L395.5,206.7L395.6,204.4L395.7,204.5L395.9,204.8L396.0,205.0L396.2,202.8L396.3,206.1L396.4,204.9L396.6,204.8L396.7,205.4L396.9,204.4L397.0,206.0L397.1,204.8L397.3,205.6L397.4,204.1L397.6,204.4L397.7,205.1L397.8,203.6L398.0,204.1L398.1,204.8L398.3,206.1L398.4,205.6L398.5,205.8L398.7,205.2L398.8,206.0L399.0,206.5L399.1,205.1L399.2,205.4L399.4,205.5L399.5,202.9L399.7,205.2L399.8,205.7L399.9,206.1L400.1,205.3L400.2,206.6L400.4,205.1L400.5,205.6L400.6,207.4L400.8,204.4L400.9,205.5L401.1,205.5L401.2,205.7L401.3,205.3L401.5,206.7L401.6,205.2L401.8,205.0L401.9,206.9L402.0,205.1L402.2,206.6L402.3,206.2L402.5,205.3L402.6,205.7L402.7,206.0L402.9,206.2L403.0,205.1L403.2,205.3L403.3,204.0L403.4,205.2L403.6,203.5L403.7,205.1L403.9,204.6L404.0,207.3L404.1,206.6L404.3,205.2L404.4,206.1L404.6,205.6L404.7,204.0L404.8,202.5L405.0,206.3L405.1,205.7L405.3,203.2L405.4,205.8L405.5,205.8L405.7,204.0L405.8,205.4L406.0,202.9L406.1,204.3L406.2,204.5L406.4,205.0L406.5,204.7L406.7,204.3L406.8,204.8L406.9,203.7L407.1,205.6L407.2,203.6L407.4,204.6L407.5,203.6L407.6,203.5L407.8,204.4L407.9,204.2L408.1,204.7L408.2,204.4L408.3,202.9L408.5,203.8L408.6,203.5L408.8,202.7L408.9,202.5L409.0,203.9L409.2,203.4L409.3,202.6L409.5,204.3L409.6,204.7L409.7,204.6L409.9,203.3L410.0,204.0L410.2,206.2L410.3,204.1L410.4,204.5L410.6,207.6L410.7,205.5L410.9,204.7L411.0,203.3L411.1,205.5L411.3,203.8L411.4,205.3L411.6,204.4L411.7,203.9L411.8,207.5L412.0,205.6L412.1,206.7L412.3,206.6L412.4,205.0L412.5,205.7L412.7,205.2L412.8,206.7L413.0,206.1L413.1,205.4L413.2,207.4L413.4,206.4L413.5,206.2L413.7,204.9L413.8,205.5L413.9,203.4L414.1,205.3L414.2,203.8L414.4,204.9L414.5,204.5L414.6,205.1L414.8,205.1L414.9,204.5L415.1,204.7L415.2,203.2L415.3,202.9L415.5,205.9L415.6,205.5L415.8,203.5L415.9,207.6L416.0,204.7L416.2,205.9L416.3,205.9L416.5,205.5L416.6,206.0L416.7,203.9L416.9,205.3L417.0,205.3L417.2,205.7L417.3,205.2L417.4,204.8L417.6,204.9L417.7,206.4L417.9,204.4L418.0,205.4L418.1,205.5L418.3,205.3L418.4,205.8L418.6,205.9L418.7,204.8L418.8,205.6L419.0,207.3L419.1,203.9L419.3,204.4L419.4,203.8L419.5,206.4L419.7,202.7L419.8,204.1L420.0,205.3L420.1,203.4L420.2,204.1L420.4,203.2L420.5,202.6L420.7,203.9L420.8,204.5L420.9,203.6L421.1,204.0L421.2,204.9L421.4,205.5L421.5,203.1L421.6,205.1L421.8,203.7L421.9,202.5L422.1,203.5L422.2,204.9L422.3,204.9L422.5,203.7L422.6,206.4L422.8,205.0L422.9,204.4L423.0,203.9L423.2,204.8L423.3,203.9L423.5,205.4L423.6,204.5L423.7,204.8L423.9,204.0L424.0,202.7L424.2,204.9L424.3,203.5L424.4,204.4L424.6,204.6L424.7,203.6L424.9,205.6L425.0,203.2L425.1,206.2L425.3,204.4L425.4,206.0L425.6,206.5L425.7,204.4L425.8,204.5L426.0,206.2L426.1,205.6L426.3,205.5L426.4,203.3L426.5,203.5L426.7,205.7L426.8,206.6L427.0,204.4L427.1,204.3L427.2,205.3L427.4,205.7L427.5,205.6L427.7,204.4L427.8,202.9L427.9,206.3L428.1,204.7L428.2,206.3L428.4,202.9L428.5,205.5L428.6,204.4L428.8,203.9L428.9,206.0L429.1,206.4L429.2,204.5L429.3,205.7L429.5,203.7L429.6,204.3L429.8,204.8L429.9,204.8L430.0,205.8L430.2,203.9L430.3,206.3L430.5,206.3L430.6,205.0L430.7,204.1L430.9,202.6L431.0,204.9L431.2,203.9L431.3,204.6L431.4,203.3L431.6,204.4L431.7,204.2L431.9,204.3L432.0,204.6L432.1,204.5L432.3,204.8L432.4,202.8L432.6,204.4L432.7,203.8L432.8,203.0L433.0,202.6L433.1,205.1L433.3,203.9L433.4,203.3L433.5,204.0L433.7,203.9L433.8,203.4L434.0,202.7L434.1,204.3L434.2,203.9L434.4,203.9L434.5,205.5L434.7,203.0L434.8,203.6L434.9,204.8L435.1,205.4L435.2,205.3L435.4,205.4L435.5,202.4L435.6,205.3L435.8,205.2L435.9,205.7L436.1,204.2L436.2,205.5L436.3,206.1L436.5,206.6L436.6,205.2L436.8,203.8L436.9,205.2L437.0,205.7L437.2,205.6L437.3,207.1L437.5,205.2L437.6,204.5L437.7,204.8L437.9,206.1L438.0,204.5L438.2,204.2L438.3,204.2L438.4,206.5L438.6,205.5L438.7,204.7L438.9,205.9L439.0,205.8L439.1,204.1L439.3,205.9L439.4,205.3L439.6,202.9L439.7,204.0L439.8,205.5L440.0,205.7L440.1,205.0L440.3,204.3L440.4,205.6L440.5,203.1L440.7,205.6L440.8,204.9L441.0,204.9L441.1,204.2L441.2,205.6L441.4,202.3L441.5,203.7L441.7,205.0L441.8,203.4L441.9,205.5L442.1,204.4L442.2,203.1L442.4,205.0L442.5,203.9L442.6,204.8L442.8,203.4L442.9,203.5L443.1,204.6L443.2,204.1L443.3,203.0L443.5,203.1L443.6,204.7L443.8,205.9L443.9,203.2L444.0,204.8L444.2,201.1L444.3,202.8L444.5,204.8L444.6,205.7L444.7,204.2L444.9,204.7L445.0,204.6L445.2,205.5L445.3,203.2L445.4,205.3L445.6,204.2L445.7,204.2L445.9,204.6L446.0,204.4L446.1,203.9L446.3,204.3L446.4,203.6L446.6,206.1L446.7,205.4L446.8,204.0L447.0,206.2L447.1,205.8L447.3,204.9L447.4,203.9L447.5,204.5L447.7,204.5L447.8,205.5L448.0,204.0L448.1,203.8L448.2,206.6L448.4,205.9L448.5,204.8L448.7,203.5L448.8,205.0L448.9,205.8L449.1,205.4L449.2,205.5L449.4,204.9L449.5,206.2L449.6,204.8L449.8,205.0L449.9,204.9L450.1,204.6L450.2,207.1L450.3,203.5L450.5,205.5L450.6,204.3L450.8,204.1L450.9,205.2L451.0,203.4L451.2,205.2L451.3,207.5L451.5,204.7L451.6,205.2L451.7,203.5L451.9,204.9L452.0,203.0L452.2,204.7L452.3,204.5L452.4,206.7L452.6,204.5L452.7,204.2L452.9,203.7L453.0,203.1L453.1,205.1L453.3,205.5L453.4,203.8L453.6,204.9L453.7,203.9L453.8,204.8L454.0,205.1L454.1,203.0L454.3,203.7L454.4,205.2L454.5,202.4L454.7,204.2L454.8,203.8L455.0,203.4L455.1,204.4L455.2,204.6L455.4,205.1L455.5,201.7L455.7,206.1L455.8,203.9L455.9,205.5L456.1,204.1L456.2,203.7L456.4,204.2L456.5,207.5L456.6,205.7L456.8,203.9L456.9,204.6L457.1,205.7L457.2,204.9L457.3,204.3L457.5,204.0L457.6,203.0L457.8,204.9L457.9,205.3L458.0,206.3L458.2,203.2L458.3,204.7L458.5,204.0L458.6,205.4L458.7,204.2L458.9,203.4L459.0,202.3L459.2,204.6L459.3,204.3L459.4,205.6L459.6,203.9L459.7,207.3L459.9,204.0L460.0,205.4L460.1,205.2L460.3,206.3L460.4,204.6L460.6,203.8L460.7,203.6L460.8,205.4L461.0,204.7L461.1,204.8L461.3,203.7L461.4,204.8L461.5,205.1L461.7,205.5L461.8,203.3L462.0,204.1L462.1,206.5L462.2,204.4L462.4,204.6L462.5,204.5L462.7,203.6L462.8,204.0L462.9,205.4L463.1,204.5L463.2,207.3L463.4,203.5L463.5,203.0L463.6,204.1L463.8,203.2L463.9,205.7L464.1,203.6L464.2,204.7L464.3,202.8L464.5,204.7L464.6,204.6L464.8,205.1L464.9,204.1L465.0,204.4L465.2,204.0L465.3,204.7L465.5,203.6L465.6,204.1L465.7,203.2L465.9,204.6L466.0,203.4L466.2,203.3L466.3,203.4L466.4,205.4L466.6,202.5L466.7,202.5L466.9,204.6L467.0,202.9L467.1,203.4L467.3,203.5L467.4,206.2L467.6,203.1L467.7,203.4L467.8,203.9L468.0,204.4L468.1,204.9L468.3,202.8L468.4,204.5L468.5,206.3L468.7,202.5L468.8,204.9L469.0,205.1L469.1,204.7L469.2,204.5L469.4,202.3L469.5,206.2L469.7,204.5L469.8,204.6L469.9,205.9L470.1,202.2L470.2,204.6L470.4,205.5L470.5,205.7L470.6,205.5L470.8,206.7L470.9,205.2L471.1,205.9L471.2,205.4L471.3,203.0L471.5,203.6L471.6,206.2L471.8,203.8L471.9,204.0L472.0,203.0L472.2,204.0L472.3,202.9L472.5,203.6L472.6,204.6L472.7,203.1L472.9,203.4L473.0,205.4L473.2,204.7L473.3,204.8L473.4,205.2L473.6,203.9L473.7,204.1L473.9,202.3L474.0,205.0L474.1,204.0L474.3,204.2L474.4,203.2L474.6,204.8L474.7,204.9L474.8,204.3L475.0,202.7L475.1,203.3L475.3,204.1L475.4,203.0L475.5,204.3L475.7,204.7L475.8,203.0L476.0,203.8L476.1,203.4L476.2,205.0L476.4,204.9L476.5,206.8L476.7,204.2L476.8,203.4L476.9,205.0L477.1,204.3L477.2,204.8L477.4,206.2L477.5,204.6L477.6,205.8L477.8,203.0L477.9,206.2L478.1,205.2L478.2,204.7L478.3,204.6L478.5,206.4L478.6,204.1L478.8,205.7L478.9,203.8L479.0,204.2L479.2,204.5L479.3,206.3L479.5,204.1L479.6,204.2L479.7,204.1L479.9,203.9L480.0,203.4L480.2,206.0L480.3,205.7L480.4,203.4L480.6,204.4L480.7,203.3L480.9,205.6L481.0,205.6L481.1,205.1L481.3,204.2L481.4,205.8L481.6,205.6L481.7,204.6L481.8,205.6L482.0,203.3L482.1,204.1L482.3,203.7L482.4,204.9L482.5,206.5L482.7,205.0L482.8,205.9L483.0,204.7L483.1,204.0L483.2,205.6L483.4,205.1L483.5,206.0L483.7,205.5L483.8,203.9L483.9,201.7L484.1,204.4L484.2,203.3L484.4,203.1L484.5,203.1L484.6,204.0L484.8,204.1L484.9,204.5L485.1,206.5L485.2,203.4L485.3,204.5L485.5,203.4L485.6,203.7L485.8,204.9L485.9,205.3L486.0,203.7L486.2,206.2L486.3,204.0L486.5,205.7L486.6,204.4L486.7,205.4L486.9,205.1L487.0,204.1L487.2,205.0L487.3,203.0L487.4,202.9L487.6,203.8L487.7,205.5L487.9,203.5L488.0,203.6L488.1,206.0L488.3,204.5L488.4,204.4L488.6,203.3L488.7,204.5L488.8,205.0L489.0,204.6L489.1,205.4L489.3,204.9L489.4,205.7L489.5,205.5L489.7,204.2L489.8,205.3L490.0,206.1L490.1,204.4L490.2,202.9L490.4,204.2L490.5,203.6L490.7,206.5L490.8,204.7L490.9,202.8L491.1,203.6L491.2,205.3L491.4,202.6L491.5,203.3L491.6,203.9L491.8,203.7L491.9,203.4L492.1,203.9L492.2,202.3L492.3,203.2L492.5,203.2L492.6,203.9L492.8,204.1L492.9,204.4L493.0,204.1L493.2,204.1L493.3,204.7L493.5,205.3L493.6,205.4L493.7,203.3L493.9,204.7L494.0,205.1L494.2,204.3L494.3,205.1L494.4,204.3L494.6,204.9L494.7,202.6L494.9,204.5L495.0,203.4L495.1,203.3L495.3,203.5L495.4,204.7L495.6,204.6L495.7,203.8L495.8,204.5L496.0,203.1L496.1,202.2L496.3,201.6L496.4,203.7L496.5,203.5L496.7,203.6L496.8,203.7L497.0,205.0L497.1,202.7L497.2,202.6L497.4,205.7L497.5,204.8L497.7,203.7L497.8,202.0L497.9,203.1L498.1,203.8L498.2,203.9L498.4,204.2L498.5,203.7L498.6,205.0L498.8,202.7L498.9,203.5L499.1,203.3L499.2,204.8L499.3,204.2L499.5,204.6L499.6,203.8L499.8,207.6L499.9,204.5L500.0,202.9L500.2,203.5L500.3,203.3L500.5,204.3L500.6,204.7L500.7,204.1L500.9,203.5L501.0,203.1L501.2,205.1L501.3,204.6L501.4,200.5L501.6,203.7L501.7,202.9L501.9,203.3L502.0,205.5L502.1,202.6L502.3,202.7L502.4,206.3L502.6,203.5L502.7,203.5L502.8,204.9L503.0,203.2L503.1,203.6L503.3,203.9L503.4,205.0L503.5,201.7L503.7,202.4L503.8,202.9L504.0,204.0L504.1,202.3L504.2,203.5L504.4,202.4L504.5,202.6L504.7,204.0L504.8,202.5L504.9,205.8L505.1,203.0L505.2,203.9L505.4,203.5L505.5,201.2L505.6,201.5L505.8,203.6L505.9,201.8L506.1,202.4L506.2,202.6L506.3,202.0L506.5,204.1L506.6,203.5L506.8,202.9L506.9,203.3L507.0,201.5L507.2,203.4L507.3,201.4L507.5,204.0L507.6,201.4L507.7,201.2L507.9,203.1L508.0,202.7L508.2,201.1L508.3,202.4L508.4,201.9L508.6,202.1L508.7,202.8L508.9,203.1L509.0,203.7L509.1,203.3L509.3,203.3L509.4,203.1L509.6,204.8L509.7,202.6L509.8,205.7L510.0,205.6L510.1,205.7L510.3,203.4L510.4,205.7L510.5,204.7L510.7,204.8L510.8,207.2L511.0,204.1L511.1,204.3L511.2,202.3L511.4,201.3L511.5,203.8L511.7,203.9L511.8,204.5L511.9,204.2L512.1,202.1L512.2,204.6L512.4,205.3L512.5,206.0L512.6,203.4L512.8,203.2L512.9,203.3L513.1,203.3L513.2,202.5L513.3,203.6L513.5,206.1L513.6,203.5L513.8,202.6L513.9,204.2L514.0,203.9L514.2,205.1L514.3,203.5L514.5,204.3L514.6,203.6L514.7,203.5L514.9,205.0L515.0,204.8L515.2,204.5L515.3,205.0L515.4,203.5L515.6,204.2L515.7,204.5L515.9,205.5L516.0,202.2L516.1,203.8L516.3,204.8L516.4,204.0L516.6,204.4L516.7,205.2L516.8,204.7L517.0,202.3L517.1,202.9L517.3,201.5L517.4,205.0L517.5,204.6L517.7,205.8L517.8,204.4L518.0,203.4L518.1,205.6L518.2,203.1L518.4,204.3L518.5,204.0L518.7,205.2L518.8,205.1L518.9,203.9L519.1,203.8L519.2,204.7L519.4,204.1L519.5,205.5L519.6,205.0L519.8,206.1L519.9,207.3L520.1,203.7L520.2,204.0L520.3,205.2L520.5,205.2L520.6,204.4L520.8,202.8L520.9,207.3L521.0,204.7L521.2,203.3L521.3,201.7L521.5,205.6L521.6,204.6L521.7,204.5L521.9,203.5L522.0,204.6L522.2,204.1L522.3,201.9L522.4,207.3L522.6,204.9L522.7,204.2L522.9,203.7L523.0,204.2L523.1,207.6L523.3,205.4L523.4,203.8L523.6,205.7L523.7,205.5L523.8,205.3L524.0,204.5L524.1,204.3L524.3,204.8L524.4,204.4L524.5,203.0L524.7,203.4L524.8,204.4L525.0,202.6L525.1,204.0L525.2,203.8L525.4,204.9L525.5,204.2L525.7,204.0L525.8,204.0L525.9,204.9L526.1,205.5L526.2,203.5L526.4,203.0L526.5,203.7L526.6,202.2L526.8,203.8L526.9,205.4L527.1,205.6L527.2,206.6L527.3,204.9L527.5,205.0L527.6,204.3L527.8,204.4L527.9,205.1L528.0,205.7L528.2,205.1L528.3,202.6L528.5,205.3L528.6,204.7L528.7,204.1L528.9,204.7L529.0,205.6L529.2,204.8L529.3,203.7L529.4,208.1L529.6,204.0L529.7,205.1L529.9,206.1L530.0,203.9L530.1,205.2L530.3,203.8L530.4,204.4L530.6,203.6L530.7,206.4L530.8,203.1L531.0,205.1L531.1,204.6L531.3,202.4L531.4,205.9L531.5,203.5L531.7,203.9L531.8,204.4L532.0,203.1L532.1,203.4L532.2,204.3L532.4,203.6L532.5,204.5L532.7,206.0L532.8,203.6L532.9,203.1L533.1,204.7L533.2,205.2L533.4,205.6L533.5,204.0L533.6,202.6L533.8,205.8L533.9,205.7" fill="none" stroke="#ff0000" stroke-width="1.35" stroke-linejoin="round"/>
<polygon points="65.3,200.9 68.2,204.5 65.3,208.1 62.4,204.5" fill="#000"/>
<polygon points="103.5,195.3 106.4,198.9 103.5,202.5 100.6,198.9" fill="#000"/>
<polygon points="122.0,191.3 124.9,194.9 122.0,198.5 119.1,194.9" fill="#000"/>
<circle cx="129.4" cy="199.2" r="2.9" fill="#ff0000"/>
<polygon points="147.1,178.9 150.0,182.5 147.1,186.1 144.2,182.5" fill="#000"/>
<path d="M159.70,186.90 C160.67,188.21 162.95,189.06 162.95,190.83 C162.95,192.27 161.00,192.53 160.02,191.61 Q160.22,193.71 162.04,194.10 L157.36,194.10 Q159.18,193.71 159.38,191.61 C158.40,192.53 156.45,192.27 156.45,190.83 C156.45,189.06 158.72,188.21 159.70,186.90 Z" fill="#ff0000"/>
<polygon points="167.4,150.8 170.3,154.4 167.4,158.0 164.5,154.4" fill="#ff0000"/>
<path d="M171.00,183.90 C171.97,185.21 174.25,186.06 174.25,187.83 C174.25,189.27 172.30,189.53 171.32,188.61 Q171.52,190.71 173.34,191.10 L168.66,191.10 Q170.48,190.71 170.68,188.61 C169.70,189.53 167.75,189.27 167.75,187.83 C167.75,186.06 170.03,185.21 171.00,183.90 Z" fill="#ff0000"/>
<path d="M181.00,182.90 C181.97,184.21 184.25,185.06 184.25,186.83 C184.25,188.27 182.30,188.53 181.32,187.61 Q181.52,189.71 183.34,190.10 L178.66,190.10 Q180.48,189.71 180.68,187.61 C179.70,188.53 177.75,188.27 177.75,186.83 C177.75,185.06 180.03,184.21 181.00,182.90 Z" fill="#000"/>
<circle cx="200.2" cy="165.4" r="2.9" fill="#000"/>
<circle cx="206.4" cy="168.7" r="2.9" fill="#ff0000"/>
<circle cx="219.2" cy="169.3" r="2.9" fill="#000"/>
<circle cx="250.0" cy="180.0" r="2.9" fill="#000"/>
<polygon points="256.7,180.2 259.6,183.8 256.7,187.4 253.8,183.8" fill="#ff0000"/>
<path d="M284.70,187.40 C285.68,188.71 287.95,189.56 287.95,191.33 C287.95,192.77 286.00,193.03 285.02,192.11 Q285.22,194.21 287.04,194.60 L282.36,194.60 Q284.18,194.21 284.38,192.11 C283.40,193.03 281.45,192.77 281.45,191.33 C281.45,189.56 283.72,188.71 284.70,187.40 Z" fill="#ff0000"/>
<path d="M300.40,183.40 C301.38,184.71 303.65,185.56 303.65,187.33 C303.65,188.77 301.70,189.03 300.72,188.11 Q300.92,190.21 302.74,190.60 L298.06,190.60 Q299.88,190.21 300.07,188.11 C299.10,189.03 297.15,188.77 297.15,187.33 C297.15,185.56 299.42,184.71 300.40,183.40 Z" fill="#000"/>
<path d="M326.40,183.40 C327.38,184.71 329.65,185.56 329.65,187.33 C329.65,188.77 327.70,189.03 326.72,188.11 Q326.92,190.21 328.74,190.60 L324.06,190.60 Q325.88,190.21 326.07,188.11 C325.10,189.03 323.15,188.77 323.15,187.33 C323.15,185.56 325.42,184.71 326.40,183.40 Z" fill="#000"/>
<polygon points="335.5,181.4 338.4,185.0 335.5,188.6 332.6,185.0" fill="#ff0000"/>
<polygon points="65.0,260.7 67.9,264.3 65.0,267.9 62.1,264.3" fill="#000"/>
<polygon points="103.1,255.2 106.0,258.8 103.1,262.4 100.2,258.8" fill="#000"/>
<polygon points="121.0,250.3 123.9,253.9 121.0,257.5 118.1,253.9" fill="#000"/>
<circle cx="133.0" cy="263.3" r="2.9" fill="#ff0000"/>
<polygon points="146.7,242.2 149.6,245.8 146.7,249.4 143.8,245.8" fill="#000"/>
<path d="M160.60,252.90 C161.57,254.21 163.85,255.06 163.85,256.83 C163.85,258.27 161.90,258.53 160.92,257.61 Q161.12,259.71 162.94,260.10 L158.26,260.10 Q160.08,259.71 160.28,257.61 C159.30,258.53 157.35,258.27 157.35,256.83 C157.35,255.06 159.62,254.21 160.60,252.90 Z" fill="#ff0000"/>
<polygon points="167.3,212.3 170.2,215.9 167.3,219.5 164.4,215.9" fill="#ff0000"/>
<path d="M173.10,251.90 C174.07,253.21 176.35,254.06 176.35,255.83 C176.35,257.27 174.40,257.53 173.42,256.61 Q173.62,258.71 175.44,259.10 L170.76,259.10 Q172.58,258.71 172.78,256.61 C171.80,257.53 169.85,257.27 169.85,255.83 C169.85,254.06 172.12,253.21 173.10,251.90 Z" fill="#ff0000"/>
<path d="M181.00,253.90 C181.97,255.21 184.25,256.06 184.25,257.83 C184.25,259.27 182.30,259.53 181.32,258.61 Q181.52,260.71 183.34,261.10 L178.66,261.10 Q180.48,260.71 180.68,258.61 C179.70,259.53 177.75,259.27 177.75,257.83 C177.75,256.06 180.03,255.21 181.00,253.90 Z" fill="#000"/>
<circle cx="200.1" cy="228.1" r="2.9" fill="#000"/>
<circle cx="205.2" cy="233.8" r="2.9" fill="#ff0000"/>
<circle cx="220.4" cy="233.3" r="2.9" fill="#000"/>
<circle cx="249.7" cy="243.6" r="2.9" fill="#000"/>
<polygon points="257.4,248.4 260.3,252.0 257.4,255.6 254.5,252.0" fill="#ff0000"/>
<path d="M284.20,257.40 C285.18,258.71 287.45,259.56 287.45,261.33 C287.45,262.77 285.50,263.03 284.52,262.11 Q284.72,264.21 286.54,264.60 L281.86,264.60 Q283.68,264.21 283.88,262.11 C282.90,263.03 280.95,262.77 280.95,261.33 C280.95,259.56 283.22,258.71 284.20,257.40 Z" fill="#ff0000"/>
<path d="M297.70,253.90 C298.68,255.21 300.95,256.06 300.95,257.83 C300.95,259.27 299.00,259.53 298.02,258.61 Q298.22,260.71 300.04,261.10 L295.36,261.10 Q297.18,260.71 297.38,258.61 C296.40,259.53 294.45,259.27 294.45,257.83 C294.45,256.06 296.72,255.21 297.70,253.90 Z" fill="#000"/>
<path d="M324.70,249.90 C325.68,251.21 327.95,252.06 327.95,253.83 C327.95,255.27 326.00,255.53 325.02,254.61 Q325.22,256.71 327.04,257.10 L322.36,257.10 Q324.18,256.71 324.38,254.61 C323.40,255.53 321.45,255.27 321.45,253.83 C321.45,252.06 323.72,251.21 324.70,249.90 Z" fill="#000"/>
<polygon points="336.5,254.2 339.4,257.8 336.5,261.4 333.6,257.8" fill="#ff0000"/>
<polygon points="65.0,328.9 67.9,332.5 65.0,336.1 62.1,332.5" fill="#000"/>
<polygon points="103.9,316.5 106.8,320.1 103.9,323.7 101.0,320.1" fill="#000"/>
<polygon points="121.9,317.4 124.8,321.0 121.9,324.6 119.0,321.0" fill="#000"/>
<circle cx="133.0" cy="334.0" r="2.9" fill="#ff0000"/>
<polygon points="146.0,311.6 148.9,315.2 146.0,318.8 143.1,315.2" fill="#000"/>
<path d="M161.30,326.90 C162.28,328.21 164.55,329.06 164.55,330.83 C164.55,332.27 162.60,332.53 161.62,331.61 Q161.82,333.71 163.64,334.10 L158.96,334.10 Q160.78,333.71 160.98,331.61 C160.00,332.53 158.05,332.27 158.05,330.83 C158.05,329.06 160.33,328.21 161.30,326.90 Z" fill="#ff0000"/>
<polygon points="169.1,281.9 172.0,285.5 169.1,289.1 166.2,285.5" fill="#ff0000"/>
<path d="M173.00,328.40 C173.97,329.71 176.25,330.56 176.25,332.33 C176.25,333.77 174.30,334.03 173.32,333.11 Q173.52,335.21 175.34,335.60 L170.66,335.60 Q172.48,335.21 172.68,333.11 C171.70,334.03 169.75,333.77 169.75,332.33 C169.75,330.56 172.03,329.71 173.00,328.40 Z" fill="#ff0000"/>
<path d="M182.80,324.90 C183.78,326.21 186.05,327.06 186.05,328.83 C186.05,330.27 184.10,330.53 183.12,329.61 Q183.32,331.71 185.14,332.10 L180.46,332.10 Q182.28,331.71 182.48,329.61 C181.50,330.53 179.55,330.27 179.55,328.83 C179.55,327.06 181.83,326.21 182.80,324.90 Z" fill="#000"/>
<circle cx="200.7" cy="302.8" r="2.9" fill="#000"/>
<circle cx="206.0" cy="311.9" r="2.9" fill="#ff0000"/>
<circle cx="219.8" cy="308.6" r="2.9" fill="#000"/>
<circle cx="250.1" cy="319.7" r="2.9" fill="#000"/>
<polygon points="257.4,324.2 260.3,327.8 257.4,331.4 254.5,327.8" fill="#ff0000"/>
<path d="M285.00,333.90 C285.98,335.21 288.25,336.06 288.25,337.83 C288.25,339.27 286.30,339.53 285.32,338.61 Q285.52,340.71 287.34,341.10 L282.66,341.10 Q284.48,340.71 284.68,338.61 C283.70,339.53 281.75,339.27 281.75,337.83 C281.75,336.06 284.02,335.21 285.00,333.90 Z" fill="#ff0000"/>
<path d="M300.60,332.90 C301.58,334.21 303.85,335.06 303.85,336.83 C303.85,338.27 301.90,338.53 300.93,337.61 Q301.12,339.71 302.94,340.10 L298.26,340.10 Q300.08,339.71 300.28,337.61 C299.30,338.53 297.35,338.27 297.35,336.83 C297.35,335.06 299.62,334.21 300.60,332.90 Z" fill="#000"/>
<path d="M326.50,329.90 C327.48,331.21 329.75,332.06 329.75,333.83 C329.75,335.27 327.80,335.53 326.82,334.61 Q327.02,336.71 328.84,337.10 L324.16,337.10 Q325.98,336.71 326.18,334.61 C325.20,335.53 323.25,335.27 323.25,333.83 C323.25,332.06 325.52,331.21 326.50,329.90 Z" fill="#000"/>
<polygon points="337.1,332.9 340.0,336.5 337.1,340.1 334.2,336.5" fill="#ff0000"/>
<rect x="40" y="8" width="495" height="399" fill="none" stroke="#000" stroke-width="2"/>
<line x1="69.12" y1="407" x2="69.12" y2="398.8" stroke="#000" stroke-width="1.9"/>
<line x1="98.24" y1="407" x2="98.24" y2="398.8" stroke="#000" stroke-width="1.9"/>
<line x1="127.35" y1="407" x2="127.35" y2="398.8" stroke="#000" stroke-width="1.9"/>
<line x1="156.47" y1="407" x2="156.47" y2="398.8" stroke="#000" stroke-width="1.9"/>
<line x1="185.59" y1="407" x2="185.59" y2="398.8" stroke="#000" stroke-width="1.9"/>
<line x1="214.71" y1="407" x2="214.71" y2="398.8" stroke="#000" stroke-width="1.9"/>
<line x1="243.82" y1="407" x2="243.82" y2="398.8" stroke="#000" stroke-width="1.9"/>
<line x1="272.94" y1="407" x2="272.94" y2="398.8" stroke="#000" stroke-width="1.9"/>
<line x1="302.06" y1="407" x2="302.06" y2="398.8" stroke="#000" stroke-width="1.9"/>
<line x1="331.18" y1="407" x2="331.18" y2="398.8" stroke="#000" stroke-width="1.9"/>
<line x1="360.29" y1="407" x2="360.29" y2="398.8" stroke="#000" stroke-width="1.9"/>
<line x1="389.41" y1="407" x2="389.41" y2="398.8" stroke="#000" stroke-width="1.9"/>
<line x1="418.53" y1="407" x2="418.53" y2="398.8" stroke="#000" stroke-width="1.9"/>
<line x1="447.65" y1="407" x2="447.65" y2="398.8" stroke="#000" stroke-width="1.9"/>
<line x1="476.76" y1="407" x2="476.76" y2="398.8" stroke="#000" stroke-width="1.9"/>
<line x1="505.88" y1="407" x2="505.88" y2="398.8" stroke="#000" stroke-width="1.9"/>
<line x1="54.56" y1="407" x2="54.56" y2="411" stroke="#000" stroke-width="1.9"/>
<line x1="83.68" y1="407" x2="83.68" y2="411" stroke="#000" stroke-width="1.9"/>
<line x1="112.79" y1="407" x2="112.79" y2="411" stroke="#000" stroke-width="1.9"/>
<line x1="141.91" y1="407" x2="141.91" y2="411" stroke="#000" stroke-width="1.9"/>
<line x1="171.03" y1="407" x2="171.03" y2="411" stroke="#000" stroke-width="1.9"/>
<line x1="200.15" y1="407" x2="200.15" y2="411" stroke="#000" stroke-width="1.9"/>
<line x1="229.26" y1="407" x2="229.26" y2="411" stroke="#000" stroke-width="1.9"/>
<line x1="258.38" y1="407" x2="258.38" y2="411" stroke="#000" stroke-width="1.9"/>
<line x1="287.50" y1="407" x2="287.50" y2="411" stroke="#000" stroke-width="1.9"/>
<line x1="316.62" y1="407" x2="316.62" y2="411" stroke="#000" stroke-width="1.9"/>
<line x1="345.74" y1="407" x2="345.74" y2="411" stroke="#000" stroke-width="1.9"/>
<line x1="374.85" y1="407" x2="374.85" y2="411" stroke="#000" stroke-width="1.9"/>
<line x1="403.97" y1="407" x2="403.97" y2="411" stroke="#000" stroke-width="1.9"/>
<line x1="433.09" y1="407" x2="433.09" y2="411" stroke="#000" stroke-width="1.9"/>
<line x1="462.21" y1="407" x2="462.21" y2="411" stroke="#000" stroke-width="1.9"/>
<line x1="491.32" y1="407" x2="491.32" y2="411" stroke="#000" stroke-width="1.9"/>
<line x1="520.44" y1="407" x2="520.44" y2="411" stroke="#000" stroke-width="1.9"/>
<g font-size="17.3"><text x="40.30" y="430.4" text-anchor="middle">5</text><text x="69.42" y="430.4" text-anchor="middle">10</text><text x="98.54" y="430.4" text-anchor="middle">15</text><text x="127.65" y="430.4" text-anchor="middle">20</text><text x="156.77" y="430.4" text-anchor="middle">25</text><text x="185.89" y="430.4" text-anchor="middle">30</text><text x="215.01" y="430.4" text-anchor="middle">35</text><text x="244.12" y="430.4" text-anchor="middle">40</text><text x="273.24" y="430.4" text-anchor="middle">45</text><text x="302.36" y="430.4" text-anchor="middle">50</text><text x="331.48" y="430.4" text-anchor="middle">55</text><text x="360.59" y="430.4" text-anchor="middle">60</text><text x="389.71" y="430.4" text-anchor="middle">65</text><text x="418.83" y="430.4" text-anchor="middle">70</text><text x="447.95" y="430.4" text-anchor="middle">75</text><text x="477.06" y="430.4" text-anchor="middle">80</text><text x="506.18" y="430.4" text-anchor="middle">85</text><text x="535.30" y="430.4" text-anchor="middle">90</text></g>
<text x="289" y="458.7" font-size="21.5" letter-spacing="1.1" text-anchor="middle">2θ/°</text>
<text transform="translate(23.3,261) rotate(-90)" font-size="20.6">Intensity/a.u.</text>
<g stroke-linecap="round" stroke-width="4">
<line x1="42.5" y1="16.9" x2="72.7" y2="16.9" stroke="#ff0000"/>
<line x1="42.5" y1="36" x2="72.7" y2="36" stroke="#0a5f9c"/>
<line x1="42.5" y1="54.5" x2="72.7" y2="54.5" stroke="#ffbf00"/>
</g>
<g font-size="15.8"><text x="80.4" y="22.8">3d</text><text x="80.4" y="41.6">7d</text><text x="80.4" y="60.3">28d</text></g>
<circle cx="260.5" cy="27.2" r="4.1" fill="#000"/>
<circle cx="260.5" cy="57.7" r="4.1" fill="#ff0000"/>
<polygon points="335.4,21.0 340.0,26.8 335.4,32.6 330.8,26.8" fill="#000"/>
<polygon points="330.5,51.5 335.1,57.3 330.5,63.1 325.9,57.3" fill="#ff0000"/>
<path d="M406.30,21.05 C407.86,23.14 411.50,24.50 411.50,27.32 C411.50,29.62 408.38,30.04 406.82,28.58 Q407.13,31.92 410.04,32.55 L402.56,32.55 Q405.47,31.92 405.78,28.58 C404.22,30.04 401.10,29.62 401.10,27.32 C401.10,24.50 404.74,23.14 406.30,21.05 Z" fill="#000"/>
<path d="M437.60,51.75 C439.16,53.84 442.80,55.20 442.80,58.02 C442.80,60.32 439.68,60.74 438.12,59.28 Q438.43,62.62 441.34,63.25 L433.86,63.25 Q436.77,62.62 437.08,59.28 C435.52,60.74 432.40,60.32 432.40,58.02 C432.40,55.20 436.04,53.84 437.60,51.75 Z" fill="#ff0000"/>
<g font-size="21">
<text x="266.7" y="32.4">-C<tspan font-size="19" dy="5.1">2</tspan><tspan dy="-5.1">S</tspan></text>
<text x="266.7" y="63.4">-C<tspan font-size="19" dy="4.9">3</tspan><tspan dy="-4.9">S</tspan></text>
<text x="340.3" y="32.5">-AFt</text>
<text x="335.4" y="63.7">-Ca(OH)<tspan font-size="14" x="409.6" dy="5.6">2</tspan></text>
<text x="412.4" y="32.3">-C-S-H</text>
<text x="443" y="63.4">-C-A-S-H</text>
</g>
</svg>
</body></html>
